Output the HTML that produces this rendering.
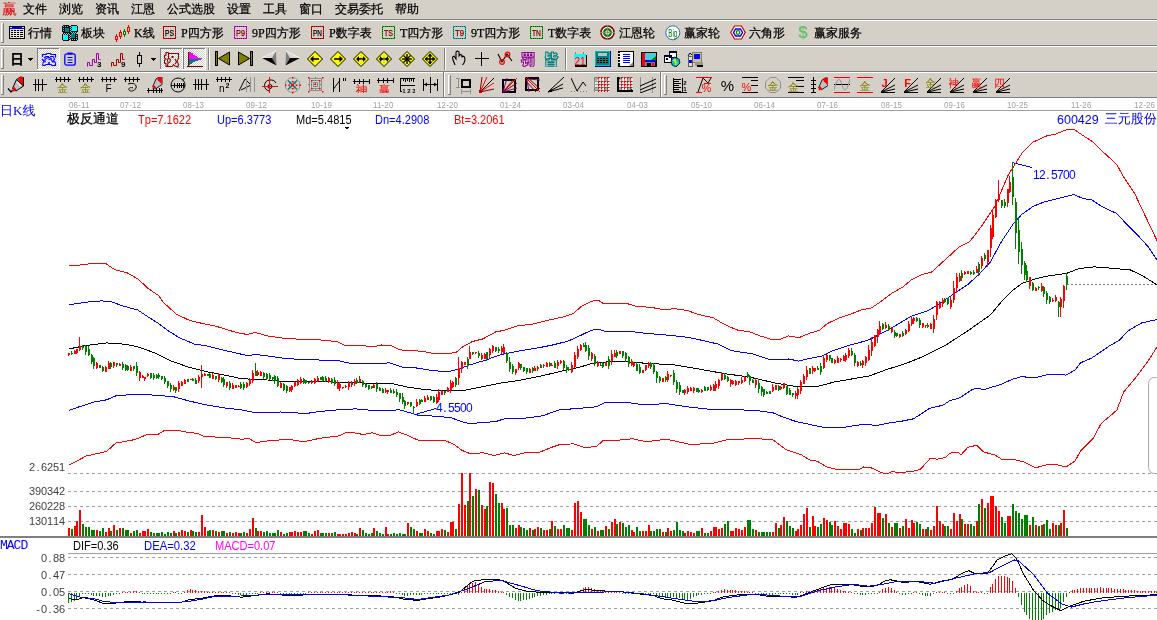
<!DOCTYPE html>
<html><head><meta charset="utf-8"><style>
html,body{margin:0;padding:0}
body{width:1157px;height:620px;overflow:hidden;background:#D4D0C8;position:relative}
.t{position:absolute;white-space:nowrap;line-height:1;}
.k{-webkit-text-stroke:0.25px currentColor;}
.ic{position:absolute;}
</style></head><body>
<div class="t k" style="left:23px;top:3px;color:#000;font-size:12px;font-family:'Liberation Sans','WenQuanYi Zen Hei','Noto Sans CJK SC',sans-serif;">文件</div>
<div class="t k" style="left:59px;top:3px;color:#000;font-size:12px;font-family:'Liberation Sans','WenQuanYi Zen Hei','Noto Sans CJK SC',sans-serif;">浏览</div>
<div class="t k" style="left:95px;top:3px;color:#000;font-size:12px;font-family:'Liberation Sans','WenQuanYi Zen Hei','Noto Sans CJK SC',sans-serif;">资讯</div>
<div class="t k" style="left:131px;top:3px;color:#000;font-size:12px;font-family:'Liberation Sans','WenQuanYi Zen Hei','Noto Sans CJK SC',sans-serif;">江恩</div>
<div class="t k" style="left:167px;top:3px;color:#000;font-size:12px;font-family:'Liberation Sans','WenQuanYi Zen Hei','Noto Sans CJK SC',sans-serif;">公式选股</div>
<div class="t k" style="left:227px;top:3px;color:#000;font-size:12px;font-family:'Liberation Sans','WenQuanYi Zen Hei','Noto Sans CJK SC',sans-serif;">设置</div>
<div class="t k" style="left:263px;top:3px;color:#000;font-size:12px;font-family:'Liberation Sans','WenQuanYi Zen Hei','Noto Sans CJK SC',sans-serif;">工具</div>
<div class="t k" style="left:299px;top:3px;color:#000;font-size:12px;font-family:'Liberation Sans','WenQuanYi Zen Hei','Noto Sans CJK SC',sans-serif;">窗口</div>
<div class="t k" style="left:335px;top:3px;color:#000;font-size:12px;font-family:'Liberation Sans','WenQuanYi Zen Hei','Noto Sans CJK SC',sans-serif;">交易委托</div>
<div class="t k" style="left:395px;top:3px;color:#000;font-size:12px;font-family:'Liberation Sans','WenQuanYi Zen Hei','Noto Sans CJK SC',sans-serif;">帮助</div>
<div class="t" style="left:2px;top:1px;color:#E00000;font-size:15px;font-family:'Liberation Sans','WenQuanYi Zen Hei','Noto Sans CJK SC',sans-serif">赢</div>
<div style="position:absolute;left:0;top:19px;width:1157px;height:1px;background:#808080"></div>
<div style="position:absolute;left:0;top:20px;width:1157px;height:1px;background:#FFFFFF"></div>
<div style="position:absolute;left:0;top:45px;width:1157px;height:1px;background:#808080"></div>
<div style="position:absolute;left:0;top:46px;width:1157px;height:1px;background:#FFFFFF"></div>
<div style="position:absolute;left:0;top:71px;width:1157px;height:1px;background:#808080"></div>
<div style="position:absolute;left:0;top:72px;width:1157px;height:1px;background:#FFFFFF"></div>
<div style="position:absolute;left:0;top:97px;width:1157px;height:1px;background:#808080"></div>
<div style="position:absolute;left:1px;top:23px;width:1px;height:20px;background:#fff"></div><div style="position:absolute;left:3px;top:23px;width:1px;height:20px;background:#808080"></div><div style="position:absolute;left:1px;top:23px;width:2px;height:1px;background:#fff"></div><div style="position:absolute;left:1px;top:42px;width:3px;height:1px;background:#808080"></div>
<div style="position:absolute;left:1px;top:49px;width:1px;height:20px;background:#fff"></div><div style="position:absolute;left:3px;top:49px;width:1px;height:20px;background:#808080"></div><div style="position:absolute;left:1px;top:49px;width:2px;height:1px;background:#fff"></div><div style="position:absolute;left:1px;top:68px;width:3px;height:1px;background:#808080"></div>
<div style="position:absolute;left:1px;top:75px;width:1px;height:20px;background:#fff"></div><div style="position:absolute;left:3px;top:75px;width:1px;height:20px;background:#808080"></div><div style="position:absolute;left:1px;top:75px;width:2px;height:1px;background:#fff"></div><div style="position:absolute;left:1px;top:94px;width:3px;height:1px;background:#808080"></div>
<div style="position:absolute;left:448px;top:75px;width:1px;height:20px;background:#fff"></div><div style="position:absolute;left:450px;top:75px;width:1px;height:20px;background:#808080"></div><div style="position:absolute;left:448px;top:75px;width:2px;height:1px;background:#fff"></div><div style="position:absolute;left:448px;top:94px;width:3px;height:1px;background:#808080"></div>
<div style="position:absolute;left:664px;top:75px;width:1px;height:20px;background:#fff"></div><div style="position:absolute;left:666px;top:75px;width:1px;height:20px;background:#808080"></div><div style="position:absolute;left:664px;top:75px;width:2px;height:1px;background:#fff"></div><div style="position:absolute;left:664px;top:94px;width:3px;height:1px;background:#808080"></div>
<div style="position:absolute;left:443px;top:72px;width:1px;height:26px;background:#808080"></div>
<div style="position:absolute;left:444px;top:72px;width:1px;height:25px;background:#fff"></div>
<div style="position:absolute;left:660px;top:72px;width:1px;height:26px;background:#808080"></div>
<div style="position:absolute;left:661px;top:72px;width:1px;height:25px;background:#fff"></div>
<div class="t k" style="left:28px;top:27px;color:#000;font-size:12px;font-family:'Liberation Serif','WenQuanYi Zen Hei',serif;">行情</div>
<div class="t k" style="left:81px;top:27px;color:#000;font-size:12px;font-family:'Liberation Serif','WenQuanYi Zen Hei',serif;">板块</div>
<div class="t k" style="left:134px;top:27px;color:#000;font-size:12px;font-family:'Liberation Serif','WenQuanYi Zen Hei',serif;">K线</div>
<div class="t k" style="left:181px;top:27px;color:#000;font-size:12px;font-family:'Liberation Serif','WenQuanYi Zen Hei',serif;">P四方形</div>
<div class="t k" style="left:252px;top:27px;color:#000;font-size:12px;font-family:'Liberation Serif','WenQuanYi Zen Hei',serif;">9P四方形</div>
<div class="t k" style="left:329px;top:27px;color:#000;font-size:12px;font-family:'Liberation Serif','WenQuanYi Zen Hei',serif;">P数字表</div>
<div class="t k" style="left:400px;top:27px;color:#000;font-size:12px;font-family:'Liberation Serif','WenQuanYi Zen Hei',serif;">T四方形</div>
<div class="t k" style="left:471px;top:27px;color:#000;font-size:12px;font-family:'Liberation Serif','WenQuanYi Zen Hei',serif;">9T四方形</div>
<div class="t k" style="left:548px;top:27px;color:#000;font-size:12px;font-family:'Liberation Serif','WenQuanYi Zen Hei',serif;">T数字表</div>
<div class="t k" style="left:619px;top:27px;color:#000;font-size:12px;font-family:'Liberation Serif','WenQuanYi Zen Hei',serif;">江恩轮</div>
<div class="t k" style="left:684px;top:27px;color:#000;font-size:12px;font-family:'Liberation Serif','WenQuanYi Zen Hei',serif;">赢家轮</div>
<div class="t k" style="left:749px;top:27px;color:#000;font-size:12px;font-family:'Liberation Serif','WenQuanYi Zen Hei',serif;">六角形</div>
<div class="t k" style="left:814px;top:27px;color:#000;font-size:12px;font-family:'Liberation Serif','WenQuanYi Zen Hei',serif;">赢家服务</div>
<svg class="ic" style="left:9px;top:26px" width="16" height="13" viewBox="0 0 16 13" shape-rendering="crispEdges"><rect x="0" y="0" width="16" height="13" fill="#000"/><rect x="1" y="1" width="14" height="2" fill="#0000FF"/><rect x="1" y="3" width="14" height="9" fill="#E8E4DC"/><rect x="1" y="1" width="2" height="1" fill="#E8E4DC"/><rect x="13" y="1" width="2" height="1" fill="#E8E4DC"/><rect x="2" y="4" width="2" height="1" fill="#000"/><rect x="5" y="4" width="2" height="1" fill="#000"/><rect x="8" y="4" width="2" height="1" fill="#000"/><rect x="11" y="4" width="3" height="1" fill="#000"/><rect x="2" y="6" width="2" height="1" fill="#000"/><rect x="5" y="6" width="2" height="1" fill="#000"/><rect x="8" y="6" width="2" height="1" fill="#000"/><rect x="11" y="6" width="3" height="1" fill="#000"/><rect x="2" y="8" width="2" height="1" fill="#000"/><rect x="5" y="8" width="2" height="1" fill="#000"/><rect x="8" y="8" width="2" height="1" fill="#000"/><rect x="11" y="8" width="3" height="1" fill="#000"/><rect x="2" y="10" width="2" height="1" fill="#000"/><rect x="5" y="10" width="2" height="1" fill="#000"/><rect x="8" y="10" width="2" height="1" fill="#000"/><rect x="11" y="10" width="3" height="1" fill="#000"/></svg>
<svg class="ic" style="left:62px;top:25px" width="16" height="16" viewBox="0 0 16 16" shape-rendering="crispEdges"><rect x="0" y="0" width="16" height="16" fill="#000"/><rect x="7" y="0" width="1" height="1" fill="#D4D0C8"/><rect x="8" y="0" width="1" height="1" fill="#D4D0C8"/><rect x="7" y="15" width="1" height="1" fill="#D4D0C8"/><rect x="8" y="15" width="1" height="1" fill="#D4D0C8"/><rect x="0" y="7" width="1" height="1" fill="#D4D0C8"/><rect x="0" y="8" width="1" height="1" fill="#D4D0C8"/><rect x="15" y="7" width="1" height="1" fill="#D4D0C8"/><rect x="15" y="8" width="1" height="1" fill="#D4D0C8"/><rect x="0" y="0" width="1" height="1" fill="#D4D0C8"/><rect x="15" y="0" width="1" height="1" fill="#D4D0C8"/><rect x="0" y="15" width="1" height="1" fill="#D4D0C8"/><rect x="15" y="15" width="1" height="1" fill="#D4D0C8"/><rect x="1" y="1" width="1" height="1" fill="#00FFFF"/><rect x="1" y="1" width="1" height="1" fill="#00FFFF"/><rect x="3" y="1" width="1" height="1" fill="#00FFFF"/><rect x="1" y="3" width="1" height="1" fill="#00FFFF"/><rect x="5" y="1" width="1" height="1" fill="#00FFFF"/><rect x="1" y="5" width="1" height="1" fill="#00FFFF"/><rect x="9" y="1" width="1" height="1" fill="#00FFFF"/><rect x="8" y="2" width="1" height="1" fill="#00FFFF"/><rect x="9" y="3" width="1" height="1" fill="#00FFFF"/><rect x="8" y="4" width="1" height="1" fill="#00FFFF"/><rect x="9" y="5" width="1" height="1" fill="#00FFFF"/><rect x="8" y="6" width="1" height="1" fill="#00FFFF"/><rect x="9" y="7" width="1" height="1" fill="#00FFFF"/><rect x="9" y="7" width="1" height="1" fill="#00FFFF"/><rect x="10" y="8" width="1" height="1" fill="#00FFFF"/><rect x="11" y="7" width="1" height="1" fill="#00FFFF"/><rect x="12" y="8" width="1" height="1" fill="#00FFFF"/><rect x="13" y="7" width="1" height="1" fill="#00FFFF"/><rect x="14" y="8" width="1" height="1" fill="#00FFFF"/><rect x="1" y="9" width="1" height="1" fill="#00FFFF"/><rect x="2" y="8" width="1" height="1" fill="#00FFFF"/><rect x="3" y="9" width="1" height="1" fill="#00FFFF"/><rect x="4" y="8" width="1" height="1" fill="#00FFFF"/><rect x="5" y="9" width="1" height="1" fill="#00FFFF"/><rect x="6" y="8" width="1" height="1" fill="#00FFFF"/><rect x="7" y="9" width="1" height="1" fill="#00FFFF"/><rect x="8" y="10" width="1" height="1" fill="#00FFFF"/><rect x="7" y="11" width="1" height="1" fill="#00FFFF"/><rect x="8" y="12" width="1" height="1" fill="#00FFFF"/><rect x="7" y="13" width="1" height="1" fill="#00FFFF"/><rect x="8" y="14" width="1" height="1" fill="#00FFFF"/><rect x="14" y="10" width="1" height="1" fill="#00FFFF"/><rect x="10" y="14" width="1" height="1" fill="#00FFFF"/><rect x="14" y="12" width="1" height="1" fill="#00FFFF"/><rect x="12" y="14" width="1" height="1" fill="#00FFFF"/><rect x="14" y="14" width="1" height="1" fill="#00FFFF"/><rect x="14" y="14" width="1" height="1" fill="#00FFFF"/><rect x="3" y="3" width="4" height="4" fill="#008080"/><rect x="10" y="1" width="5" height="5" fill="#00FFFF"/><rect x="1" y="10" width="5" height="5" fill="#00FFFF"/><rect x="9" y="9" width="4" height="4" fill="#008080"/></svg>
<svg class="ic" style="left:114px;top:25px" width="17" height="17" viewBox="0 0 17 17" shape-rendering="crispEdges"><rect x="2" y="9" width="1" height="2" fill="#FF0000"/><rect x="1" y="11" width="3" height="4" fill="#FF0000"/><rect x="2" y="12" width="1" height="2" fill="#D4D0C8"/><rect x="2" y="15" width="1" height="2" fill="#FF0000"/><rect x="6" y="5" width="1" height="2" fill="#FF0000"/><rect x="5" y="7" width="3" height="5" fill="#FF0000"/><rect x="6" y="8" width="1" height="3" fill="#D4D0C8"/><rect x="6" y="12" width="1" height="2" fill="#FF0000"/><rect x="10" y="4" width="1" height="2" fill="#008000"/><rect x="9" y="6" width="3" height="4" fill="#008000"/><rect x="10" y="7" width="1" height="2" fill="#D4D0C8"/><rect x="10" y="10" width="1" height="2" fill="#008000"/><rect x="14" y="0" width="1" height="2" fill="#FF0000"/><rect x="13" y="2" width="3" height="5" fill="#FF0000"/><rect x="14" y="3" width="1" height="3" fill="#D4D0C8"/><rect x="14" y="7" width="1" height="2" fill="#FF0000"/></svg>
<svg class="ic" style="left:163px;top:26px" width="13" height="13" viewBox="0 0 13 13"><rect x="0" y="0" width="13" height="13" fill="#FF0000"/><rect x="1" y="0" width="1" height="1" fill="#800000"/><rect x="1" y="12" width="1" height="1" fill="#800000"/><rect x="0" y="1" width="1" height="1" fill="#800000"/><rect x="12" y="1" width="1" height="1" fill="#800000"/><rect x="3" y="0" width="1" height="1" fill="#800000"/><rect x="3" y="12" width="1" height="1" fill="#800000"/><rect x="0" y="3" width="1" height="1" fill="#800000"/><rect x="12" y="3" width="1" height="1" fill="#800000"/><rect x="5" y="0" width="1" height="1" fill="#800000"/><rect x="5" y="12" width="1" height="1" fill="#800000"/><rect x="0" y="5" width="1" height="1" fill="#800000"/><rect x="12" y="5" width="1" height="1" fill="#800000"/><rect x="7" y="0" width="1" height="1" fill="#800000"/><rect x="7" y="12" width="1" height="1" fill="#800000"/><rect x="0" y="7" width="1" height="1" fill="#800000"/><rect x="12" y="7" width="1" height="1" fill="#800000"/><rect x="9" y="0" width="1" height="1" fill="#800000"/><rect x="9" y="12" width="1" height="1" fill="#800000"/><rect x="0" y="9" width="1" height="1" fill="#800000"/><rect x="12" y="9" width="1" height="1" fill="#800000"/><rect x="11" y="0" width="1" height="1" fill="#800000"/><rect x="11" y="12" width="1" height="1" fill="#800000"/><rect x="0" y="11" width="1" height="1" fill="#800000"/><rect x="12" y="11" width="1" height="1" fill="#800000"/><rect x="1" y="1" width="11" height="11" fill="#D4D0C8"/><text textLength="9" lengthAdjust="spacingAndGlyphs" stroke="#000" stroke-width="0.25" x="6.5" y="10" fill="#000" font-size="9" font-family="'Liberation Sans',sans-serif" font-weight="normal" text-anchor="middle">PS</text></svg>
<svg class="ic" style="left:234px;top:26px" width="13" height="13" viewBox="0 0 13 13"><rect x="0" y="0" width="13" height="13" fill="#FF00FF"/><rect x="1" y="0" width="1" height="1" fill="#800080"/><rect x="1" y="12" width="1" height="1" fill="#800080"/><rect x="0" y="1" width="1" height="1" fill="#800080"/><rect x="12" y="1" width="1" height="1" fill="#800080"/><rect x="3" y="0" width="1" height="1" fill="#800080"/><rect x="3" y="12" width="1" height="1" fill="#800080"/><rect x="0" y="3" width="1" height="1" fill="#800080"/><rect x="12" y="3" width="1" height="1" fill="#800080"/><rect x="5" y="0" width="1" height="1" fill="#800080"/><rect x="5" y="12" width="1" height="1" fill="#800080"/><rect x="0" y="5" width="1" height="1" fill="#800080"/><rect x="12" y="5" width="1" height="1" fill="#800080"/><rect x="7" y="0" width="1" height="1" fill="#800080"/><rect x="7" y="12" width="1" height="1" fill="#800080"/><rect x="0" y="7" width="1" height="1" fill="#800080"/><rect x="12" y="7" width="1" height="1" fill="#800080"/><rect x="9" y="0" width="1" height="1" fill="#800080"/><rect x="9" y="12" width="1" height="1" fill="#800080"/><rect x="0" y="9" width="1" height="1" fill="#800080"/><rect x="12" y="9" width="1" height="1" fill="#800080"/><rect x="11" y="0" width="1" height="1" fill="#800080"/><rect x="11" y="12" width="1" height="1" fill="#800080"/><rect x="0" y="11" width="1" height="1" fill="#800080"/><rect x="12" y="11" width="1" height="1" fill="#800080"/><rect x="1" y="1" width="11" height="11" fill="#D4D0C8"/><text textLength="9" lengthAdjust="spacingAndGlyphs" stroke="#800000" stroke-width="0.25" x="6.5" y="10" fill="#800000" font-size="9" font-family="'Liberation Sans',sans-serif" font-weight="normal" text-anchor="middle">P9</text></svg>
<svg class="ic" style="left:311px;top:26px" width="13" height="13" viewBox="0 0 13 13"><rect x="0" y="0" width="13" height="13" fill="#FF0000"/><rect x="1" y="0" width="1" height="1" fill="#800000"/><rect x="1" y="12" width="1" height="1" fill="#800000"/><rect x="0" y="1" width="1" height="1" fill="#800000"/><rect x="12" y="1" width="1" height="1" fill="#800000"/><rect x="3" y="0" width="1" height="1" fill="#800000"/><rect x="3" y="12" width="1" height="1" fill="#800000"/><rect x="0" y="3" width="1" height="1" fill="#800000"/><rect x="12" y="3" width="1" height="1" fill="#800000"/><rect x="5" y="0" width="1" height="1" fill="#800000"/><rect x="5" y="12" width="1" height="1" fill="#800000"/><rect x="0" y="5" width="1" height="1" fill="#800000"/><rect x="12" y="5" width="1" height="1" fill="#800000"/><rect x="7" y="0" width="1" height="1" fill="#800000"/><rect x="7" y="12" width="1" height="1" fill="#800000"/><rect x="0" y="7" width="1" height="1" fill="#800000"/><rect x="12" y="7" width="1" height="1" fill="#800000"/><rect x="9" y="0" width="1" height="1" fill="#800000"/><rect x="9" y="12" width="1" height="1" fill="#800000"/><rect x="0" y="9" width="1" height="1" fill="#800000"/><rect x="12" y="9" width="1" height="1" fill="#800000"/><rect x="11" y="0" width="1" height="1" fill="#800000"/><rect x="11" y="12" width="1" height="1" fill="#800000"/><rect x="0" y="11" width="1" height="1" fill="#800000"/><rect x="12" y="11" width="1" height="1" fill="#800000"/><rect x="1" y="1" width="11" height="11" fill="#D4D0C8"/><text textLength="9" lengthAdjust="spacingAndGlyphs" stroke="#000" stroke-width="0.25" x="6.5" y="10" fill="#000" font-size="9" font-family="'Liberation Sans',sans-serif" font-weight="normal" text-anchor="middle">PN</text></svg>
<svg class="ic" style="left:382px;top:26px" width="13" height="13" viewBox="0 0 13 13"><rect x="0" y="0" width="13" height="13" fill="#00C000"/><rect x="1" y="0" width="1" height="1" fill="#006000"/><rect x="1" y="12" width="1" height="1" fill="#006000"/><rect x="0" y="1" width="1" height="1" fill="#006000"/><rect x="12" y="1" width="1" height="1" fill="#006000"/><rect x="3" y="0" width="1" height="1" fill="#006000"/><rect x="3" y="12" width="1" height="1" fill="#006000"/><rect x="0" y="3" width="1" height="1" fill="#006000"/><rect x="12" y="3" width="1" height="1" fill="#006000"/><rect x="5" y="0" width="1" height="1" fill="#006000"/><rect x="5" y="12" width="1" height="1" fill="#006000"/><rect x="0" y="5" width="1" height="1" fill="#006000"/><rect x="12" y="5" width="1" height="1" fill="#006000"/><rect x="7" y="0" width="1" height="1" fill="#006000"/><rect x="7" y="12" width="1" height="1" fill="#006000"/><rect x="0" y="7" width="1" height="1" fill="#006000"/><rect x="12" y="7" width="1" height="1" fill="#006000"/><rect x="9" y="0" width="1" height="1" fill="#006000"/><rect x="9" y="12" width="1" height="1" fill="#006000"/><rect x="0" y="9" width="1" height="1" fill="#006000"/><rect x="12" y="9" width="1" height="1" fill="#006000"/><rect x="11" y="0" width="1" height="1" fill="#006000"/><rect x="11" y="12" width="1" height="1" fill="#006000"/><rect x="0" y="11" width="1" height="1" fill="#006000"/><rect x="12" y="11" width="1" height="1" fill="#006000"/><rect x="1" y="1" width="11" height="11" fill="#D4D0C8"/><text textLength="9" lengthAdjust="spacingAndGlyphs" stroke="#800000" stroke-width="0.25" x="6.5" y="10" fill="#800000" font-size="9" font-family="'Liberation Sans',sans-serif" font-weight="normal" text-anchor="middle">TS</text></svg>
<svg class="ic" style="left:453px;top:26px" width="13" height="13" viewBox="0 0 13 13"><rect x="0" y="0" width="13" height="13" fill="#00C0C0"/><rect x="1" y="0" width="1" height="1" fill="#006060"/><rect x="1" y="12" width="1" height="1" fill="#006060"/><rect x="0" y="1" width="1" height="1" fill="#006060"/><rect x="12" y="1" width="1" height="1" fill="#006060"/><rect x="3" y="0" width="1" height="1" fill="#006060"/><rect x="3" y="12" width="1" height="1" fill="#006060"/><rect x="0" y="3" width="1" height="1" fill="#006060"/><rect x="12" y="3" width="1" height="1" fill="#006060"/><rect x="5" y="0" width="1" height="1" fill="#006060"/><rect x="5" y="12" width="1" height="1" fill="#006060"/><rect x="0" y="5" width="1" height="1" fill="#006060"/><rect x="12" y="5" width="1" height="1" fill="#006060"/><rect x="7" y="0" width="1" height="1" fill="#006060"/><rect x="7" y="12" width="1" height="1" fill="#006060"/><rect x="0" y="7" width="1" height="1" fill="#006060"/><rect x="12" y="7" width="1" height="1" fill="#006060"/><rect x="9" y="0" width="1" height="1" fill="#006060"/><rect x="9" y="12" width="1" height="1" fill="#006060"/><rect x="0" y="9" width="1" height="1" fill="#006060"/><rect x="12" y="9" width="1" height="1" fill="#006060"/><rect x="11" y="0" width="1" height="1" fill="#006060"/><rect x="11" y="12" width="1" height="1" fill="#006060"/><rect x="0" y="11" width="1" height="1" fill="#006060"/><rect x="12" y="11" width="1" height="1" fill="#006060"/><rect x="1" y="1" width="11" height="11" fill="#D4D0C8"/><text textLength="9" lengthAdjust="spacingAndGlyphs" stroke="#800000" stroke-width="0.25" x="6.5" y="10" fill="#800000" font-size="9" font-family="'Liberation Sans',sans-serif" font-weight="normal" text-anchor="middle">T9</text></svg>
<svg class="ic" style="left:530px;top:26px" width="13" height="13" viewBox="0 0 13 13"><rect x="0" y="0" width="13" height="13" fill="#00C000"/><rect x="1" y="0" width="1" height="1" fill="#006000"/><rect x="1" y="12" width="1" height="1" fill="#006000"/><rect x="0" y="1" width="1" height="1" fill="#006000"/><rect x="12" y="1" width="1" height="1" fill="#006000"/><rect x="3" y="0" width="1" height="1" fill="#006000"/><rect x="3" y="12" width="1" height="1" fill="#006000"/><rect x="0" y="3" width="1" height="1" fill="#006000"/><rect x="12" y="3" width="1" height="1" fill="#006000"/><rect x="5" y="0" width="1" height="1" fill="#006000"/><rect x="5" y="12" width="1" height="1" fill="#006000"/><rect x="0" y="5" width="1" height="1" fill="#006000"/><rect x="12" y="5" width="1" height="1" fill="#006000"/><rect x="7" y="0" width="1" height="1" fill="#006000"/><rect x="7" y="12" width="1" height="1" fill="#006000"/><rect x="0" y="7" width="1" height="1" fill="#006000"/><rect x="12" y="7" width="1" height="1" fill="#006000"/><rect x="9" y="0" width="1" height="1" fill="#006000"/><rect x="9" y="12" width="1" height="1" fill="#006000"/><rect x="0" y="9" width="1" height="1" fill="#006000"/><rect x="12" y="9" width="1" height="1" fill="#006000"/><rect x="11" y="0" width="1" height="1" fill="#006000"/><rect x="11" y="12" width="1" height="1" fill="#006000"/><rect x="0" y="11" width="1" height="1" fill="#006000"/><rect x="12" y="11" width="1" height="1" fill="#006000"/><rect x="1" y="1" width="11" height="11" fill="#D4D0C8"/><text textLength="9" lengthAdjust="spacingAndGlyphs" stroke="#800000" stroke-width="0.25" x="6.5" y="10" fill="#800000" font-size="9" font-family="'Liberation Sans',sans-serif" font-weight="normal" text-anchor="middle">TN</text></svg>
<svg class="ic" style="left:600px;top:25px" width="15" height="15" viewBox="0 0 15 15"><circle cx="7.5" cy="7.5" r="6.5" fill="#fff" stroke="#800000" stroke-width="1.6"/><circle cx="7.5" cy="7.5" r="3.4" fill="none" stroke="#008000" stroke-width="2.2"/><circle cx="7.5" cy="7.5" r="1.4" fill="#FF7050"/><polyline points="0,7.5 15,7.5" fill="none" stroke="#909090" stroke-width="0.8" /><polyline points="7.5,0 7.5,15" fill="none" stroke="#909090" stroke-width="0.8" /></svg>
<svg class="ic" style="left:665px;top:25px" width="16" height="16" viewBox="0 0 16 16"><circle cx="7.8" cy="7.8" r="7" fill="#fff" stroke="#2070A8" stroke-width="1"/><text textLength="9" lengthAdjust="spacingAndGlyphs" x="7.8" y="11.5" fill="#008000" font-size="10" font-family="'Liberation Sans Narrow','Liberation Sans',sans-serif" font-weight="normal" text-anchor="middle">Big</text></svg>
<svg class="ic" style="left:730px;top:25px" width="16" height="15" viewBox="0 0 16 15"><polygon points="0.8,7.5 4.5,1 11.5,1 15.2,7.5 11.5,14 4.5,14" fill="#fff" stroke="#C00000" stroke-width="1.2"/><polygon points="3.5,7.5 5.5,4 10.5,4 12.5,7.5 10.5,11 5.5,11" fill="#fff" stroke="#0000E0" stroke-width="1.4"/><circle cx="8" cy="7.5" r="1.8" fill="#fff" stroke="#008000" stroke-width="1.2"/></svg>
<svg class="ic" style="left:797px;top:24px" width="12" height="17" viewBox="0 0 12 17"><text x="6" y="14" fill="#70C070" font-size="17" font-family="'Liberation Sans',sans-serif" font-weight="bold" text-anchor="middle">$</text></svg>
<div class="t" style="left:10px;top:48px;font:bold 14px 'Liberation Sans','Noto Sans CJK SC',sans-serif;color:#000">日</div>
<svg class="ic" style="left:28px;top:58px" width="5" height="3" viewBox="0 0 5 3" shape-rendering="crispEdges"><rect x="0" y="0" width="5" height="1" fill="#000"/><rect x="1" y="1" width="3" height="1" fill="#000"/><rect x="2" y="2" width="1" height="1" fill="#000"/></svg>
<svg class="ic" style="left:151px;top:58px" width="5" height="3" viewBox="0 0 5 3" shape-rendering="crispEdges"><rect x="0" y="0" width="5" height="1" fill="#000"/><rect x="1" y="1" width="3" height="1" fill="#000"/><rect x="2" y="2" width="1" height="1" fill="#000"/></svg>
<svg class="ic" style="left:37px;top:48px" width="23" height="22" viewBox="0 0 23 22" shape-rendering="crispEdges"><defs><pattern id="dp37" width="2" height="2" patternUnits="userSpaceOnUse"><rect width="2" height="2" fill="#D4D0C8"/><rect width="1" height="1" fill="#fff"/><rect x="1" y="1" width="1" height="1" fill="#fff"/></pattern></defs><rect x="0" y="0" width="23" height="22" fill="url(#dp37)"/><rect x="0" y="0" width="23" height="1" fill="#808080"/><rect x="0" y="0" width="1" height="22" fill="#808080"/><rect x="0" y="21" width="23" height="1" fill="#fff"/><rect x="22" y="0" width="1" height="22" fill="#fff"/></svg>
<svg class="ic" style="left:160px;top:48px" width="23" height="22" viewBox="0 0 23 22" shape-rendering="crispEdges"><defs><pattern id="dp160" width="2" height="2" patternUnits="userSpaceOnUse"><rect width="2" height="2" fill="#D4D0C8"/><rect width="1" height="1" fill="#fff"/><rect x="1" y="1" width="1" height="1" fill="#fff"/></pattern></defs><rect x="0" y="0" width="23" height="22" fill="url(#dp160)"/><rect x="0" y="0" width="23" height="1" fill="#808080"/><rect x="0" y="0" width="1" height="22" fill="#808080"/><rect x="0" y="21" width="23" height="1" fill="#fff"/><rect x="22" y="0" width="1" height="22" fill="#fff"/></svg>
<svg class="ic" style="left:183px;top:48px" width="23" height="22" viewBox="0 0 23 22" shape-rendering="crispEdges"><defs><pattern id="dp183" width="2" height="2" patternUnits="userSpaceOnUse"><rect width="2" height="2" fill="#D4D0C8"/><rect width="1" height="1" fill="#fff"/><rect x="1" y="1" width="1" height="1" fill="#fff"/></pattern></defs><rect x="0" y="0" width="23" height="22" fill="url(#dp183)"/><rect x="0" y="0" width="23" height="1" fill="#808080"/><rect x="0" y="0" width="1" height="22" fill="#808080"/><rect x="0" y="21" width="23" height="1" fill="#fff"/><rect x="22" y="0" width="1" height="22" fill="#fff"/></svg>
<svg class="ic" style="left:41px;top:52px" width="16" height="15" viewBox="0 0 16 15"><polyline points="1.5,5 1.5,2.5 5,2.5 6,1.5 9,1.5 10,2.5 14.5,2.5 14.5,5.5" fill="none" stroke="#0000FF" stroke-width="1.2" /><polyline points="14.5,10.5 14.5,13.5 11,13.5 10,12.5 5,12.5 4,13.5 2,13.5 1.5,11.5" fill="none" stroke="#0000FF" stroke-width="1.2" /><polyline points="1,7 3,9 2,11" fill="none" stroke="#0000FF" stroke-width="1.2" /><polyline points="3,6 5,4.5 8,4.5" fill="none" stroke="#0000FF" stroke-width="1.2" /><polyline points="9,4.5 12,4.5 13.5,7 12.5,9 14.5,10.5" fill="none" stroke="#0000FF" stroke-width="1.2" /><polyline points="4,10.5 4,7.5 6,6 8,5.5 10,6.5 11,9 12.5,10.5" fill="none" stroke="#0000FF" stroke-width="1.2" /><polyline points="7.5,7.5 9.5,7.5" fill="none" stroke="#0000FF" stroke-width="1.2" /><polyline points="7,11.5 8,10.5 9,11.5" fill="none" stroke="#0000FF" stroke-width="1.2" /></svg>
<svg class="ic" style="left:64px;top:52px" width="12" height="14" viewBox="0 0 12 14"><rect x="0.8" y="1.8" width="10.4" height="11.4" rx="2" fill="none" stroke="#0000FF" stroke-width="1.3"/><rect x="3.5" y="0.5" width="5" height="2" fill="#0000FF"/><rect x="3.5" y="5" width="5" height="1" fill="#0000FF"/><rect x="3.5" y="7.5" width="5" height="1" fill="#0000FF"/><rect x="3.5" y="10" width="5" height="1" fill="#0000FF"/></svg>
<svg class="ic" style="left:86px;top:52px" width="16" height="16" viewBox="0 0 16 16"><polyline points="1.5,14.5 1.5,10.5 3.5,10.5 3.5,13.5 6.5,13.5 6.5,7.5 8.5,7.5 8.5,10.5 10.5,10.5 10.5,1.5 12.5,1.5 12.5,7.5 14.5,7.5" fill="none" stroke="#A000A0" stroke-width="1" /><text x="11" y="15" fill="#000" font-size="8" font-family="'Liberation Sans',sans-serif" font-weight="bold" text-anchor="start">3</text></svg>
<svg class="ic" style="left:110px;top:52px" width="16" height="16" viewBox="0 0 16 16"><polyline points="1.5,14.5 1.5,10.5 3.5,10.5 3.5,13.5 6.5,13.5 6.5,7.5 8.5,7.5 8.5,10.5 10.5,10.5 10.5,1.5 12.5,1.5 12.5,7.5 14.5,7.5" fill="none" stroke="#A00000" stroke-width="1" /><text x="11" y="15" fill="#000" font-size="8" font-family="'Liberation Sans',sans-serif" font-weight="bold" text-anchor="start">9</text></svg>
<svg class="ic" style="left:137px;top:52px" width="5" height="15" viewBox="0 0 5 15" shape-rendering="crispEdges"><rect x="2" y="0" width="1" height="3" fill="#000"/><rect x="0" y="3" width="5" height="9" fill="#000"/><rect x="1" y="4" width="3" height="7" fill="#D4D0C8"/><rect x="2" y="12" width="1" height="3" fill="#000"/></svg>
<svg class="ic" style="left:163px;top:51px" width="17" height="17" viewBox="0 0 17 17"><polyline points="5.5,1.5 3,1.5 3,4 1.5,4.5 1.5,7 3,8 1.5,9 1.5,12 3,12.5 3,15.5 9,15.5 10.5,13.5 12,15 15,16 15.5,13 14,10.5 15.5,7 15.5,2.5 5.5,2.5 5.5,1.5" fill="none" stroke="#900000" stroke-width="1.1" /><polyline points="5.5,2.5 5.5,7 4.5,9 5,12 4.5,15" fill="none" stroke="#900000" stroke-width="1.1" /><polyline points="6,7.5 7.5,8.5 7,11 5.5,12" fill="none" stroke="#900000" stroke-width="1.1" /><rect x="8.5" y="5" width="2" height="2" fill="#900000"/><polyline points="12,8 13.5,11 12,13" fill="none" stroke="#900000" stroke-width="1.1" /></svg>
<svg class="ic" style="left:183px;top:48px" width="22" height="21" viewBox="0 0 22 21"><rect x="5" y="4" width="1" height="15" fill="#800000"/><rect x="4" y="18" width="16" height="1" fill="#800000"/><polygon points="6,4 8,4 8,5 10,5 10,7 12,7 12,8 14,8 14,9 15,9 15,10 19,10 19,11 6,11" fill="#FF00FF"/><polygon points="6,11 18,11 18,12 15,12 15,13 12,13 12,14 10,14 10,15 9,15 9,16 7,16 7,17 6,17" fill="#008080"/></svg>
<svg class="ic" style="left:208px;top:48px" width="2" height="22" viewBox="0 0 2 22" shape-rendering="crispEdges"><rect x="0" y="0" width="1" height="22" fill="#808080"/><rect x="1" y="0" width="1" height="22" fill="#fff"/></svg>
<svg class="ic" style="left:444px;top:48px" width="2" height="22" viewBox="0 0 2 22" shape-rendering="crispEdges"><rect x="0" y="0" width="1" height="22" fill="#808080"/><rect x="1" y="0" width="1" height="22" fill="#fff"/></svg>
<svg class="ic" style="left:565px;top:48px" width="2" height="22" viewBox="0 0 2 22" shape-rendering="crispEdges"><rect x="0" y="0" width="1" height="22" fill="#808080"/><rect x="1" y="0" width="1" height="22" fill="#fff"/></svg>
<svg class="ic" style="left:215px;top:51px" width="16" height="16" viewBox="0 0 16 16"><rect x="0" y="0" width="3" height="15" fill="#000"/><rect x="1" y="1" width="1" height="13" fill="#808000"/><polygon points="3.5,7.5 14.5,1 14.5,14" fill="#808000" stroke="#000" stroke-width="1"/></svg>
<svg class="ic" style="left:238px;top:51px" width="16" height="16" viewBox="0 0 16 16"><polygon points="0.5,1 11.5,7.5 0.5,14" fill="#808000" stroke="#000" stroke-width="1"/><rect x="12" y="0" width="3" height="15" fill="#000"/><rect x="13" y="1" width="1" height="13" fill="#808000"/></svg>
<svg class="ic" style="left:262px;top:51px" width="15" height="15" viewBox="0 0 15 15"><polygon points="0,7 14,0 10,7" fill="#DCD8D0"/><polygon points="14,0 14.5,14.5 10,7" fill="#808080"/><polygon points="0,7 10,7 14.5,14.5" fill="#000"/><polyline points="0,7 14,0" stroke="#F4F4F4" fill="none"/></svg>
<svg class="ic" style="left:285px;top:51px" width="15" height="15" viewBox="0 0 15 15"><polygon points="15,7 1,0 5,7" fill="#DCD8D0"/><polygon points="1,0 0.5,14.5 5,7" fill="#808080"/><polygon points="15,7 5,7 0.5,14.5" fill="#000"/><polyline points="15,7 1,0" stroke="#F4F4F4" fill="none"/></svg>
<svg class="ic" style="left:306.5px;top:50.5px" width="16" height="16" viewBox="0 0 16 16"><polygon points="8,0.5 15.5,8 8,15.5 0.5,8" fill="#FFFF00" stroke="#000" stroke-width="1"/><polyline points="4,8 12,8" fill="none" stroke="#000" stroke-width="1.6" /><polygon points="3,8 6.5,4.8 6.5,11.2" fill="#000"/></svg>
<svg class="ic" style="left:329.5px;top:50.5px" width="16" height="16" viewBox="0 0 16 16"><polygon points="8,0.5 15.5,8 8,15.5 0.5,8" fill="#FFFF00" stroke="#000" stroke-width="1"/><polyline points="4,8 12,8" fill="none" stroke="#000" stroke-width="1.6" /><polygon points="13,8 9.5,4.8 9.5,11.2" fill="#000"/></svg>
<svg class="ic" style="left:352.5px;top:50.5px" width="16" height="16" viewBox="0 0 16 16"><polygon points="8,0.5 15.5,8 8,15.5 0.5,8" fill="#FFFF00" stroke="#000" stroke-width="1"/><polyline points="4,8 12,8" fill="none" stroke="#000" stroke-width="1.6" /><polygon points="3,8 6,5 6,11" fill="#000"/><polygon points="13,8 10,5 10,11" fill="#000"/><polyline points="8,2 8,14" fill="none" stroke="#A0A0A0" stroke-width="0.8" stroke-dasharray="1,1"/></svg>
<svg class="ic" style="left:375.5px;top:50.5px" width="16" height="16" viewBox="0 0 16 16"><polygon points="8,0.5 15.5,8 8,15.5 0.5,8" fill="#FFFF00" stroke="#000" stroke-width="1"/><polyline points="3,8 13,8" fill="none" stroke="#000" stroke-width="1.4" /><polygon points="7,8 4,5 4,11" fill="#000"/><polygon points="9,8 12,5 12,11" fill="#000"/><polyline points="8,4 8,12" fill="none" stroke="#A0A0A0" stroke-width="0.8" /></svg>
<svg class="ic" style="left:398.5px;top:50.5px" width="16" height="16" viewBox="0 0 16 16"><polygon points="8,0.5 15.5,8 8,15.5 0.5,8" fill="#FFFF00" stroke="#000" stroke-width="1"/><polyline points="3,8 13,8" fill="none" stroke="#000" stroke-width="1.4" /><polyline points="8,3 8,13" fill="none" stroke="#000" stroke-width="1.4" /><polyline points="4.5,4.5 11.5,11.5" fill="none" stroke="#000" stroke-width="1.2" /><polyline points="11.5,4.5 4.5,11.5" fill="none" stroke="#000" stroke-width="1.2" /></svg>
<svg class="ic" style="left:421.5px;top:50.5px" width="16" height="16" viewBox="0 0 16 16"><polygon points="8,0.5 15.5,8 8,15.5 0.5,8" fill="#FFFF00" stroke="#000" stroke-width="1"/><polyline points="3,8 13,8" fill="none" stroke="#000" stroke-width="1.4" /><polyline points="8,3 8,13" fill="none" stroke="#000" stroke-width="1.4" /><polygon points="8,2.5 5.5,5.5 10.5,5.5" fill="#000"/><polygon points="8,13.5 5.5,10.5 10.5,10.5" fill="#000"/><polygon points="2.5,8 5.5,5.5 5.5,10.5" fill="#000"/><polygon points="13.5,8 10.5,5.5 10.5,10.5" fill="#000"/></svg>
<svg class="ic" style="left:452px;top:50px" width="14" height="16" viewBox="0 0 14 16"><path d="M3,15 L1,10 L0.5,7 L2,6 L4,9 L4,2 L5.5,1 L7,2 L7,6 L8,4.5 L9.5,5 L10,7 L11,6 L12.5,7 L13,10 L12,13 L10.5,15" fill="none" stroke="#000" stroke-width="1.1"/></svg>
<svg class="ic" style="left:475px;top:52px" width="14" height="14" viewBox="0 0 14 14" shape-rendering="crispEdges"><rect x="0" y="6" width="14" height="1" fill="#000"/><rect x="6" y="0" width="1" height="14" fill="#000"/></svg>
<svg class="ic" style="left:497px;top:51px" width="16" height="15" viewBox="0 0 16 15"><polyline points="1,3 5,11 10,3 15,10" fill="none" stroke="#000" stroke-width="1.1" /><circle cx="5" cy="11" r="2.3" fill="none" stroke="#FF0000" stroke-width="1.3"/><circle cx="10.5" cy="3.5" r="2.3" fill="none" stroke="#FF0000" stroke-width="1.3"/></svg>
<svg class="ic" style="left:520px;top:51px" width="16" height="16" viewBox="0 0 16 16"><text x="8" y="13.5" fill="none" stroke="#900090" stroke-width="1" font-size="15" font-family="'Liberation Sans','Noto Sans CJK SC',sans-serif" font-weight="900" text-anchor="middle">罚</text></svg>
<svg class="ic" style="left:543px;top:51px" width="16" height="16" viewBox="0 0 16 16"><text x="8" y="13.5" fill="none" stroke="#008080" stroke-width="1" font-size="15" font-family="'Liberation Sans','Noto Sans CJK SC',sans-serif" font-weight="900" text-anchor="middle">皆</text></svg>
<svg class="ic" style="left:573px;top:51px" width="15" height="16" viewBox="0 0 15 16"><rect x="1" y="3" width="12" height="12" fill="#C0C0C0"/><rect x="2" y="14" width="12" height="2" fill="#000"/><rect x="13" y="4" width="1" height="12" fill="#000"/><rect x="1" y="3" width="12" height="3" fill="#00FFFF"/><rect x="2" y="1" width="1" height="2" fill="#808080"/><rect x="10" y="1" width="1" height="2" fill="#808080"/><text x="7" y="14" fill="#FF0000" font-size="10" font-family="'Liberation Sans',sans-serif" font-weight="normal" text-anchor="middle">21</text></svg>
<svg class="ic" style="left:595px;top:51px" width="16" height="16" viewBox="0 0 16 16" shape-rendering="crispEdges"><rect x="0" y="0" width="16" height="16" fill="#000080"/><rect x="0" y="0" width="15" height="15" fill="#00C0C0"/><rect x="1" y="1" width="13" height="13" fill="#008080"/><rect x="3" y="2" width="9" height="3" fill="#C0C0C0"/><rect x="2" y="7" width="2" height="1" fill="#000"/><rect x="5" y="7" width="2" height="1" fill="#000"/><rect x="8" y="7" width="2" height="1" fill="#000"/><rect x="11" y="7" width="2" height="1" fill="#000"/><rect x="2" y="9" width="2" height="1" fill="#000"/><rect x="5" y="9" width="2" height="1" fill="#000"/><rect x="8" y="9" width="2" height="1" fill="#000"/><rect x="11" y="9" width="2" height="1" fill="#000"/><rect x="2" y="11" width="2" height="1" fill="#000"/><rect x="5" y="11" width="2" height="1" fill="#000"/><rect x="8" y="11" width="2" height="1" fill="#000"/><rect x="11" y="11" width="2" height="1" fill="#000"/></svg>
<svg class="ic" style="left:618px;top:51px" width="16" height="16" viewBox="0 0 16 16"><rect x="0" y="0" width="16" height="16" fill="#000"/><rect x="2" y="1" width="13" height="14" fill="#fff"/><rect x="1" y="1" width="1" height="14" fill="#000"/><rect x="5" y="3" width="7" height="1" fill="#0000FF"/><rect x="5" y="5" width="7" height="1" fill="#0000FF"/><rect x="5" y="7" width="7" height="1" fill="#0000FF"/><rect x="5" y="9" width="7" height="1" fill="#0000FF"/><rect x="5" y="11" width="7" height="1" fill="#0000FF"/><rect x="0" y="2" width="2" height="1" fill="#fff"/><rect x="0" y="5" width="2" height="1" fill="#fff"/><rect x="0" y="8" width="2" height="1" fill="#fff"/><rect x="0" y="11" width="2" height="1" fill="#fff"/><polygon points="11,15 15,11 15,15" fill="#808080"/></svg>
<svg class="ic" style="left:641px;top:52px" width="16" height="15" viewBox="0 0 16 15"><rect x="0" y="0" width="16" height="15" fill="#000"/><rect x="1" y="1" width="3" height="13" fill="#FF0000"/><rect x="4" y="1" width="11" height="9" fill="#40D0E0"/><polygon points="9,9 15,4 15,9" fill="#008000"/><rect x="4" y="8" width="11" height="2" fill="#0000FF"/><rect x="4" y="10" width="10" height="4" fill="#808080"/><rect x="6" y="11" width="4" height="3" fill="#000"/><rect x="11" y="11" width="2" height="3" fill="#FF0000"/></svg>
<svg class="ic" style="left:664px;top:51px" width="17" height="16" viewBox="0 0 17 16"><rect x="5" y="0" width="8" height="7" fill="#fff"/><rect x="5" y="0" width="8" height="2" fill="#000080"/><rect x="5" y="0" width="8" height="7" fill="none"/><rect x="0" y="4" width="8" height="8" fill="#fff"/><rect x="0" y="4" width="8" height="2" fill="#000080"/><rect x="0.5" y="4.5" width="7" height="7" fill="none" stroke="#000"/><rect x="5.5" y="0.5" width="7" height="6" fill="none" stroke="#000"/><rect x="2" y="7" width="2" height="2" fill="#000"/><polygon points="10,6 15,8 16,12 12,16 8,14 7,10" fill="#00C0D0" stroke="#000" stroke-width="0.8"/><path d="M9,9 L13,12 M11,8 L12,14" stroke="#E0E000" stroke-width="1.5"/></svg>
<svg class="ic" style="left:687px;top:51px" width="17" height="16" viewBox="0 0 17 16"><rect x="5" y="1" width="9" height="10" fill="#C8C0A0"/><rect x="5.5" y="1.5" width="9" height="10" fill="none" stroke="#808060"/><rect x="7" y="3" width="6" height="5" fill="#0000FF"/><rect x="8" y="11" width="8" height="4" fill="#A09880"/><rect x="10" y="14" width="6" height="2" fill="#000"/><rect x="1" y="5" width="4" height="11" fill="#E0E0E0"/><rect x="1.5" y="5.5" width="4" height="10" fill="none" stroke="#606060"/><rect x="2" y="9" width="3" height="3" fill="#0000FF"/><path d="M1,5 L3,2 L5,4" stroke="#000" fill="none"/></svg>
<svg class="ic" style="left:7px;top:76px" width="18" height="18" viewBox="0 0 18 18"><polygon points="9.5,3.5 13.5,1 16.5,1.5 16.5,10 9,15 5.5,12.5" fill="#C0C0C0" stroke="#000" stroke-width="1"/><polygon points="10.5,2.5 13,1 16,1 16,9.5 11.5,5" fill="#FF0000"/><polyline points="9.5,3.5 16.5,10" fill="none" stroke="#000" stroke-width="1" /><polygon points="5.5,12.5 7.5,11 9.5,13.5 7,15.5 5.5,15.5" fill="#FF0000"/><polyline points="1,12.5 4,16 5.5,14" fill="none" stroke="#000" stroke-width="1.2" /><rect x="10" y="6" width="2" height="2" fill="#E0E0E0"/><rect x="12" y="8" width="2" height="2" fill="#E8E8E8"/></svg>
<svg class="ic" style="left:33px;top:79px" width="14" height="12" viewBox="0 0 14 12" shape-rendering="crispEdges"><rect x="0" y="5" width="14" height="1" fill="#000"/><rect x="2" y="0" width="1" height="12" fill="#000"/><rect x="5" y="0" width="1" height="12" fill="#000"/><rect x="9" y="0" width="1" height="12" fill="#000"/></svg>
<svg class="ic" style="left:55px;top:77px" width="16" height="16" viewBox="0 0 16 16"><rect x="0" y="2" width="16" height="1" fill="#000"/><rect x="1" y="0" width="1" height="5" fill="#000"/><rect x="5" y="0" width="1" height="5" fill="#000"/><rect x="9" y="0" width="1" height="5" fill="#000"/><rect x="13" y="0" width="1" height="5" fill="#000"/><text x="7.5" y="15" fill="#808000" font-size="11" font-family="'Liberation Sans','WenQuanYi Zen Hei','Noto Sans CJK SC',sans-serif" font-weight="normal" text-anchor="middle">金</text></svg>
<svg class="ic" style="left:78px;top:77px" width="16" height="16" viewBox="0 0 16 16"><rect x="0" y="2" width="16" height="1" fill="#000"/><rect x="1" y="0" width="1" height="5" fill="#000"/><rect x="5" y="0" width="1" height="5" fill="#000"/><rect x="9" y="0" width="1" height="5" fill="#000"/><rect x="13" y="0" width="1" height="5" fill="#000"/><text x="7.5" y="15" fill="#808000" font-size="11" font-family="'Liberation Sans','WenQuanYi Zen Hei','Noto Sans CJK SC',sans-serif" font-weight="normal" text-anchor="middle">金</text></svg>
<svg class="ic" style="left:101px;top:77px" width="16" height="16" viewBox="0 0 16 16"><rect x="0" y="2" width="16" height="1" fill="#000"/><rect x="1" y="0" width="1" height="5" fill="#000"/><rect x="5" y="0" width="1" height="5" fill="#000"/><rect x="9" y="0" width="1" height="5" fill="#000"/><rect x="13" y="0" width="1" height="5" fill="#000"/><text x="7.5" y="15" fill="#000" font-size="10" font-family="'Liberation Sans',sans-serif" font-weight="normal" text-anchor="middle">F</text></svg>
<svg class="ic" style="left:124px;top:77px" width="16" height="16" viewBox="0 0 16 16"><rect x="0" y="2" width="16" height="1" fill="#000"/><rect x="1" y="0" width="1" height="5" fill="#000"/><rect x="5" y="0" width="1" height="5" fill="#000"/><rect x="9" y="0" width="1" height="5" fill="#000"/><rect x="13" y="0" width="1" height="5" fill="#000"/><path d="M4,7 C10,5 13,8 12,11 C11,14 6,15 5,13 C4,11 7,10 9,11" fill="none" stroke="#000" stroke-width="1"/></svg>
<svg class="ic" style="left:147px;top:77px" width="16" height="16" viewBox="0 0 16 16"><g transform="translate(1,-1) scale(0.85)"><polygon points="9.5,3.5 13.5,1 16.5,1.5 16.5,10 9,15 5.5,12.5" fill="#C0C0C0" stroke="#000" stroke-width="1"/><polygon points="10.5,2.5 13,1 16,1 16,9.5 11.5,5" fill="#FF0000"/><polygon points="5.5,12.5 7.5,11 9.5,13.5 7,15.5 5.5,15.5" fill="#FF0000"/></g><rect x="0" y="13" width="16" height="1" fill="#000"/><rect x="1" y="11" width="1" height="5" fill="#000"/><rect x="6" y="11" width="1" height="5" fill="#000"/><rect x="9" y="11" width="1" height="5" fill="#000"/><rect x="12" y="11" width="1" height="5" fill="#000"/><rect x="14" y="11" width="1" height="5" fill="#000"/></svg>
<svg class="ic" style="left:170px;top:77px" width="16" height="16" viewBox="0 0 16 16"><circle cx="8" cy="8" r="7" fill="none" stroke="#000" stroke-width="1"/><rect x="1" y="8" width="14" height="1" fill="#000"/><rect x="4" y="6" width="1" height="5" fill="#000"/><rect x="7" y="6" width="1" height="5" fill="#000"/><rect x="9" y="6" width="1" height="5" fill="#000"/><rect x="11" y="6" width="1" height="5" fill="#000"/><rect x="13" y="6" width="1" height="5" fill="#000"/><polyline points="12,3 15,1" fill="none" stroke="#000" stroke-width="1" /></svg>
<svg class="ic" style="left:193px;top:79px" width="16" height="12" viewBox="0 0 16 12" shape-rendering="crispEdges"><rect x="0" y="5" width="16" height="1" fill="#000"/><rect x="2" y="0" width="1" height="11" fill="#000"/><rect x="5" y="0" width="1" height="11" fill="#000"/><rect x="8" y="0" width="1" height="11" fill="#000"/><rect x="13" y="0" width="1" height="11" fill="#000"/></svg>
<svg class="ic" style="left:216px;top:77px" width="16" height="16" viewBox="0 0 16 16"><rect x="0" y="2" width="16" height="1" fill="#000"/><rect x="1" y="0" width="1" height="5" fill="#000"/><rect x="5" y="0" width="1" height="5" fill="#000"/><rect x="9" y="0" width="1" height="5" fill="#000"/><rect x="13" y="0" width="1" height="5" fill="#000"/><text x="3" y="15" fill="#000" font-size="10" font-family="'Liberation Sans',sans-serif" font-weight="normal" text-anchor="start">n</text><text x="9.5" y="11" fill="#000" font-size="7" font-family="'Liberation Sans',sans-serif" font-weight="bold" text-anchor="start">2</text></svg>
<svg class="ic" style="left:239px;top:77px" width="16" height="15" viewBox="0 0 16 15"><polyline points="0,14 6,2 12,8 2,13" fill="none" stroke="#000" stroke-width="1" /><rect x="7" y="0" width="1" height="15" fill="#909090"/><rect x="11" y="0" width="1" height="15" fill="#909090"/><rect x="15" y="0" width="1" height="15" fill="#909090"/></svg>
<svg class="ic" style="left:262px;top:77px" width="16" height="16" viewBox="0 0 16 16"><path d="M8,3 A5.5,5.5 0 1 0 8,14" fill="none" stroke="#000"/><path d="M8,3 A6,6 0 0 1 14,6" fill="none" stroke="#000"/><circle cx="8" cy="9.5" r="2" fill="none" stroke="#000"/><rect x="0" y="9" width="16" height="1" fill="#FF0000"/><rect x="7" y="0" width="1" height="16" fill="#FF0000"/></svg>
<svg class="ic" style="left:285px;top:77px" width="16" height="17" viewBox="0 0 16 17"><polygon points="4.5,1 10.5,1 14.5,5 14.5,11 10.5,15 4.5,15 0.5,11 0.5,5" fill="none" stroke="#909090"/><circle cx="7.5" cy="8" r="3.5" fill="none" stroke="#909090"/><polyline points="3,3.5 12,12.5" fill="none" stroke="#008080" stroke-width="1.5" /><polyline points="12,3.5 3,12.5" fill="none" stroke="#008080" stroke-width="1.5" /><rect x="7" y="0" width="1.5" height="1.5" fill="#FF0000"/><rect x="7" y="15" width="1.5" height="1.5" fill="#FF0000"/><rect x="0" y="7.5" width="1.5" height="1.5" fill="#FF0000"/><rect x="14.5" y="7.5" width="1.5" height="1.5" fill="#FF0000"/><rect x="7" y="4" width="1.5" height="1.5" fill="#FF0000"/><rect x="7" y="11" width="1.5" height="1.5" fill="#FF0000"/><rect x="3.5" y="7.5" width="1.5" height="1.5" fill="#FF0000"/><rect x="11" y="7.5" width="1.5" height="1.5" fill="#FF0000"/><rect x="6.3" y="6.8" width="2.5" height="2.5" fill="#FF0000"/></svg>
<svg class="ic" style="left:308px;top:77px" width="16" height="16" viewBox="0 0 16 16"><rect x="1.5" y="1.5" width="12" height="12" fill="none" stroke="#909090"/><rect x="3.5" y="3.5" width="8" height="8" fill="none" stroke="#909090"/><rect x="5.5" y="5.5" width="4" height="4" fill="none" stroke="#909090"/><polyline points="0,7.5 15,7.5" fill="none" stroke="#008080" stroke-width="0.8" stroke-dasharray="1,2"/><polyline points="7.5,0 7.5,15" fill="none" stroke="#008080" stroke-width="0.8" stroke-dasharray="1,2"/><rect x="0" y="0" width="1.5" height="1.5" fill="#FF0000"/><rect x="14" y="0" width="1.5" height="1.5" fill="#FF0000"/><rect x="0" y="14" width="1.5" height="1.5" fill="#FF0000"/><rect x="14" y="14" width="1.5" height="1.5" fill="#FF0000"/><rect x="3" y="3" width="1.5" height="1.5" fill="#FF0000"/><rect x="11" y="3" width="1.5" height="1.5" fill="#FF0000"/><rect x="3" y="11" width="1.5" height="1.5" fill="#FF0000"/><rect x="11" y="11" width="1.5" height="1.5" fill="#FF0000"/><rect x="6.5" y="6.5" width="1.5" height="1.5" fill="#FF0000"/></svg>
<svg class="ic" style="left:332px;top:78px" width="15" height="14" viewBox="0 0 15 14"><rect x="1" y="0" width="1" height="14" fill="#000"/><polyline points="1.5,11 7.5,3" fill="none" stroke="#000" stroke-width="1" /><rect x="7" y="0" width="1" height="14" fill="#000"/><rect x="11" y="0" width="1" height="3" fill="#000"/><rect x="13" y="0" width="1" height="3" fill="#000"/></svg>
<svg class="ic" style="left:353px;top:77px" width="17" height="16" viewBox="0 0 17 16"><rect x="0" y="4" width="17" height="1" fill="#000"/><rect x="1" y="2" width="1" height="5" fill="#000"/><rect x="6" y="2" width="1" height="5" fill="#000"/><rect x="10" y="2" width="1" height="5" fill="#000"/><rect x="16" y="2" width="1" height="5" fill="#000"/><text x="8.5" y="16.5" fill="#FF0000" font-size="12" font-family="'Liberation Sans','WenQuanYi Zen Hei','Noto Sans CJK SC',sans-serif" font-weight="normal" text-anchor="middle">神</text></svg>
<svg class="ic" style="left:377px;top:77px" width="17" height="16" viewBox="0 0 17 16"><rect x="0" y="3" width="17" height="1" fill="#000"/><rect x="1" y="1" width="1" height="5" fill="#000"/><rect x="6" y="1" width="1" height="5" fill="#000"/><rect x="10" y="1" width="1" height="5" fill="#000"/><rect x="16" y="1" width="1" height="5" fill="#000"/><text x="7.5" y="16.5" fill="#FF0000" font-size="12" font-family="'Liberation Sans','WenQuanYi Zen Hei','Noto Sans CJK SC',sans-serif" font-weight="normal" text-anchor="middle">赢</text></svg>
<svg class="ic" style="left:400px;top:77px" width="15" height="16" viewBox="0 0 15 16"><rect x="0" y="1" width="15" height="1" fill="#000"/><rect x="0" y="1" width="1" height="14" fill="#000"/><rect x="0" y="8" width="15" height="1" fill="#000"/><rect x="3" y="1" width="1" height="3" fill="#000"/><rect x="5" y="1" width="1" height="4" fill="#000"/><rect x="7" y="1" width="1" height="3" fill="#000"/><rect x="9" y="1" width="1" height="4" fill="#000"/><rect x="11" y="1" width="1" height="3" fill="#000"/><rect x="13" y="1" width="1" height="4" fill="#000"/><rect x="0" y="14" width="2" height="1" fill="#000"/><text x="9" y="15.5" fill="#000" font-size="6" font-family="'Liberation Sans',sans-serif" font-weight="bold" text-anchor="middle">1 2 3</text></svg>
<svg class="ic" style="left:423px;top:77px" width="15" height="16" viewBox="0 0 15 16"><rect x="0" y="2" width="1" height="12" fill="#000"/><rect x="14" y="2" width="1" height="12" fill="#000"/><rect x="7" y="0" width="1" height="16" fill="#000"/><rect x="1" y="7" width="13" height="1" fill="#000"/><polygon points="1,7.5 4,5.5 4,9.5" fill="#000"/><polygon points="14,7.5 11,5.5 11,9.5" fill="#000"/></svg>
<svg class="ic" style="left:456px;top:78px" width="16" height="16" viewBox="0 0 16 16"><rect x="5" y="1" width="10" height="9" fill="#000"/><rect x="7" y="3" width="6" height="5" fill="#D4D0C8"/><rect x="0" y="0" width="4" height="1" fill="#909090"/><rect x="2" y="0" width="1" height="9" fill="#909090"/><rect x="0" y="9" width="4" height="1" fill="#909090"/><rect x="5" y="13" width="10" height="1" fill="#909090"/><rect x="5" y="11" width="1" height="5" fill="#909090"/><rect x="14" y="11" width="1" height="5" fill="#909090"/></svg>
<svg class="ic" style="left:479px;top:77px" width="16" height="16" viewBox="0 0 16 16"><polyline points="1,15 3,0" fill="none" stroke="#800000" stroke-width="1" /><polyline points="1,15 8,0" fill="none" stroke="#FF0000" stroke-width="1" /><polyline points="1,15 15,1" fill="none" stroke="#000" stroke-width="1" /><polyline points="1,15 15,6" fill="none" stroke="#FF0000" stroke-width="1" /><polyline points="1,15 15,12" fill="none" stroke="#800000" stroke-width="1" /><rect x="0" y="13" width="3" height="3" fill="#C00000"/></svg>
<svg class="ic" style="left:502px;top:77px" width="16" height="16" viewBox="0 0 16 16"><rect x="1" y="3" width="12" height="12" fill="none" stroke="#000" stroke-width="2"/><polyline points="1,15 15,1" fill="none" stroke="#FF0000" stroke-width="1" /><polyline points="1,15 12,2" fill="none" stroke="#800000" stroke-width="1" /><polyline points="1,15 15,6" fill="none" stroke="#800000" stroke-width="1" /><polyline points="1,15 5,1" fill="none" stroke="#800080" stroke-width="1" /><polyline points="1,15 15,11" fill="none" stroke="#800080" stroke-width="1" /></svg>
<svg class="ic" style="left:525px;top:77px" width="16" height="16" viewBox="0 0 16 16"><rect x="1" y="1" width="12" height="12" fill="none" stroke="#000" stroke-width="2"/><polyline points="0,0 15,15" fill="none" stroke="#FF0000" stroke-width="1" /><polyline points="2,0 15,12" fill="none" stroke="#800000" stroke-width="1" /><polyline points="0,3 11,15" fill="none" stroke="#800000" stroke-width="1" /><polyline points="3,2 15,3" fill="none" stroke="#800080" stroke-width="1" /><polyline points="2,3 4,15" fill="none" stroke="#800080" stroke-width="1" /></svg>
<svg class="ic" style="left:548px;top:77px" width="16" height="16" viewBox="0 0 16 16"><polyline points="0,15 16,0" fill="none" stroke="#000" stroke-width="1" /><polyline points="0,15 15,7" fill="none" stroke="#000" stroke-width="1" /><polyline points="0,15 15,11" fill="none" stroke="#000" stroke-width="1" /><polygon points="0,15 4,12 4,15" fill="#000"/></svg>
<svg class="ic" style="left:571px;top:78px" width="16" height="15" viewBox="0 0 16 15"><polyline points="0,0 6,13 12,4 15,8" fill="none" stroke="#000" stroke-width="1" /><polyline points="0,13.5 16,13.5" fill="none" stroke="#808080" stroke-width="1" stroke-dasharray="1,2"/></svg>
<svg class="ic" style="left:594px;top:77px" width="16" height="15" viewBox="0 0 16 15"><rect x="0" y="0" width="16" height="15" fill="#EEEBE4"/><rect x="4" y="0" width="1" height="15" fill="#7FA0A0"/><rect x="7" y="0" width="1" height="15" fill="#7FA0A0"/><rect x="10" y="0" width="1" height="15" fill="#7FA0A0"/><rect x="13" y="0" width="1" height="15" fill="#7FA0A0"/><rect x="0" y="0" width="16" height="1" fill="#7FA0A0"/><rect x="0" y="4" width="16" height="1" fill="#7FA0A0"/><rect x="0" y="7" width="16" height="1" fill="#7FA0A0"/><rect x="0" y="10" width="16" height="1" fill="#7FA0A0"/><rect x="0" y="13" width="16" height="1" fill="#7FA0A0"/><rect x="0" y="0" width="1" height="15" fill="#909090"/><rect x="4" y="0" width="2" height="1" fill="#FF0000"/><rect x="4" y="0" width="1" height="2" fill="#FF0000"/><rect x="7" y="0" width="2" height="1" fill="#FF0000"/><rect x="7" y="0" width="1" height="2" fill="#FF0000"/><rect x="10" y="0" width="2" height="1" fill="#FF0000"/><rect x="10" y="0" width="1" height="2" fill="#FF0000"/><rect x="13" y="0" width="2" height="1" fill="#FF0000"/><rect x="13" y="0" width="1" height="2" fill="#FF0000"/><rect x="4" y="4" width="2" height="1" fill="#FF0000"/><rect x="4" y="4" width="1" height="2" fill="#FF0000"/><rect x="7" y="4" width="2" height="1" fill="#FF0000"/><rect x="7" y="4" width="1" height="2" fill="#FF0000"/><rect x="10" y="4" width="2" height="1" fill="#FF0000"/><rect x="10" y="4" width="1" height="2" fill="#FF0000"/><rect x="13" y="4" width="2" height="1" fill="#FF0000"/><rect x="13" y="4" width="1" height="2" fill="#FF0000"/><rect x="4" y="7" width="2" height="1" fill="#FF0000"/><rect x="4" y="7" width="1" height="2" fill="#FF0000"/><rect x="7" y="7" width="2" height="1" fill="#FF0000"/><rect x="7" y="7" width="1" height="2" fill="#FF0000"/><rect x="10" y="7" width="2" height="1" fill="#FF0000"/><rect x="10" y="7" width="1" height="2" fill="#FF0000"/><rect x="13" y="7" width="2" height="1" fill="#FF0000"/><rect x="13" y="7" width="1" height="2" fill="#FF0000"/><rect x="4" y="10" width="2" height="1" fill="#FF0000"/><rect x="4" y="10" width="1" height="2" fill="#FF0000"/><rect x="7" y="10" width="2" height="1" fill="#FF0000"/><rect x="7" y="10" width="1" height="2" fill="#FF0000"/><rect x="10" y="10" width="2" height="1" fill="#FF0000"/><rect x="10" y="10" width="1" height="2" fill="#FF0000"/><rect x="13" y="10" width="2" height="1" fill="#FF0000"/><rect x="13" y="10" width="1" height="2" fill="#FF0000"/><rect x="4" y="13" width="2" height="1" fill="#FF0000"/><rect x="4" y="13" width="1" height="2" fill="#FF0000"/><rect x="7" y="13" width="2" height="1" fill="#FF0000"/><rect x="7" y="13" width="1" height="2" fill="#FF0000"/><rect x="10" y="13" width="2" height="1" fill="#FF0000"/><rect x="10" y="13" width="1" height="2" fill="#FF0000"/><rect x="13" y="13" width="2" height="1" fill="#FF0000"/><rect x="13" y="13" width="1" height="2" fill="#FF0000"/><circle cx="2" cy="2" r="1.3" fill="none" stroke="#606060" stroke-width="0.7"/><circle cx="12" cy="2" r="1.3" fill="none" stroke="#606060" stroke-width="0.7"/><circle cx="2" cy="12" r="1.3" fill="none" stroke="#606060" stroke-width="0.7"/><circle cx="12" cy="12" r="1.3" fill="none" stroke="#606060" stroke-width="0.7"/></svg>
<svg class="ic" style="left:617px;top:77px" width="16" height="15" viewBox="0 0 16 15"><rect x="0" y="0" width="16" height="15" fill="#EEEBE4"/><rect x="4" y="0" width="1" height="15" fill="#7FA0A0"/><rect x="7" y="0" width="1" height="15" fill="#7FA0A0"/><rect x="10" y="0" width="1" height="15" fill="#7FA0A0"/><rect x="13" y="0" width="1" height="15" fill="#7FA0A0"/><rect x="0" y="0" width="16" height="1" fill="#7FA0A0"/><rect x="0" y="4" width="16" height="1" fill="#7FA0A0"/><rect x="0" y="7" width="16" height="1" fill="#7FA0A0"/><rect x="0" y="10" width="16" height="1" fill="#7FA0A0"/><rect x="0" y="13" width="16" height="1" fill="#7FA0A0"/><rect x="0" y="0" width="1" height="15" fill="#909090"/><rect x="4" y="0" width="2" height="1" fill="#FF0000"/><rect x="4" y="0" width="1" height="2" fill="#FF0000"/><rect x="7" y="0" width="2" height="1" fill="#FF0000"/><rect x="7" y="0" width="1" height="2" fill="#FF0000"/><rect x="10" y="0" width="2" height="1" fill="#FF0000"/><rect x="10" y="0" width="1" height="2" fill="#FF0000"/><rect x="13" y="0" width="2" height="1" fill="#FF0000"/><rect x="13" y="0" width="1" height="2" fill="#FF0000"/><rect x="4" y="4" width="2" height="1" fill="#FF0000"/><rect x="4" y="4" width="1" height="2" fill="#FF0000"/><rect x="7" y="4" width="2" height="1" fill="#FF0000"/><rect x="7" y="4" width="1" height="2" fill="#FF0000"/><rect x="10" y="4" width="2" height="1" fill="#FF0000"/><rect x="10" y="4" width="1" height="2" fill="#FF0000"/><rect x="13" y="4" width="2" height="1" fill="#FF0000"/><rect x="13" y="4" width="1" height="2" fill="#FF0000"/><rect x="4" y="7" width="2" height="1" fill="#FF0000"/><rect x="4" y="7" width="1" height="2" fill="#FF0000"/><rect x="7" y="7" width="2" height="1" fill="#FF0000"/><rect x="7" y="7" width="1" height="2" fill="#FF0000"/><rect x="10" y="7" width="2" height="1" fill="#FF0000"/><rect x="10" y="7" width="1" height="2" fill="#FF0000"/><rect x="13" y="7" width="2" height="1" fill="#FF0000"/><rect x="13" y="7" width="1" height="2" fill="#FF0000"/><rect x="4" y="10" width="2" height="1" fill="#FF0000"/><rect x="4" y="10" width="1" height="2" fill="#FF0000"/><rect x="7" y="10" width="2" height="1" fill="#FF0000"/><rect x="7" y="10" width="1" height="2" fill="#FF0000"/><rect x="10" y="10" width="2" height="1" fill="#FF0000"/><rect x="10" y="10" width="1" height="2" fill="#FF0000"/><rect x="13" y="10" width="2" height="1" fill="#FF0000"/><rect x="13" y="10" width="1" height="2" fill="#FF0000"/><rect x="4" y="13" width="2" height="1" fill="#FF0000"/><rect x="4" y="13" width="1" height="2" fill="#FF0000"/><rect x="7" y="13" width="2" height="1" fill="#FF0000"/><rect x="7" y="13" width="1" height="2" fill="#FF0000"/><rect x="10" y="13" width="2" height="1" fill="#FF0000"/><rect x="10" y="13" width="1" height="2" fill="#FF0000"/><rect x="13" y="13" width="2" height="1" fill="#FF0000"/><rect x="13" y="13" width="1" height="2" fill="#FF0000"/><circle cx="2" cy="2" r="1.3" fill="none" stroke="#606060" stroke-width="0.7"/><circle cx="12" cy="2" r="1.3" fill="none" stroke="#606060" stroke-width="0.7"/><circle cx="2" cy="12" r="1.3" fill="none" stroke="#606060" stroke-width="0.7"/><circle cx="12" cy="12" r="1.3" fill="none" stroke="#606060" stroke-width="0.7"/><rect x="0" y="0" width="2" height="15" fill="#000"/><rect x="0" y="13" width="16" height="2" fill="#000"/><polygon points="1,-1 -1.5,2 3.5,2" fill="#000"/><polygon points="17,14 14,11.5 14,16.5" fill="#000"/></svg>
<svg class="ic" style="left:640px;top:77px" width="16" height="16" viewBox="0 0 16 16"><rect x="0" y="0" width="1" height="16" fill="#909090"/><rect x="12" y="0" width="1" height="16" fill="#909090"/><polyline points="0,9 16,2" fill="none" stroke="#000" stroke-width="1" /><polyline points="0,13 16,6" fill="none" stroke="#000" stroke-width="1" /><polyline points="0,16 16,10" fill="none" stroke="#000" stroke-width="1" /></svg>
<svg class="ic" style="left:673px;top:78px" width="15" height="15" viewBox="0 0 15 15"><rect x="0" y="0" width="1" height="15" fill="#000"/><rect x="0" y="14" width="14" height="1" fill="#000"/><rect x="1" y="1" width="7" height="1" fill="#000"/><rect x="1" y="3" width="5" height="1" fill="#000"/><rect x="1" y="5" width="7" height="1" fill="#000"/><rect x="1" y="7" width="5" height="1" fill="#000"/><rect x="1" y="9" width="7" height="1" fill="#000"/><rect x="1" y="11" width="5" height="1" fill="#000"/><rect x="1" y="13" width="7" height="1" fill="#000"/><rect x="9" y="0" width="1" height="15" fill="#000"/><text x="12" y="7" fill="#000" font-size="6" font-family="'Liberation Sans',sans-serif" font-weight="bold" text-anchor="middle">2</text><text x="12" y="13" fill="#000" font-size="6" font-family="'Liberation Sans',sans-serif" font-weight="bold" text-anchor="middle">1</text></svg>
<svg class="ic" style="left:696px;top:77px" width="16" height="16" viewBox="0 0 16 16"><rect x="0" y="0" width="16" height="1" fill="#FF0000"/><rect x="0" y="15" width="6" height="1" fill="#FF0000"/><polyline points="2,15 7,1 12,6 15,1" fill="none" stroke="#000" stroke-width="1" /><rect x="8" y="6" width="7" height="1" fill="#FF0000"/><text x="10.5" y="15" fill="#FF0000" font-size="11" font-family="'Liberation Sans',sans-serif" font-weight="normal" text-anchor="middle">%</text></svg>
<svg class="ic" style="left:721px;top:79px" width="13" height="13" viewBox="0 0 13 13"><text x="6.5" y="12" fill="#000" font-size="15" font-family="'Liberation Sans',sans-serif" font-weight="normal" text-anchor="middle">%</text></svg>
<svg class="ic" style="left:742px;top:77px" width="16" height="16" viewBox="0 0 16 16"><rect x="0" y="0" width="16" height="1" fill="#000"/><rect x="9" y="3" width="7" height="1" fill="#000"/><rect x="9" y="8" width="7" height="1" fill="#000"/><rect x="0" y="15" width="16" height="1" fill="#000"/><text x="4.5" y="14" fill="#FF0000" font-size="11" font-family="'Liberation Sans',sans-serif" font-weight="normal" text-anchor="middle">%</text></svg>
<svg class="ic" style="left:765px;top:77px" width="16" height="16" viewBox="0 0 16 16"><polygon points="5,0.5 11,0.5 15.5,5 15.5,11 11,15.5 5,15.5 0.5,11 0.5,5" fill="none" stroke="#909090"/><text x="8" y="13" fill="#808000" font-size="11" font-family="'Liberation Sans','WenQuanYi Zen Hei','Noto Sans CJK SC',sans-serif" font-weight="normal" text-anchor="middle">金</text></svg>
<svg class="ic" style="left:788px;top:77px" width="16" height="16" viewBox="0 0 16 16"><rect x="0" y="0" width="16" height="1" fill="#000"/><rect x="8" y="3" width="8" height="1" fill="#000"/><rect x="8" y="9" width="8" height="1" fill="#000"/><rect x="0" y="15" width="16" height="1" fill="#000"/><text x="5.5" y="14" fill="#808000" font-size="11" font-family="'Liberation Sans','WenQuanYi Zen Hei','Noto Sans CJK SC',sans-serif" font-weight="normal" text-anchor="middle">金</text></svg>
<svg class="ic" style="left:811px;top:77px" width="17" height="16" viewBox="0 0 17 16"><rect x="2" y="0" width="1" height="16" fill="#000"/><rect x="0" y="3" width="5" height="1" fill="#000"/><rect x="0" y="7" width="5" height="1" fill="#000"/><rect x="0" y="11" width="5" height="1" fill="#000"/><rect x="0" y="15" width="5" height="1" fill="#000"/><g transform="translate(3,0) scale(0.85)"><polygon points="9.5,3.5 13.5,1 16.5,1.5 16.5,10 9,15 5.5,12.5" fill="#C0C0C0" stroke="#000" stroke-width="1"/><polygon points="10.5,2.5 13,1 16,1 16,9.5 11.5,5" fill="#FF0000"/><polygon points="5.5,12.5 7.5,11 9.5,13.5 7,15.5 5.5,15.5" fill="#FF0000"/></g></svg>
<svg class="ic" style="left:834px;top:77px" width="16" height="16" viewBox="0 0 16 16"><rect x="0" y="0" width="16" height="1" fill="#FF0000"/><rect x="0" y="15" width="16" height="1" fill="#FF0000"/><rect x="0" y="7" width="16" height="1" fill="#000"/><path d="M0,13 C3,0 6,0 8,8 C10,15 13,15 16,2" fill="none" stroke="#909090"/></svg>
<svg class="ic" style="left:857px;top:77px" width="16" height="16" viewBox="0 0 16 16"><rect x="0" y="0" width="16" height="1" fill="#FF0000"/><rect x="0" y="15" width="16" height="1" fill="#FF0000"/><text x="8" y="13" fill="#808000" font-size="11" font-family="'Liberation Sans','WenQuanYi Zen Hei','Noto Sans CJK SC',sans-serif" font-weight="normal" text-anchor="middle">金</text></svg>
<svg class="ic" style="left:880px;top:77px" width="16" height="16" viewBox="0 0 16 16"><polyline points="1,15 15,1" fill="none" stroke="#000" stroke-width="1" /><polyline points="1,15 15,8" fill="none" stroke="#000" stroke-width="1" /><polyline points="2,15 15,12" fill="none" stroke="#000" stroke-width="1" /><rect x="1" y="15" width="14" height="1" fill="#000"/><text x="4.5" y="10" fill="#FF0000" font-size="11" font-family="'Liberation Sans',sans-serif" font-weight="bold" text-anchor="middle">J</text></svg>
<svg class="ic" style="left:903px;top:77px" width="16" height="16" viewBox="0 0 16 16"><polyline points="1,15 15,1" fill="none" stroke="#000" stroke-width="1" /><polyline points="1,15 15,8" fill="none" stroke="#000" stroke-width="1" /><polyline points="2,15 15,12" fill="none" stroke="#000" stroke-width="1" /><rect x="1" y="15" width="14" height="1" fill="#000"/><text x="4.5" y="10" fill="#FF0000" font-size="11" font-family="'Liberation Sans',sans-serif" font-weight="bold" text-anchor="middle">F</text></svg>
<svg class="ic" style="left:926px;top:77px" width="16" height="16" viewBox="0 0 16 16"><polyline points="1,15 15,1" fill="none" stroke="#000" stroke-width="1" /><polyline points="1,15 15,8" fill="none" stroke="#000" stroke-width="1" /><polyline points="2,15 15,12" fill="none" stroke="#000" stroke-width="1" /><rect x="1" y="15" width="14" height="1" fill="#000"/><text x="4.5" y="10" fill="#808000" font-size="11" font-family="'Liberation Sans','WenQuanYi Zen Hei','Noto Sans CJK SC',sans-serif" font-weight="normal" text-anchor="middle">金</text></svg>
<svg class="ic" style="left:949px;top:77px" width="16" height="16" viewBox="0 0 16 16"><polyline points="1,15 15,1" fill="none" stroke="#000" stroke-width="1" /><polyline points="1,15 15,8" fill="none" stroke="#000" stroke-width="1" /><polyline points="2,15 15,12" fill="none" stroke="#000" stroke-width="1" /><rect x="1" y="15" width="14" height="1" fill="#000"/><text x="4.5" y="10" fill="#FF0000" font-size="11" font-family="'Liberation Sans','WenQuanYi Zen Hei','Noto Sans CJK SC',sans-serif" font-weight="normal" text-anchor="middle">神</text></svg>
<svg class="ic" style="left:972px;top:77px" width="16" height="16" viewBox="0 0 16 16"><polyline points="1,15 15,1" fill="none" stroke="#000" stroke-width="1" /><polyline points="1,15 15,8" fill="none" stroke="#000" stroke-width="1" /><polyline points="2,15 15,12" fill="none" stroke="#000" stroke-width="1" /><rect x="1" y="15" width="14" height="1" fill="#000"/><text x="4.5" y="10" fill="#FF0000" font-size="11" font-family="'Liberation Sans','WenQuanYi Zen Hei','Noto Sans CJK SC',sans-serif" font-weight="normal" text-anchor="middle">赢</text></svg>
<svg class="ic" style="left:995px;top:77px" width="16" height="16" viewBox="0 0 16 16"><polyline points="1,15 15,1" fill="none" stroke="#000" stroke-width="1" /><polyline points="1,15 15,8" fill="none" stroke="#000" stroke-width="1" /><polyline points="2,15 15,12" fill="none" stroke="#000" stroke-width="1" /><rect x="1" y="15" width="14" height="1" fill="#000"/><text x="4.5" y="10" fill="#FF0000" font-size="11" font-family="'Liberation Sans','WenQuanYi Zen Hei','Noto Sans CJK SC',sans-serif" font-weight="normal" text-anchor="middle">四</text></svg>
<svg style="position:absolute;left:0;top:98px" width="1157" height="522" viewBox="0 98 1157 522">
<rect x="0" y="98" width="1157" height="522" fill="#FFFFFF"/>
<g shape-rendering="crispEdges"><line x1="68" y1="110.5" x2="1157" y2="110.5" stroke="#A0A0A0"/>
<line x1="68" y1="473.5" x2="1157" y2="473.5" stroke="#A0A0A0" stroke-dasharray="3,3"/>
<line x1="68" y1="491.5" x2="1157" y2="491.5" stroke="#A0A0A0" stroke-dasharray="3,3"/>
<line x1="68" y1="506.5" x2="1157" y2="506.5" stroke="#A0A0A0" stroke-dasharray="3,3"/>
<line x1="68" y1="521.5" x2="1157" y2="521.5" stroke="#A0A0A0" stroke-dasharray="3,3"/>
<line x1="68" y1="557.5" x2="1157" y2="557.5" stroke="#A0A0A0" stroke-dasharray="3,3"/>
<line x1="68" y1="574.5" x2="1157" y2="574.5" stroke="#A0A0A0" stroke-dasharray="3,3"/>
<line x1="68" y1="591.5" x2="1157" y2="591.5" stroke="#A0A0A0" stroke-dasharray="3,3"/>
<line x1="68" y1="608.5" x2="1157" y2="608.5" stroke="#A0A0A0" stroke-dasharray="3,3"/>
<line x1="1067" y1="284.5" x2="1157" y2="284.5" stroke="#808080" stroke-dasharray="2,2"/>
<rect x="0" y="536" width="1157" height="2" fill="#808080"/>
<line x1="68" y1="553.5" x2="1157" y2="553.5" stroke="#A0A0A0"/>
<polyline points="1012,162.5 1032,167.5" fill="none" stroke="#0000FF"/>
<polyline points="415,414.5 436,408.5" fill="none" stroke="#0000FF"/>
<rect x="345" y="127" width="4" height="1" fill="#000"/><rect x="346" y="128" width="2" height="1" fill="#000"/></g>
<polyline points="69.1,265.1 75.6,265.6 93.7,263.3 105.4,263.3 114.4,269.5 127.4,272.9 137.8,278.9 148.2,288.5 158.5,295.5 163.7,302.7 176.7,314.4 189.6,320.4 200.0,322.9 215.6,326.1 236.3,332.5 246.7,334.4 255.7,332.5 267.4,335.9 285.6,338.5 306.3,339.5 319.3,339.8 337.4,341.6 345.2,345.5 365.9,346.0 373.7,346.8 381.5,345.0 390.6,345.5 399.6,349.9 415.2,350.7 425.6,352.0 435.9,353.8 448.9,353.8 456.7,352.0 461.9,347.3 472.2,341.6 482.6,339.0 495.6,332.0 505.9,329.9 516.3,326.1 531.9,324.2 547.4,320.4 563.0,317.0 573.3,313.6 581.1,306.6 591.5,301.4 598.0,300.1 603.2,303.5 612.2,304.0 627.8,303.8 635.6,306.1 651.1,307.4 664.1,309.7 674.4,308.7 687.4,310.5 697.8,314.4 713.3,317.8 723.7,324.0 736.7,329.9 749.6,331.8 760.0,335.9 770.4,339.0 780.7,339.0 788.5,335.9 798.9,337.7 809.3,333.3 819.6,330.2 827.4,323.5 840.4,317.5 853.3,313.1 861.1,310.0 871.5,307.9 879.3,302.7 892.2,292.9 902.6,287.2 911.3,280.0 922.6,274.4 931.6,272.1 945.2,259.7 958.7,247.3 970.0,241.3 981.3,226.6 994.8,206.3 1008.4,174.7 1022.0,153.2 1033.2,142.0 1046.8,135.9 1055.8,134.0 1068.2,129.1 1075.0,130.0 1080.7,134.0 1093.1,142.0 1103.3,152.1 1116.8,164.5 1123.6,177.0 1134.9,193.9 1143.9,213.1 1155.2,236.8 1158.0,242.5" fill="none" stroke="#FF0000" stroke-width="1" shape-rendering="crispEdges"/>
<polyline points="69.1,304.8 86.0,302.2 101.5,300.9 111.9,301.9 122.2,305.8 137.8,310.0 148.2,317.0 158.5,323.5 168.9,331.2 179.3,337.7 194.8,344.2 205.2,345.5 225.9,350.7 246.7,355.4 257.0,354.6 267.4,355.9 285.6,358.5 306.3,359.8 337.4,360.3 347.8,362.9 355.6,363.7 373.7,363.7 389.3,362.9 402.2,367.0 417.8,368.1 433.3,370.7 448.9,371.7 459.3,368.8 469.6,364.9 485.2,360.3 500.7,354.6 516.3,351.5 537.0,348.1 552.6,345.0 568.2,341.1 578.5,336.4 591.5,330.2 598.0,329.2 604.5,331.2 627.8,331.2 645.9,333.3 666.7,335.1 687.4,337.2 705.6,341.1 718.5,344.2 731.5,350.7 752.2,353.8 770.4,359.8 788.5,359.0 798.9,361.1 809.3,358.5 822.2,355.9 832.6,350.7 848.2,345.5 858.5,342.9 868.9,339.8 879.3,334.6 894.8,326.1 911.3,316.2 927.1,311.0 936.1,306.0 954.2,293.6 967.8,284.5 979.0,274.4 990.3,262.0 1001.6,241.3 1012.9,224.4 1022.0,214.2 1033.2,206.3 1044.5,201.8 1058.1,198.4 1073.9,194.6 1082.9,198.4 1092.0,200.0 1103.3,207.4 1116.8,213.5 1125.8,223.3 1137.1,234.5 1148.4,247.0 1158.0,261.5" fill="none" stroke="#0000FF" stroke-width="1" shape-rendering="crispEdges"/>
<polyline points="69.1,348.9 86.0,345.5 106.7,342.9 124.8,344.2 137.8,346.8 155.9,353.3 171.5,361.1 189.6,367.5 205.2,371.4 225.9,375.3 241.5,378.7 267.4,380.0 285.6,381.8 319.3,381.8 340.0,382.1 365.9,383.1 391.9,383.6 407.4,387.0 425.6,389.6 443.7,390.9 461.9,390.9 474.8,388.3 500.7,383.1 521.5,380.0 542.2,375.8 563.0,370.7 578.5,367.5 594.1,362.9 612.2,361.6 625.2,361.8 640.7,362.9 674.4,364.9 697.8,368.8 723.7,373.5 749.6,377.1 775.6,383.1 798.9,387.0 817.0,386.5 835.2,381.8 853.3,378.7 868.9,376.1 887.0,369.4 905.2,363.7 922.6,356.8 945.2,345.5 967.8,330.8 990.3,315.0 1001.6,301.5 1012.9,290.2 1022.0,283.4 1035.5,278.9 1046.8,276.2 1067.1,273.2 1078.4,268.7 1094.2,266.9 1110.0,268.1 1130.4,269.9 1143.9,276.6 1158.0,285.5" fill="none" stroke="#000000" stroke-width="1" shape-rendering="crispEdges"/>
<polyline points="69.1,410.2 80.7,406.3 93.7,402.1 106.7,399.8 115.7,395.9 127.4,394.9 143.0,394.1 153.3,395.1 163.7,395.9 174.1,396.9 189.6,401.1 205.2,404.7 225.9,408.1 241.5,409.9 254.5,412.5 280.4,412.0 306.3,413.5 319.3,411.5 342.6,409.4 355.6,408.9 376.3,410.7 399.6,409.9 407.4,412.0 417.8,415.1 438.5,416.4 451.5,417.9 461.9,421.8 469.6,423.6 485.2,422.4 495.6,421.6 504.6,418.7 518.9,419.0 542.2,415.9 560.4,409.4 573.3,408.9 596.7,406.8 604.5,402.9 614.8,402.9 630.4,402.9 643.3,404.7 666.7,403.7 687.4,406.8 710.7,409.4 731.5,409.4 757.4,410.7 773.0,412.8 783.3,417.2 796.3,421.6 811.9,424.9 824.8,427.5 843.0,427.5 863.7,424.2 876.7,425.5 892.2,422.4 900.0,421.5 913.6,418.8 929.4,408.4 942.9,405.2 949.7,400.7 959.8,397.8 972.3,389.4 977.9,388.1 983.6,389.9 990.3,387.6 1001.6,384.2 1012.9,379.0 1023.1,376.3 1028.7,377.9 1037.8,377.0 1049.1,374.1 1062.6,374.1 1066.0,375.2 1075.0,370.0 1080.7,362.8 1092.0,357.9 1110.0,345.5 1119.1,340.5 1128.1,330.8 1141.6,322.9 1158.0,319.3" fill="none" stroke="#0000FF" stroke-width="1" shape-rendering="crispEdges"/>
<polyline points="69.1,465.1 86.0,456.1 106.7,451.4 115.7,443.1 132.6,440.0 137.8,438.4 148.2,434.0 158.5,434.0 163.7,430.9 176.7,430.1 189.6,432.7 197.4,433.2 203.9,436.6 225.9,437.4 241.5,439.2 249.3,438.7 255.7,442.6 267.4,441.0 288.2,439.2 303.7,441.8 319.3,438.4 340.0,435.8 345.2,432.7 353.0,432.7 363.3,434.5 372.4,432.7 381.5,435.8 389.3,435.8 398.3,431.9 407.4,435.3 417.8,440.0 430.7,440.0 446.3,441.0 454.1,444.4 461.9,450.4 470.9,454.0 482.6,452.7 494.3,455.5 504.6,452.9 513.7,455.5 524.1,452.9 539.6,452.2 552.6,447.0 560.4,444.4 573.3,443.9 585.0,447.8 596.7,446.2 603.2,440.5 620.0,440.0 633.0,438.7 645.9,441.8 666.7,439.2 690.0,444.4 703.0,443.9 713.3,443.1 726.3,440.0 754.8,438.4 773.0,440.0 785.9,449.6 801.5,454.8 809.3,459.9 817.0,461.2 827.4,467.2 837.8,469.8 858.5,469.8 863.7,466.9 872.8,468.2 881.9,472.9 887.0,473.7 892.2,471.6 900.0,472.7 913.6,471.2 920.3,469.4 930.5,458.1 937.3,459.2 945.2,457.6 949.7,453.1 958.7,452.6 961.0,454.9 967.8,447.4 976.8,445.2 983.6,452.0 994.8,454.9 1001.6,459.2 1012.9,459.2 1024.2,462.1 1035.5,467.8 1046.8,464.8 1055.8,464.4 1066.0,467.1 1075.0,461.0 1080.7,450.8 1093.1,438.4 1101.0,423.7 1116.8,410.2 1123.6,392.1 1134.9,378.6 1148.4,360.5 1158.0,345.5" fill="none" stroke="#FF0000" stroke-width="1" shape-rendering="crispEdges"/>
<g shape-rendering="crispEdges"><rect x="68" y="353" width="2" height="2" fill="#FF0000"/><rect x="68" y="355" width="1" height="1" fill="#FF0000"/><rect x="68" y="528" width="2" height="8" fill="#FF0000"/><rect x="71" y="353" width="2" height="1" fill="#008000"/><rect x="71" y="351" width="1" height="2" fill="#008000"/><rect x="71" y="354" width="1" height="1" fill="#008000"/><rect x="71" y="529" width="2" height="7" fill="#008000"/><rect x="74" y="351" width="2" height="3" fill="#FF0000"/><rect x="74" y="350" width="1" height="1" fill="#FF0000"/><rect x="74" y="526" width="2" height="10" fill="#FF0000"/><rect x="76" y="349" width="2" height="4" fill="#FF0000"/><rect x="76" y="353" width="1" height="1" fill="#FF0000"/><rect x="76" y="521" width="2" height="15" fill="#FF0000"/><rect x="79" y="346" width="2" height="4" fill="#FF0000"/><rect x="79" y="337" width="1" height="9" fill="#FF0000"/><rect x="79" y="350" width="1" height="1" fill="#FF0000"/><rect x="79" y="510" width="2" height="26" fill="#FF0000"/><rect x="82" y="346" width="2" height="2" fill="#008000"/><rect x="82" y="345" width="1" height="1" fill="#008000"/><rect x="82" y="348" width="1" height="2" fill="#008000"/><rect x="82" y="524" width="2" height="12" fill="#008000"/><rect x="85" y="346" width="2" height="6" fill="#008000"/><rect x="85" y="345" width="1" height="1" fill="#008000"/><rect x="85" y="352" width="1" height="3" fill="#008000"/><rect x="85" y="527" width="2" height="9" fill="#008000"/><rect x="88" y="349" width="2" height="6" fill="#008000"/><rect x="88" y="346" width="1" height="3" fill="#008000"/><rect x="88" y="355" width="1" height="1" fill="#008000"/><rect x="88" y="527" width="2" height="9" fill="#008000"/><rect x="91" y="355" width="2" height="7" fill="#008000"/><rect x="91" y="354" width="1" height="1" fill="#008000"/><rect x="91" y="362" width="1" height="2" fill="#008000"/><rect x="91" y="530" width="2" height="6" fill="#008000"/><rect x="93" y="358" width="2" height="8" fill="#008000"/><rect x="93" y="357" width="1" height="1" fill="#008000"/><rect x="93" y="366" width="1" height="3" fill="#008000"/><rect x="93" y="530" width="2" height="6" fill="#008000"/><rect x="96" y="363" width="2" height="5" fill="#FF0000"/><rect x="96" y="362" width="1" height="1" fill="#FF0000"/><rect x="96" y="368" width="1" height="1" fill="#FF0000"/><rect x="96" y="530" width="2" height="6" fill="#FF0000"/><rect x="99" y="365" width="2" height="3" fill="#008000"/><rect x="99" y="531" width="2" height="5" fill="#008000"/><rect x="102" y="367" width="2" height="4" fill="#008000"/><rect x="102" y="366" width="1" height="1" fill="#008000"/><rect x="102" y="371" width="1" height="1" fill="#008000"/><rect x="102" y="528" width="2" height="8" fill="#008000"/><rect x="105" y="367" width="2" height="5" fill="#FF0000"/><rect x="105" y="366" width="1" height="1" fill="#FF0000"/><rect x="105" y="532" width="2" height="4" fill="#FF0000"/><rect x="108" y="363" width="2" height="6" fill="#FF0000"/><rect x="108" y="361" width="1" height="2" fill="#FF0000"/><rect x="108" y="528" width="2" height="8" fill="#FF0000"/><rect x="110" y="363" width="2" height="4" fill="#008000"/><rect x="110" y="362" width="1" height="1" fill="#008000"/><rect x="110" y="367" width="1" height="2" fill="#008000"/><rect x="110" y="531" width="2" height="5" fill="#008000"/><rect x="113" y="362" width="2" height="4" fill="#FF0000"/><rect x="113" y="366" width="1" height="2" fill="#FF0000"/><rect x="113" y="525" width="2" height="11" fill="#FF0000"/><rect x="116" y="363" width="2" height="2" fill="#008000"/><rect x="116" y="365" width="1" height="2" fill="#008000"/><rect x="116" y="530" width="2" height="6" fill="#008000"/><rect x="119" y="364" width="2" height="2" fill="#FF0000"/><rect x="119" y="363" width="1" height="1" fill="#FF0000"/><rect x="119" y="528" width="2" height="8" fill="#FF0000"/><rect x="122" y="364" width="2" height="4" fill="#008000"/><rect x="122" y="362" width="1" height="2" fill="#008000"/><rect x="122" y="368" width="1" height="2" fill="#008000"/><rect x="122" y="528" width="2" height="8" fill="#008000"/><rect x="125" y="365" width="2" height="5" fill="#008000"/><rect x="125" y="364" width="1" height="1" fill="#008000"/><rect x="125" y="370" width="1" height="1" fill="#008000"/><rect x="125" y="530" width="2" height="6" fill="#008000"/><rect x="127" y="366" width="2" height="4" fill="#008000"/><rect x="127" y="365" width="1" height="1" fill="#008000"/><rect x="127" y="370" width="1" height="1" fill="#008000"/><rect x="127" y="530" width="2" height="6" fill="#008000"/><rect x="130" y="367" width="2" height="4" fill="#FF0000"/><rect x="130" y="365" width="1" height="2" fill="#FF0000"/><rect x="130" y="533" width="2" height="3" fill="#FF0000"/><rect x="133" y="366" width="2" height="3" fill="#008000"/><rect x="133" y="369" width="1" height="2" fill="#008000"/><rect x="133" y="531" width="2" height="5" fill="#008000"/><rect x="136" y="366" width="2" height="7" fill="#008000"/><rect x="136" y="362" width="1" height="4" fill="#008000"/><rect x="136" y="373" width="1" height="3" fill="#008000"/><rect x="136" y="530" width="2" height="6" fill="#008000"/><rect x="139" y="372" width="2" height="6" fill="#FF0000"/><rect x="139" y="371" width="1" height="1" fill="#FF0000"/><rect x="139" y="378" width="1" height="3" fill="#FF0000"/><rect x="139" y="533" width="2" height="3" fill="#FF0000"/><rect x="142" y="376" width="2" height="2" fill="#FF0000"/><rect x="142" y="375" width="1" height="1" fill="#FF0000"/><rect x="142" y="531" width="2" height="5" fill="#FF0000"/><rect x="144" y="377" width="2" height="2" fill="#FF0000"/><rect x="144" y="379" width="1" height="2" fill="#FF0000"/><rect x="144" y="531" width="2" height="5" fill="#FF0000"/><rect x="147" y="374" width="2" height="2" fill="#FF0000"/><rect x="147" y="373" width="1" height="1" fill="#FF0000"/><rect x="147" y="376" width="1" height="1" fill="#FF0000"/><rect x="147" y="529" width="2" height="7" fill="#FF0000"/><rect x="150" y="373" width="2" height="5" fill="#008000"/><rect x="150" y="378" width="1" height="1" fill="#008000"/><rect x="150" y="532" width="2" height="4" fill="#008000"/><rect x="153" y="375" width="2" height="3" fill="#008000"/><rect x="153" y="373" width="1" height="2" fill="#008000"/><rect x="153" y="378" width="1" height="2" fill="#008000"/><rect x="153" y="533" width="2" height="3" fill="#008000"/><rect x="156" y="375" width="2" height="3" fill="#008000"/><rect x="156" y="374" width="1" height="1" fill="#008000"/><rect x="156" y="378" width="1" height="1" fill="#008000"/><rect x="156" y="533" width="2" height="3" fill="#008000"/><rect x="158" y="375" width="2" height="2" fill="#008000"/><rect x="158" y="373" width="1" height="2" fill="#008000"/><rect x="158" y="377" width="1" height="2" fill="#008000"/><rect x="158" y="533" width="2" height="3" fill="#008000"/><rect x="161" y="376" width="2" height="3" fill="#008000"/><rect x="161" y="379" width="1" height="1" fill="#008000"/><rect x="161" y="532" width="2" height="4" fill="#008000"/><rect x="164" y="378" width="2" height="4" fill="#008000"/><rect x="164" y="376" width="1" height="2" fill="#008000"/><rect x="164" y="382" width="1" height="2" fill="#008000"/><rect x="164" y="534" width="2" height="2" fill="#008000"/><rect x="167" y="381" width="2" height="5" fill="#008000"/><rect x="167" y="386" width="1" height="2" fill="#008000"/><rect x="167" y="532" width="2" height="4" fill="#008000"/><rect x="170" y="385" width="2" height="4" fill="#008000"/><rect x="170" y="383" width="1" height="2" fill="#008000"/><rect x="170" y="389" width="1" height="3" fill="#008000"/><rect x="170" y="533" width="2" height="3" fill="#008000"/><rect x="173" y="387" width="2" height="3" fill="#FF0000"/><rect x="173" y="385" width="1" height="2" fill="#FF0000"/><rect x="173" y="390" width="1" height="1" fill="#FF0000"/><rect x="173" y="531" width="2" height="5" fill="#FF0000"/><rect x="175" y="387" width="2" height="4" fill="#008000"/><rect x="175" y="391" width="1" height="2" fill="#008000"/><rect x="175" y="533" width="2" height="3" fill="#008000"/><rect x="178" y="383" width="2" height="6" fill="#FF0000"/><rect x="178" y="381" width="1" height="2" fill="#FF0000"/><rect x="178" y="389" width="1" height="3" fill="#FF0000"/><rect x="178" y="532" width="2" height="4" fill="#FF0000"/><rect x="181" y="382" width="2" height="4" fill="#FF0000"/><rect x="181" y="381" width="1" height="1" fill="#FF0000"/><rect x="181" y="530" width="2" height="6" fill="#FF0000"/><rect x="184" y="380" width="2" height="4" fill="#FF0000"/><rect x="184" y="379" width="1" height="1" fill="#FF0000"/><rect x="184" y="531" width="2" height="5" fill="#FF0000"/><rect x="187" y="379" width="2" height="3" fill="#008000"/><rect x="187" y="532" width="2" height="4" fill="#008000"/><rect x="190" y="379" width="2" height="1" fill="#FF0000"/><rect x="190" y="530" width="2" height="6" fill="#FF0000"/><rect x="192" y="379" width="2" height="2" fill="#008000"/><rect x="192" y="378" width="1" height="1" fill="#008000"/><rect x="192" y="531" width="2" height="5" fill="#008000"/><rect x="195" y="380" width="2" height="4" fill="#008000"/><rect x="195" y="378" width="1" height="2" fill="#008000"/><rect x="195" y="532" width="2" height="4" fill="#008000"/><rect x="198" y="377" width="2" height="4" fill="#FF0000"/><rect x="198" y="375" width="1" height="2" fill="#FF0000"/><rect x="198" y="381" width="1" height="2" fill="#FF0000"/><rect x="198" y="532" width="2" height="4" fill="#FF0000"/><rect x="201" y="374" width="2" height="3" fill="#FF0000"/><rect x="201" y="365" width="1" height="9" fill="#FF0000"/><rect x="201" y="377" width="1" height="11" fill="#FF0000"/><rect x="201" y="515" width="2" height="21" fill="#FF0000"/><rect x="204" y="374" width="2" height="2" fill="#FF0000"/><rect x="204" y="373" width="1" height="1" fill="#FF0000"/><rect x="204" y="527" width="2" height="9" fill="#FF0000"/><rect x="207" y="374" width="2" height="2" fill="#008000"/><rect x="207" y="531" width="2" height="5" fill="#008000"/><rect x="209" y="374" width="2" height="4" fill="#008000"/><rect x="209" y="373" width="1" height="1" fill="#008000"/><rect x="209" y="530" width="2" height="6" fill="#008000"/><rect x="212" y="375" width="2" height="4" fill="#FF0000"/><rect x="212" y="373" width="1" height="2" fill="#FF0000"/><rect x="212" y="530" width="2" height="6" fill="#FF0000"/><rect x="215" y="376" width="2" height="3" fill="#008000"/><rect x="215" y="379" width="1" height="1" fill="#008000"/><rect x="215" y="531" width="2" height="5" fill="#008000"/><rect x="218" y="375" width="2" height="5" fill="#FF0000"/><rect x="218" y="373" width="1" height="2" fill="#FF0000"/><rect x="218" y="380" width="1" height="2" fill="#FF0000"/><rect x="218" y="532" width="2" height="4" fill="#FF0000"/><rect x="221" y="378" width="2" height="4" fill="#008000"/><rect x="221" y="377" width="1" height="1" fill="#008000"/><rect x="221" y="382" width="1" height="1" fill="#008000"/><rect x="221" y="531" width="2" height="5" fill="#008000"/><rect x="223" y="379" width="2" height="6" fill="#008000"/><rect x="223" y="377" width="1" height="2" fill="#008000"/><rect x="223" y="385" width="1" height="2" fill="#008000"/><rect x="223" y="531" width="2" height="5" fill="#008000"/><rect x="226" y="382" width="2" height="4" fill="#FF0000"/><rect x="226" y="386" width="1" height="2" fill="#FF0000"/><rect x="226" y="533" width="2" height="3" fill="#FF0000"/><rect x="229" y="383" width="2" height="5" fill="#008000"/><rect x="229" y="381" width="1" height="2" fill="#008000"/><rect x="229" y="388" width="1" height="2" fill="#008000"/><rect x="229" y="532" width="2" height="4" fill="#008000"/><rect x="232" y="385" width="2" height="4" fill="#FF0000"/><rect x="232" y="383" width="1" height="2" fill="#FF0000"/><rect x="232" y="533" width="2" height="3" fill="#FF0000"/><rect x="235" y="385" width="2" height="3" fill="#FF0000"/><rect x="235" y="532" width="2" height="4" fill="#FF0000"/><rect x="238" y="386" width="2" height="1" fill="#FF0000"/><rect x="238" y="385" width="1" height="1" fill="#FF0000"/><rect x="238" y="533" width="2" height="3" fill="#FF0000"/><rect x="240" y="384" width="2" height="4" fill="#008000"/><rect x="240" y="382" width="1" height="2" fill="#008000"/><rect x="240" y="388" width="1" height="1" fill="#008000"/><rect x="240" y="533" width="2" height="3" fill="#008000"/><rect x="243" y="384" width="2" height="4" fill="#008000"/><rect x="243" y="382" width="1" height="2" fill="#008000"/><rect x="243" y="388" width="1" height="2" fill="#008000"/><rect x="243" y="532" width="2" height="4" fill="#008000"/><rect x="246" y="383" width="2" height="4" fill="#FF0000"/><rect x="246" y="382" width="1" height="1" fill="#FF0000"/><rect x="246" y="387" width="1" height="1" fill="#FF0000"/><rect x="246" y="533" width="2" height="3" fill="#FF0000"/><rect x="249" y="379" width="2" height="5" fill="#FF0000"/><rect x="249" y="378" width="1" height="1" fill="#FF0000"/><rect x="249" y="384" width="1" height="2" fill="#FF0000"/><rect x="249" y="529" width="2" height="7" fill="#FF0000"/><rect x="252" y="373" width="2" height="8" fill="#FF0000"/><rect x="252" y="370" width="1" height="3" fill="#FF0000"/><rect x="252" y="381" width="1" height="2" fill="#FF0000"/><rect x="252" y="518" width="2" height="18" fill="#FF0000"/><rect x="255" y="371" width="2" height="5" fill="#008000"/><rect x="255" y="363" width="1" height="8" fill="#008000"/><rect x="255" y="528" width="2" height="8" fill="#008000"/><rect x="257" y="372" width="2" height="3" fill="#FF0000"/><rect x="257" y="370" width="1" height="2" fill="#FF0000"/><rect x="257" y="375" width="1" height="1" fill="#FF0000"/><rect x="257" y="531" width="2" height="5" fill="#FF0000"/><rect x="260" y="372" width="2" height="4" fill="#FF0000"/><rect x="260" y="371" width="1" height="1" fill="#FF0000"/><rect x="260" y="531" width="2" height="5" fill="#FF0000"/><rect x="263" y="373" width="2" height="4" fill="#008000"/><rect x="263" y="372" width="1" height="1" fill="#008000"/><rect x="263" y="377" width="1" height="2" fill="#008000"/><rect x="263" y="532" width="2" height="4" fill="#008000"/><rect x="266" y="374" width="2" height="5" fill="#008000"/><rect x="266" y="373" width="1" height="1" fill="#008000"/><rect x="266" y="379" width="1" height="1" fill="#008000"/><rect x="266" y="531" width="2" height="5" fill="#008000"/><rect x="269" y="375" width="2" height="4" fill="#008000"/><rect x="269" y="373" width="1" height="2" fill="#008000"/><rect x="269" y="379" width="1" height="1" fill="#008000"/><rect x="269" y="533" width="2" height="3" fill="#008000"/><rect x="272" y="377" width="2" height="2" fill="#008000"/><rect x="272" y="379" width="1" height="2" fill="#008000"/><rect x="272" y="533" width="2" height="3" fill="#008000"/><rect x="274" y="376" width="2" height="5" fill="#008000"/><rect x="274" y="375" width="1" height="1" fill="#008000"/><rect x="274" y="381" width="1" height="3" fill="#008000"/><rect x="274" y="533" width="2" height="3" fill="#008000"/><rect x="277" y="378" width="2" height="8" fill="#008000"/><rect x="277" y="376" width="1" height="2" fill="#008000"/><rect x="277" y="386" width="1" height="1" fill="#008000"/><rect x="277" y="530" width="2" height="6" fill="#008000"/><rect x="280" y="383" width="2" height="5" fill="#FF0000"/><rect x="280" y="382" width="1" height="1" fill="#FF0000"/><rect x="280" y="532" width="2" height="4" fill="#FF0000"/><rect x="283" y="384" width="2" height="6" fill="#008000"/><rect x="283" y="383" width="1" height="1" fill="#008000"/><rect x="283" y="390" width="1" height="1" fill="#008000"/><rect x="283" y="534" width="2" height="2" fill="#008000"/><rect x="286" y="386" width="2" height="5" fill="#008000"/><rect x="286" y="385" width="1" height="1" fill="#008000"/><rect x="286" y="391" width="1" height="2" fill="#008000"/><rect x="286" y="533" width="2" height="3" fill="#008000"/><rect x="289" y="387" width="2" height="4" fill="#FF0000"/><rect x="289" y="391" width="1" height="1" fill="#FF0000"/><rect x="289" y="532" width="2" height="4" fill="#FF0000"/><rect x="291" y="386" width="2" height="4" fill="#FF0000"/><rect x="291" y="385" width="1" height="1" fill="#FF0000"/><rect x="291" y="390" width="1" height="2" fill="#FF0000"/><rect x="291" y="532" width="2" height="4" fill="#FF0000"/><rect x="294" y="382" width="2" height="4" fill="#FF0000"/><rect x="294" y="381" width="1" height="1" fill="#FF0000"/><rect x="294" y="386" width="1" height="1" fill="#FF0000"/><rect x="294" y="531" width="2" height="5" fill="#FF0000"/><rect x="297" y="380" width="2" height="5" fill="#FF0000"/><rect x="297" y="379" width="1" height="1" fill="#FF0000"/><rect x="297" y="385" width="1" height="1" fill="#FF0000"/><rect x="297" y="532" width="2" height="4" fill="#FF0000"/><rect x="300" y="379" width="2" height="4" fill="#FF0000"/><rect x="300" y="377" width="1" height="2" fill="#FF0000"/><rect x="300" y="383" width="1" height="1" fill="#FF0000"/><rect x="300" y="532" width="2" height="4" fill="#FF0000"/><rect x="303" y="379" width="2" height="4" fill="#008000"/><rect x="303" y="378" width="1" height="1" fill="#008000"/><rect x="303" y="383" width="1" height="1" fill="#008000"/><rect x="303" y="531" width="2" height="5" fill="#008000"/><rect x="305" y="380" width="2" height="3" fill="#008000"/><rect x="305" y="383" width="1" height="1" fill="#008000"/><rect x="305" y="531" width="2" height="5" fill="#008000"/><rect x="308" y="382" width="2" height="1" fill="#008000"/><rect x="308" y="383" width="1" height="1" fill="#008000"/><rect x="308" y="533" width="2" height="3" fill="#008000"/><rect x="311" y="381" width="2" height="2" fill="#FF0000"/><rect x="311" y="380" width="1" height="1" fill="#FF0000"/><rect x="311" y="383" width="1" height="1" fill="#FF0000"/><rect x="311" y="534" width="2" height="2" fill="#FF0000"/><rect x="314" y="379" width="2" height="4" fill="#FF0000"/><rect x="314" y="378" width="1" height="1" fill="#FF0000"/><rect x="314" y="383" width="1" height="1" fill="#FF0000"/><rect x="314" y="531" width="2" height="5" fill="#FF0000"/><rect x="317" y="378" width="2" height="3" fill="#FF0000"/><rect x="317" y="376" width="1" height="2" fill="#FF0000"/><rect x="317" y="381" width="1" height="1" fill="#FF0000"/><rect x="317" y="530" width="2" height="6" fill="#FF0000"/><rect x="320" y="377" width="2" height="3" fill="#008000"/><rect x="320" y="533" width="2" height="3" fill="#008000"/><rect x="322" y="377" width="2" height="4" fill="#008000"/><rect x="322" y="376" width="1" height="1" fill="#008000"/><rect x="322" y="381" width="1" height="1" fill="#008000"/><rect x="322" y="533" width="2" height="3" fill="#008000"/><rect x="325" y="378" width="2" height="3" fill="#008000"/><rect x="325" y="376" width="1" height="2" fill="#008000"/><rect x="325" y="381" width="1" height="1" fill="#008000"/><rect x="325" y="533" width="2" height="3" fill="#008000"/><rect x="328" y="378" width="2" height="4" fill="#FF0000"/><rect x="328" y="377" width="1" height="1" fill="#FF0000"/><rect x="328" y="382" width="1" height="1" fill="#FF0000"/><rect x="328" y="533" width="2" height="3" fill="#FF0000"/><rect x="331" y="379" width="2" height="4" fill="#008000"/><rect x="331" y="378" width="1" height="1" fill="#008000"/><rect x="331" y="383" width="1" height="1" fill="#008000"/><rect x="331" y="533" width="2" height="3" fill="#008000"/><rect x="334" y="380" width="2" height="4" fill="#008000"/><rect x="334" y="377" width="1" height="3" fill="#008000"/><rect x="334" y="384" width="1" height="2" fill="#008000"/><rect x="334" y="532" width="2" height="4" fill="#008000"/><rect x="337" y="383" width="2" height="6" fill="#FF0000"/><rect x="337" y="380" width="1" height="3" fill="#FF0000"/><rect x="337" y="534" width="2" height="2" fill="#FF0000"/><rect x="339" y="384" width="2" height="4" fill="#FF0000"/><rect x="339" y="382" width="1" height="2" fill="#FF0000"/><rect x="339" y="388" width="1" height="3" fill="#FF0000"/><rect x="339" y="534" width="2" height="2" fill="#FF0000"/><rect x="342" y="387" width="2" height="1" fill="#FF0000"/><rect x="342" y="388" width="1" height="1" fill="#FF0000"/><rect x="342" y="534" width="2" height="2" fill="#FF0000"/><rect x="345" y="386" width="2" height="1" fill="#FF0000"/><rect x="345" y="385" width="1" height="1" fill="#FF0000"/><rect x="345" y="387" width="1" height="1" fill="#FF0000"/><rect x="345" y="534" width="2" height="2" fill="#FF0000"/><rect x="348" y="383" width="2" height="4" fill="#FF0000"/><rect x="348" y="381" width="1" height="2" fill="#FF0000"/><rect x="348" y="387" width="1" height="3" fill="#FF0000"/><rect x="348" y="533" width="2" height="3" fill="#FF0000"/><rect x="351" y="383" width="2" height="2" fill="#FF0000"/><rect x="351" y="381" width="1" height="2" fill="#FF0000"/><rect x="351" y="385" width="1" height="2" fill="#FF0000"/><rect x="351" y="532" width="2" height="4" fill="#FF0000"/><rect x="354" y="381" width="2" height="3" fill="#FF0000"/><rect x="354" y="379" width="1" height="2" fill="#FF0000"/><rect x="354" y="384" width="1" height="2" fill="#FF0000"/><rect x="354" y="533" width="2" height="3" fill="#FF0000"/><rect x="356" y="380" width="2" height="3" fill="#008000"/><rect x="356" y="378" width="1" height="2" fill="#008000"/><rect x="356" y="383" width="1" height="1" fill="#008000"/><rect x="356" y="534" width="2" height="2" fill="#008000"/><rect x="359" y="379" width="2" height="3" fill="#FF0000"/><rect x="359" y="376" width="1" height="3" fill="#FF0000"/><rect x="359" y="382" width="1" height="1" fill="#FF0000"/><rect x="359" y="528" width="2" height="8" fill="#FF0000"/><rect x="362" y="381" width="2" height="4" fill="#008000"/><rect x="362" y="380" width="1" height="1" fill="#008000"/><rect x="362" y="385" width="1" height="2" fill="#008000"/><rect x="362" y="530" width="2" height="6" fill="#008000"/><rect x="365" y="384" width="2" height="3" fill="#008000"/><rect x="365" y="383" width="1" height="1" fill="#008000"/><rect x="365" y="387" width="1" height="1" fill="#008000"/><rect x="365" y="533" width="2" height="3" fill="#008000"/><rect x="368" y="385" width="2" height="4" fill="#008000"/><rect x="368" y="389" width="1" height="1" fill="#008000"/><rect x="368" y="534" width="2" height="2" fill="#008000"/><rect x="371" y="386" width="2" height="2" fill="#008000"/><rect x="371" y="388" width="1" height="1" fill="#008000"/><rect x="371" y="533" width="2" height="3" fill="#008000"/><rect x="373" y="385" width="2" height="3" fill="#FF0000"/><rect x="373" y="384" width="1" height="1" fill="#FF0000"/><rect x="373" y="528" width="2" height="8" fill="#FF0000"/><rect x="376" y="384" width="2" height="5" fill="#008000"/><rect x="376" y="382" width="1" height="2" fill="#008000"/><rect x="376" y="389" width="1" height="3" fill="#008000"/><rect x="376" y="531" width="2" height="5" fill="#008000"/><rect x="379" y="388" width="2" height="3" fill="#008000"/><rect x="379" y="387" width="1" height="1" fill="#008000"/><rect x="379" y="533" width="2" height="3" fill="#008000"/><rect x="382" y="389" width="2" height="4" fill="#008000"/><rect x="382" y="388" width="1" height="1" fill="#008000"/><rect x="382" y="534" width="2" height="2" fill="#008000"/><rect x="385" y="390" width="2" height="2" fill="#FF0000"/><rect x="385" y="388" width="1" height="2" fill="#FF0000"/><rect x="385" y="392" width="1" height="1" fill="#FF0000"/><rect x="385" y="527" width="2" height="9" fill="#FF0000"/><rect x="387" y="390" width="2" height="2" fill="#FF0000"/><rect x="387" y="392" width="1" height="2" fill="#FF0000"/><rect x="387" y="534" width="2" height="2" fill="#FF0000"/><rect x="390" y="390" width="2" height="3" fill="#008000"/><rect x="390" y="388" width="1" height="2" fill="#008000"/><rect x="390" y="534" width="2" height="2" fill="#008000"/><rect x="393" y="391" width="2" height="2" fill="#008000"/><rect x="393" y="389" width="1" height="2" fill="#008000"/><rect x="393" y="393" width="1" height="1" fill="#008000"/><rect x="393" y="533" width="2" height="3" fill="#008000"/><rect x="396" y="392" width="2" height="3" fill="#008000"/><rect x="396" y="389" width="1" height="3" fill="#008000"/><rect x="396" y="395" width="1" height="2" fill="#008000"/><rect x="396" y="534" width="2" height="2" fill="#008000"/><rect x="399" y="393" width="2" height="6" fill="#008000"/><rect x="399" y="399" width="1" height="3" fill="#008000"/><rect x="399" y="533" width="2" height="3" fill="#008000"/><rect x="402" y="397" width="2" height="5" fill="#008000"/><rect x="402" y="393" width="1" height="4" fill="#008000"/><rect x="402" y="402" width="1" height="2" fill="#008000"/><rect x="402" y="534" width="2" height="2" fill="#008000"/><rect x="404" y="401" width="2" height="5" fill="#008000"/><rect x="404" y="400" width="1" height="1" fill="#008000"/><rect x="404" y="406" width="1" height="3" fill="#008000"/><rect x="404" y="534" width="2" height="2" fill="#008000"/><rect x="407" y="402" width="2" height="2" fill="#FF0000"/><rect x="407" y="404" width="1" height="1" fill="#FF0000"/><rect x="407" y="523" width="2" height="13" fill="#FF0000"/><rect x="410" y="402" width="2" height="4" fill="#008000"/><rect x="410" y="406" width="1" height="1" fill="#008000"/><rect x="410" y="527" width="2" height="9" fill="#008000"/><rect x="413" y="407" width="2" height="1" fill="#008000"/><rect x="413" y="406" width="1" height="1" fill="#008000"/><rect x="413" y="408" width="1" height="6" fill="#008000"/><rect x="413" y="529" width="2" height="7" fill="#008000"/><rect x="416" y="402" width="2" height="4" fill="#FF0000"/><rect x="416" y="399" width="1" height="3" fill="#FF0000"/><rect x="416" y="406" width="1" height="1" fill="#FF0000"/><rect x="416" y="531" width="2" height="5" fill="#FF0000"/><rect x="419" y="400" width="2" height="4" fill="#008000"/><rect x="419" y="399" width="1" height="1" fill="#008000"/><rect x="419" y="404" width="1" height="1" fill="#008000"/><rect x="419" y="533" width="2" height="3" fill="#008000"/><rect x="421" y="400" width="2" height="2" fill="#008000"/><rect x="421" y="399" width="1" height="1" fill="#008000"/><rect x="421" y="533" width="2" height="3" fill="#008000"/><rect x="424" y="398" width="2" height="4" fill="#FF0000"/><rect x="424" y="396" width="1" height="2" fill="#FF0000"/><rect x="424" y="529" width="2" height="7" fill="#FF0000"/><rect x="427" y="397" width="2" height="3" fill="#FF0000"/><rect x="427" y="395" width="1" height="2" fill="#FF0000"/><rect x="427" y="531" width="2" height="5" fill="#FF0000"/><rect x="430" y="396" width="2" height="4" fill="#008000"/><rect x="430" y="400" width="1" height="1" fill="#008000"/><rect x="430" y="533" width="2" height="3" fill="#008000"/><rect x="433" y="397" width="2" height="5" fill="#008000"/><rect x="433" y="396" width="1" height="1" fill="#008000"/><rect x="433" y="402" width="1" height="1" fill="#008000"/><rect x="433" y="534" width="2" height="2" fill="#008000"/><rect x="436" y="397" width="2" height="6" fill="#FF0000"/><rect x="436" y="394" width="1" height="3" fill="#FF0000"/><rect x="436" y="403" width="1" height="1" fill="#FF0000"/><rect x="436" y="531" width="2" height="5" fill="#FF0000"/><rect x="438" y="392" width="2" height="8" fill="#FF0000"/><rect x="438" y="389" width="1" height="3" fill="#FF0000"/><rect x="438" y="400" width="1" height="2" fill="#FF0000"/><rect x="438" y="531" width="2" height="5" fill="#FF0000"/><rect x="441" y="391" width="2" height="4" fill="#FF0000"/><rect x="441" y="390" width="1" height="1" fill="#FF0000"/><rect x="441" y="529" width="2" height="7" fill="#FF0000"/><rect x="444" y="391" width="2" height="2" fill="#008000"/><rect x="444" y="393" width="1" height="2" fill="#008000"/><rect x="444" y="530" width="2" height="6" fill="#008000"/><rect x="447" y="388" width="2" height="4" fill="#FF0000"/><rect x="447" y="387" width="1" height="1" fill="#FF0000"/><rect x="447" y="532" width="2" height="4" fill="#FF0000"/><rect x="450" y="383" width="2" height="7" fill="#FF0000"/><rect x="450" y="380" width="1" height="3" fill="#FF0000"/><rect x="450" y="390" width="1" height="3" fill="#FF0000"/><rect x="450" y="522" width="2" height="14" fill="#FF0000"/><rect x="452" y="382" width="2" height="5" fill="#FF0000"/><rect x="452" y="381" width="1" height="1" fill="#FF0000"/><rect x="452" y="387" width="1" height="1" fill="#FF0000"/><rect x="452" y="522" width="2" height="14" fill="#FF0000"/><rect x="455" y="378" width="2" height="7" fill="#008000"/><rect x="455" y="377" width="1" height="1" fill="#008000"/><rect x="455" y="385" width="1" height="2" fill="#008000"/><rect x="455" y="529" width="2" height="7" fill="#008000"/><rect x="458" y="368" width="2" height="10" fill="#FF0000"/><rect x="458" y="357" width="1" height="11" fill="#FF0000"/><rect x="458" y="378" width="1" height="7" fill="#FF0000"/><rect x="458" y="504" width="2" height="32" fill="#FF0000"/><rect x="461" y="362" width="2" height="7" fill="#FF0000"/><rect x="461" y="361" width="1" height="1" fill="#FF0000"/><rect x="461" y="369" width="1" height="4" fill="#FF0000"/><rect x="461" y="473" width="2" height="63" fill="#FF0000"/><rect x="464" y="362" width="2" height="3" fill="#FF0000"/><rect x="464" y="505" width="2" height="31" fill="#FF0000"/><rect x="467" y="359" width="2" height="7" fill="#008000"/><rect x="467" y="357" width="1" height="2" fill="#008000"/><rect x="467" y="366" width="1" height="3" fill="#008000"/><rect x="467" y="501" width="2" height="35" fill="#008000"/><rect x="469" y="352" width="2" height="7" fill="#FF0000"/><rect x="469" y="346" width="1" height="6" fill="#FF0000"/><rect x="469" y="473" width="2" height="63" fill="#FF0000"/><rect x="472" y="352" width="2" height="2" fill="#008000"/><rect x="472" y="354" width="1" height="1" fill="#008000"/><rect x="472" y="496" width="2" height="40" fill="#008000"/><rect x="475" y="352" width="2" height="1" fill="#FF0000"/><rect x="475" y="353" width="1" height="1" fill="#FF0000"/><rect x="475" y="489" width="2" height="47" fill="#FF0000"/><rect x="478" y="353" width="2" height="3" fill="#008000"/><rect x="478" y="351" width="1" height="2" fill="#008000"/><rect x="478" y="356" width="1" height="2" fill="#008000"/><rect x="478" y="490" width="2" height="46" fill="#008000"/><rect x="481" y="355" width="2" height="4" fill="#FF0000"/><rect x="481" y="353" width="1" height="2" fill="#FF0000"/><rect x="481" y="359" width="1" height="1" fill="#FF0000"/><rect x="481" y="505" width="2" height="31" fill="#FF0000"/><rect x="484" y="354" width="2" height="5" fill="#FF0000"/><rect x="484" y="353" width="1" height="1" fill="#FF0000"/><rect x="484" y="509" width="2" height="27" fill="#FF0000"/><rect x="486" y="352" width="2" height="7" fill="#008000"/><rect x="486" y="359" width="1" height="2" fill="#008000"/><rect x="486" y="506" width="2" height="30" fill="#008000"/><rect x="489" y="349" width="2" height="6" fill="#FF0000"/><rect x="489" y="348" width="1" height="1" fill="#FF0000"/><rect x="489" y="355" width="1" height="3" fill="#FF0000"/><rect x="489" y="482" width="2" height="54" fill="#FF0000"/><rect x="492" y="346" width="2" height="5" fill="#FF0000"/><rect x="492" y="345" width="1" height="1" fill="#FF0000"/><rect x="492" y="351" width="1" height="2" fill="#FF0000"/><rect x="492" y="483" width="2" height="53" fill="#FF0000"/><rect x="495" y="347" width="2" height="4" fill="#008000"/><rect x="495" y="351" width="1" height="1" fill="#008000"/><rect x="495" y="494" width="2" height="42" fill="#008000"/><rect x="498" y="349" width="2" height="2" fill="#008000"/><rect x="498" y="347" width="1" height="2" fill="#008000"/><rect x="498" y="351" width="1" height="2" fill="#008000"/><rect x="498" y="503" width="2" height="33" fill="#008000"/><rect x="501" y="348" width="2" height="4" fill="#FF0000"/><rect x="501" y="346" width="1" height="2" fill="#FF0000"/><rect x="501" y="352" width="1" height="2" fill="#FF0000"/><rect x="501" y="503" width="2" height="33" fill="#FF0000"/><rect x="503" y="347" width="2" height="6" fill="#FF0000"/><rect x="503" y="344" width="1" height="3" fill="#FF0000"/><rect x="503" y="353" width="1" height="1" fill="#FF0000"/><rect x="503" y="509" width="2" height="27" fill="#FF0000"/><rect x="506" y="353" width="2" height="8" fill="#008000"/><rect x="506" y="352" width="1" height="1" fill="#008000"/><rect x="506" y="361" width="1" height="2" fill="#008000"/><rect x="506" y="508" width="2" height="28" fill="#008000"/><rect x="509" y="362" width="2" height="7" fill="#008000"/><rect x="509" y="357" width="1" height="5" fill="#008000"/><rect x="509" y="369" width="1" height="3" fill="#008000"/><rect x="509" y="525" width="2" height="11" fill="#008000"/><rect x="512" y="366" width="2" height="6" fill="#008000"/><rect x="512" y="364" width="1" height="2" fill="#008000"/><rect x="512" y="372" width="1" height="2" fill="#008000"/><rect x="512" y="525" width="2" height="11" fill="#008000"/><rect x="515" y="369" width="2" height="4" fill="#FF0000"/><rect x="515" y="373" width="1" height="2" fill="#FF0000"/><rect x="515" y="528" width="2" height="8" fill="#FF0000"/><rect x="518" y="363" width="2" height="5" fill="#FF0000"/><rect x="518" y="362" width="1" height="1" fill="#FF0000"/><rect x="518" y="368" width="1" height="2" fill="#FF0000"/><rect x="518" y="525" width="2" height="11" fill="#FF0000"/><rect x="520" y="364" width="2" height="4" fill="#008000"/><rect x="520" y="368" width="1" height="2" fill="#008000"/><rect x="520" y="527" width="2" height="9" fill="#008000"/><rect x="523" y="367" width="2" height="4" fill="#008000"/><rect x="523" y="371" width="1" height="1" fill="#008000"/><rect x="523" y="528" width="2" height="8" fill="#008000"/><rect x="526" y="368" width="2" height="4" fill="#008000"/><rect x="526" y="372" width="1" height="2" fill="#008000"/><rect x="526" y="530" width="2" height="6" fill="#008000"/><rect x="529" y="369" width="2" height="4" fill="#FF0000"/><rect x="529" y="368" width="1" height="1" fill="#FF0000"/><rect x="529" y="528" width="2" height="8" fill="#FF0000"/><rect x="532" y="368" width="2" height="3" fill="#008000"/><rect x="532" y="367" width="1" height="1" fill="#008000"/><rect x="532" y="371" width="1" height="2" fill="#008000"/><rect x="532" y="530" width="2" height="6" fill="#008000"/><rect x="534" y="368" width="2" height="3" fill="#FF0000"/><rect x="534" y="366" width="1" height="2" fill="#FF0000"/><rect x="534" y="529" width="2" height="7" fill="#FF0000"/><rect x="537" y="367" width="2" height="2" fill="#FF0000"/><rect x="537" y="366" width="1" height="1" fill="#FF0000"/><rect x="537" y="369" width="1" height="2" fill="#FF0000"/><rect x="537" y="527" width="2" height="9" fill="#FF0000"/><rect x="540" y="365" width="2" height="3" fill="#008000"/><rect x="540" y="364" width="1" height="1" fill="#008000"/><rect x="540" y="528" width="2" height="8" fill="#008000"/><rect x="543" y="365" width="2" height="1" fill="#FF0000"/><rect x="543" y="364" width="1" height="1" fill="#FF0000"/><rect x="543" y="366" width="1" height="2" fill="#FF0000"/><rect x="543" y="530" width="2" height="6" fill="#FF0000"/><rect x="546" y="363" width="2" height="4" fill="#FF0000"/><rect x="546" y="362" width="1" height="1" fill="#FF0000"/><rect x="546" y="530" width="2" height="6" fill="#FF0000"/><rect x="549" y="363" width="2" height="3" fill="#008000"/><rect x="549" y="362" width="1" height="1" fill="#008000"/><rect x="549" y="366" width="1" height="1" fill="#008000"/><rect x="549" y="529" width="2" height="7" fill="#008000"/><rect x="551" y="365" width="2" height="1" fill="#FF0000"/><rect x="551" y="363" width="1" height="2" fill="#FF0000"/><rect x="551" y="521" width="2" height="15" fill="#FF0000"/><rect x="554" y="363" width="2" height="5" fill="#008000"/><rect x="554" y="361" width="1" height="2" fill="#008000"/><rect x="554" y="526" width="2" height="10" fill="#008000"/><rect x="557" y="362" width="2" height="4" fill="#FF0000"/><rect x="557" y="360" width="1" height="2" fill="#FF0000"/><rect x="557" y="366" width="1" height="3" fill="#FF0000"/><rect x="557" y="529" width="2" height="7" fill="#FF0000"/><rect x="560" y="361" width="2" height="2" fill="#FF0000"/><rect x="560" y="360" width="1" height="1" fill="#FF0000"/><rect x="560" y="363" width="1" height="1" fill="#FF0000"/><rect x="560" y="529" width="2" height="7" fill="#FF0000"/><rect x="563" y="361" width="2" height="7" fill="#008000"/><rect x="563" y="360" width="1" height="1" fill="#008000"/><rect x="563" y="368" width="1" height="2" fill="#008000"/><rect x="563" y="525" width="2" height="11" fill="#008000"/><rect x="566" y="367" width="2" height="3" fill="#008000"/><rect x="566" y="365" width="1" height="2" fill="#008000"/><rect x="566" y="370" width="1" height="3" fill="#008000"/><rect x="566" y="528" width="2" height="8" fill="#008000"/><rect x="568" y="369" width="2" height="1" fill="#008000"/><rect x="568" y="367" width="1" height="2" fill="#008000"/><rect x="568" y="370" width="1" height="1" fill="#008000"/><rect x="568" y="528" width="2" height="8" fill="#008000"/><rect x="571" y="365" width="2" height="7" fill="#FF0000"/><rect x="571" y="362" width="1" height="3" fill="#FF0000"/><rect x="571" y="372" width="1" height="1" fill="#FF0000"/><rect x="571" y="530" width="2" height="6" fill="#FF0000"/><rect x="574" y="355" width="2" height="12" fill="#FF0000"/><rect x="574" y="352" width="1" height="3" fill="#FF0000"/><rect x="574" y="367" width="1" height="1" fill="#FF0000"/><rect x="574" y="503" width="2" height="33" fill="#FF0000"/><rect x="577" y="349" width="2" height="8" fill="#FF0000"/><rect x="577" y="346" width="1" height="3" fill="#FF0000"/><rect x="577" y="357" width="1" height="2" fill="#FF0000"/><rect x="577" y="501" width="2" height="35" fill="#FF0000"/><rect x="580" y="345" width="2" height="5" fill="#FF0000"/><rect x="580" y="344" width="1" height="1" fill="#FF0000"/><rect x="580" y="350" width="1" height="1" fill="#FF0000"/><rect x="580" y="512" width="2" height="24" fill="#FF0000"/><rect x="583" y="345" width="2" height="2" fill="#008000"/><rect x="583" y="343" width="1" height="2" fill="#008000"/><rect x="583" y="519" width="2" height="17" fill="#008000"/><rect x="585" y="345" width="2" height="6" fill="#008000"/><rect x="585" y="342" width="1" height="3" fill="#008000"/><rect x="585" y="351" width="1" height="1" fill="#008000"/><rect x="585" y="519" width="2" height="17" fill="#008000"/><rect x="588" y="348" width="2" height="8" fill="#008000"/><rect x="588" y="345" width="1" height="3" fill="#008000"/><rect x="588" y="356" width="1" height="4" fill="#008000"/><rect x="588" y="525" width="2" height="11" fill="#008000"/><rect x="591" y="353" width="2" height="6" fill="#FF0000"/><rect x="591" y="352" width="1" height="1" fill="#FF0000"/><rect x="591" y="359" width="1" height="2" fill="#FF0000"/><rect x="591" y="529" width="2" height="7" fill="#FF0000"/><rect x="594" y="356" width="2" height="8" fill="#008000"/><rect x="594" y="354" width="1" height="2" fill="#008000"/><rect x="594" y="364" width="1" height="2" fill="#008000"/><rect x="594" y="527" width="2" height="9" fill="#008000"/><rect x="597" y="362" width="2" height="4" fill="#FF0000"/><rect x="597" y="361" width="1" height="1" fill="#FF0000"/><rect x="597" y="366" width="1" height="1" fill="#FF0000"/><rect x="597" y="531" width="2" height="5" fill="#FF0000"/><rect x="600" y="365" width="2" height="1" fill="#008000"/><rect x="600" y="363" width="1" height="2" fill="#008000"/><rect x="600" y="530" width="2" height="6" fill="#008000"/><rect x="602" y="363" width="2" height="4" fill="#008000"/><rect x="602" y="362" width="1" height="1" fill="#008000"/><rect x="602" y="367" width="1" height="1" fill="#008000"/><rect x="602" y="530" width="2" height="6" fill="#008000"/><rect x="605" y="362" width="2" height="4" fill="#FF0000"/><rect x="605" y="526" width="2" height="10" fill="#FF0000"/><rect x="608" y="359" width="2" height="7" fill="#008000"/><rect x="608" y="356" width="1" height="3" fill="#008000"/><rect x="608" y="366" width="1" height="3" fill="#008000"/><rect x="608" y="529" width="2" height="7" fill="#008000"/><rect x="611" y="354" width="2" height="7" fill="#FF0000"/><rect x="611" y="350" width="1" height="4" fill="#FF0000"/><rect x="611" y="361" width="1" height="4" fill="#FF0000"/><rect x="611" y="522" width="2" height="14" fill="#FF0000"/><rect x="614" y="353" width="2" height="4" fill="#FF0000"/><rect x="614" y="350" width="1" height="3" fill="#FF0000"/><rect x="614" y="519" width="2" height="17" fill="#FF0000"/><rect x="616" y="352" width="2" height="4" fill="#008000"/><rect x="616" y="350" width="1" height="2" fill="#008000"/><rect x="616" y="356" width="1" height="2" fill="#008000"/><rect x="616" y="524" width="2" height="12" fill="#008000"/><rect x="619" y="351" width="2" height="3" fill="#FF0000"/><rect x="619" y="522" width="2" height="14" fill="#FF0000"/><rect x="622" y="351" width="2" height="5" fill="#008000"/><rect x="622" y="356" width="1" height="2" fill="#008000"/><rect x="622" y="523" width="2" height="13" fill="#008000"/><rect x="625" y="353" width="2" height="6" fill="#008000"/><rect x="625" y="352" width="1" height="1" fill="#008000"/><rect x="625" y="359" width="1" height="3" fill="#008000"/><rect x="625" y="527" width="2" height="9" fill="#008000"/><rect x="628" y="357" width="2" height="7" fill="#008000"/><rect x="628" y="356" width="1" height="1" fill="#008000"/><rect x="628" y="364" width="1" height="3" fill="#008000"/><rect x="628" y="525" width="2" height="11" fill="#008000"/><rect x="631" y="361" width="2" height="4" fill="#FF0000"/><rect x="631" y="359" width="1" height="2" fill="#FF0000"/><rect x="631" y="365" width="1" height="1" fill="#FF0000"/><rect x="631" y="530" width="2" height="6" fill="#FF0000"/><rect x="633" y="363" width="2" height="3" fill="#FF0000"/><rect x="633" y="362" width="1" height="1" fill="#FF0000"/><rect x="633" y="366" width="1" height="1" fill="#FF0000"/><rect x="633" y="532" width="2" height="4" fill="#FF0000"/><rect x="636" y="364" width="2" height="7" fill="#008000"/><rect x="636" y="362" width="1" height="2" fill="#008000"/><rect x="636" y="527" width="2" height="9" fill="#008000"/><rect x="639" y="367" width="2" height="6" fill="#008000"/><rect x="639" y="364" width="1" height="3" fill="#008000"/><rect x="639" y="373" width="1" height="1" fill="#008000"/><rect x="639" y="531" width="2" height="5" fill="#008000"/><rect x="642" y="370" width="2" height="3" fill="#FF0000"/><rect x="642" y="531" width="2" height="5" fill="#FF0000"/><rect x="645" y="365" width="2" height="5" fill="#FF0000"/><rect x="645" y="370" width="1" height="1" fill="#FF0000"/><rect x="645" y="531" width="2" height="5" fill="#FF0000"/><rect x="648" y="363" width="2" height="3" fill="#FF0000"/><rect x="648" y="362" width="1" height="1" fill="#FF0000"/><rect x="648" y="366" width="1" height="2" fill="#FF0000"/><rect x="648" y="525" width="2" height="11" fill="#FF0000"/><rect x="650" y="363" width="2" height="4" fill="#008000"/><rect x="650" y="362" width="1" height="1" fill="#008000"/><rect x="650" y="367" width="1" height="2" fill="#008000"/><rect x="650" y="531" width="2" height="5" fill="#008000"/><rect x="653" y="365" width="2" height="7" fill="#008000"/><rect x="653" y="363" width="1" height="2" fill="#008000"/><rect x="653" y="372" width="1" height="2" fill="#008000"/><rect x="653" y="531" width="2" height="5" fill="#008000"/><rect x="656" y="372" width="2" height="6" fill="#008000"/><rect x="656" y="371" width="1" height="1" fill="#008000"/><rect x="656" y="378" width="1" height="5" fill="#008000"/><rect x="656" y="529" width="2" height="7" fill="#008000"/><rect x="659" y="377" width="2" height="4" fill="#008000"/><rect x="659" y="376" width="1" height="1" fill="#008000"/><rect x="659" y="381" width="1" height="2" fill="#008000"/><rect x="659" y="529" width="2" height="7" fill="#008000"/><rect x="662" y="378" width="2" height="4" fill="#FF0000"/><rect x="662" y="532" width="2" height="4" fill="#FF0000"/><rect x="665" y="377" width="2" height="3" fill="#008000"/><rect x="665" y="376" width="1" height="1" fill="#008000"/><rect x="665" y="380" width="1" height="2" fill="#008000"/><rect x="665" y="532" width="2" height="4" fill="#008000"/><rect x="667" y="374" width="2" height="6" fill="#FF0000"/><rect x="667" y="371" width="1" height="3" fill="#FF0000"/><rect x="667" y="380" width="1" height="2" fill="#FF0000"/><rect x="667" y="528" width="2" height="8" fill="#FF0000"/><rect x="670" y="375" width="2" height="1" fill="#FF0000"/><rect x="670" y="376" width="1" height="1" fill="#FF0000"/><rect x="670" y="531" width="2" height="5" fill="#FF0000"/><rect x="673" y="373" width="2" height="9" fill="#008000"/><rect x="673" y="370" width="1" height="3" fill="#008000"/><rect x="673" y="382" width="1" height="3" fill="#008000"/><rect x="673" y="530" width="2" height="6" fill="#008000"/><rect x="676" y="382" width="2" height="7" fill="#008000"/><rect x="676" y="380" width="1" height="2" fill="#008000"/><rect x="676" y="389" width="1" height="4" fill="#008000"/><rect x="676" y="522" width="2" height="14" fill="#008000"/><rect x="679" y="385" width="2" height="7" fill="#008000"/><rect x="679" y="382" width="1" height="3" fill="#008000"/><rect x="679" y="392" width="1" height="3" fill="#008000"/><rect x="679" y="530" width="2" height="6" fill="#008000"/><rect x="682" y="390" width="2" height="3" fill="#008000"/><rect x="682" y="531" width="2" height="5" fill="#008000"/><rect x="684" y="390" width="2" height="3" fill="#FF0000"/><rect x="684" y="389" width="1" height="1" fill="#FF0000"/><rect x="684" y="393" width="1" height="2" fill="#FF0000"/><rect x="684" y="533" width="2" height="3" fill="#FF0000"/><rect x="687" y="388" width="2" height="4" fill="#FF0000"/><rect x="687" y="386" width="1" height="2" fill="#FF0000"/><rect x="687" y="392" width="1" height="2" fill="#FF0000"/><rect x="687" y="531" width="2" height="5" fill="#FF0000"/><rect x="690" y="388" width="2" height="3" fill="#FF0000"/><rect x="690" y="387" width="1" height="1" fill="#FF0000"/><rect x="690" y="532" width="2" height="4" fill="#FF0000"/><rect x="693" y="388" width="2" height="3" fill="#FF0000"/><rect x="693" y="387" width="1" height="1" fill="#FF0000"/><rect x="693" y="391" width="1" height="2" fill="#FF0000"/><rect x="693" y="533" width="2" height="3" fill="#FF0000"/><rect x="696" y="388" width="2" height="4" fill="#008000"/><rect x="696" y="531" width="2" height="5" fill="#008000"/><rect x="698" y="390" width="2" height="2" fill="#008000"/><rect x="698" y="388" width="1" height="2" fill="#008000"/><rect x="698" y="392" width="1" height="1" fill="#008000"/><rect x="698" y="531" width="2" height="5" fill="#008000"/><rect x="701" y="390" width="2" height="2" fill="#FF0000"/><rect x="701" y="389" width="1" height="1" fill="#FF0000"/><rect x="701" y="392" width="1" height="1" fill="#FF0000"/><rect x="701" y="528" width="2" height="8" fill="#FF0000"/><rect x="704" y="387" width="2" height="4" fill="#008000"/><rect x="704" y="386" width="1" height="1" fill="#008000"/><rect x="704" y="533" width="2" height="3" fill="#008000"/><rect x="707" y="387" width="2" height="3" fill="#008000"/><rect x="707" y="390" width="1" height="1" fill="#008000"/><rect x="707" y="533" width="2" height="3" fill="#008000"/><rect x="710" y="387" width="2" height="3" fill="#FF0000"/><rect x="710" y="385" width="1" height="2" fill="#FF0000"/><rect x="710" y="390" width="1" height="1" fill="#FF0000"/><rect x="710" y="531" width="2" height="5" fill="#FF0000"/><rect x="713" y="385" width="2" height="6" fill="#FF0000"/><rect x="713" y="384" width="1" height="1" fill="#FF0000"/><rect x="713" y="527" width="2" height="9" fill="#FF0000"/><rect x="715" y="384" width="2" height="4" fill="#FF0000"/><rect x="715" y="381" width="1" height="3" fill="#FF0000"/><rect x="715" y="388" width="1" height="3" fill="#FF0000"/><rect x="715" y="527" width="2" height="9" fill="#FF0000"/><rect x="718" y="380" width="2" height="6" fill="#FF0000"/><rect x="718" y="379" width="1" height="1" fill="#FF0000"/><rect x="718" y="386" width="1" height="3" fill="#FF0000"/><rect x="718" y="529" width="2" height="7" fill="#FF0000"/><rect x="721" y="374" width="2" height="6" fill="#FF0000"/><rect x="721" y="372" width="1" height="2" fill="#FF0000"/><rect x="721" y="380" width="1" height="1" fill="#FF0000"/><rect x="721" y="528" width="2" height="8" fill="#FF0000"/><rect x="724" y="375" width="2" height="4" fill="#008000"/><rect x="724" y="373" width="1" height="2" fill="#008000"/><rect x="724" y="379" width="1" height="1" fill="#008000"/><rect x="724" y="524" width="2" height="12" fill="#008000"/><rect x="727" y="377" width="2" height="4" fill="#008000"/><rect x="727" y="376" width="1" height="1" fill="#008000"/><rect x="727" y="381" width="1" height="1" fill="#008000"/><rect x="727" y="521" width="2" height="15" fill="#008000"/><rect x="730" y="380" width="2" height="4" fill="#FF0000"/><rect x="730" y="379" width="1" height="1" fill="#FF0000"/><rect x="730" y="384" width="1" height="3" fill="#FF0000"/><rect x="730" y="531" width="2" height="5" fill="#FF0000"/><rect x="732" y="381" width="2" height="3" fill="#FF0000"/><rect x="732" y="380" width="1" height="1" fill="#FF0000"/><rect x="732" y="384" width="1" height="1" fill="#FF0000"/><rect x="732" y="531" width="2" height="5" fill="#FF0000"/><rect x="735" y="381" width="2" height="4" fill="#FF0000"/><rect x="735" y="380" width="1" height="1" fill="#FF0000"/><rect x="735" y="385" width="1" height="1" fill="#FF0000"/><rect x="735" y="528" width="2" height="8" fill="#FF0000"/><rect x="738" y="381" width="2" height="2" fill="#FF0000"/><rect x="738" y="383" width="1" height="2" fill="#FF0000"/><rect x="738" y="529" width="2" height="7" fill="#FF0000"/><rect x="741" y="380" width="2" height="3" fill="#FF0000"/><rect x="741" y="377" width="1" height="3" fill="#FF0000"/><rect x="741" y="383" width="1" height="1" fill="#FF0000"/><rect x="741" y="530" width="2" height="6" fill="#FF0000"/><rect x="744" y="377" width="2" height="4" fill="#FF0000"/><rect x="744" y="376" width="1" height="1" fill="#FF0000"/><rect x="744" y="381" width="1" height="1" fill="#FF0000"/><rect x="744" y="527" width="2" height="9" fill="#FF0000"/><rect x="747" y="374" width="2" height="3" fill="#008000"/><rect x="747" y="372" width="1" height="2" fill="#008000"/><rect x="747" y="377" width="1" height="1" fill="#008000"/><rect x="747" y="520" width="2" height="16" fill="#008000"/><rect x="749" y="376" width="2" height="5" fill="#008000"/><rect x="749" y="375" width="1" height="1" fill="#008000"/><rect x="749" y="381" width="1" height="4" fill="#008000"/><rect x="749" y="520" width="2" height="16" fill="#008000"/><rect x="752" y="380" width="2" height="3" fill="#008000"/><rect x="752" y="379" width="1" height="1" fill="#008000"/><rect x="752" y="529" width="2" height="7" fill="#008000"/><rect x="755" y="380" width="2" height="5" fill="#FF0000"/><rect x="755" y="378" width="1" height="2" fill="#FF0000"/><rect x="755" y="385" width="1" height="3" fill="#FF0000"/><rect x="755" y="530" width="2" height="6" fill="#FF0000"/><rect x="758" y="383" width="2" height="6" fill="#008000"/><rect x="758" y="379" width="1" height="4" fill="#008000"/><rect x="758" y="389" width="1" height="4" fill="#008000"/><rect x="758" y="532" width="2" height="4" fill="#008000"/><rect x="761" y="387" width="2" height="5" fill="#008000"/><rect x="761" y="386" width="1" height="1" fill="#008000"/><rect x="761" y="392" width="1" height="4" fill="#008000"/><rect x="761" y="532" width="2" height="4" fill="#008000"/><rect x="763" y="389" width="2" height="6" fill="#008000"/><rect x="763" y="395" width="1" height="2" fill="#008000"/><rect x="763" y="532" width="2" height="4" fill="#008000"/><rect x="766" y="392" width="2" height="2" fill="#008000"/><rect x="766" y="391" width="1" height="1" fill="#008000"/><rect x="766" y="532" width="2" height="4" fill="#008000"/><rect x="769" y="391" width="2" height="3" fill="#008000"/><rect x="769" y="532" width="2" height="4" fill="#008000"/><rect x="772" y="387" width="2" height="4" fill="#FF0000"/><rect x="772" y="384" width="1" height="3" fill="#FF0000"/><rect x="772" y="391" width="1" height="1" fill="#FF0000"/><rect x="772" y="532" width="2" height="4" fill="#FF0000"/><rect x="775" y="385" width="2" height="5" fill="#FF0000"/><rect x="775" y="523" width="2" height="13" fill="#FF0000"/><rect x="778" y="386" width="2" height="4" fill="#008000"/><rect x="778" y="385" width="1" height="1" fill="#008000"/><rect x="778" y="390" width="1" height="1" fill="#008000"/><rect x="778" y="528" width="2" height="8" fill="#008000"/><rect x="780" y="387" width="2" height="2" fill="#FF0000"/><rect x="780" y="386" width="1" height="1" fill="#FF0000"/><rect x="780" y="389" width="1" height="1" fill="#FF0000"/><rect x="780" y="525" width="2" height="11" fill="#FF0000"/><rect x="783" y="383" width="2" height="5" fill="#FF0000"/><rect x="783" y="388" width="1" height="1" fill="#FF0000"/><rect x="783" y="517" width="2" height="19" fill="#FF0000"/><rect x="786" y="386" width="2" height="8" fill="#008000"/><rect x="786" y="394" width="1" height="1" fill="#008000"/><rect x="786" y="521" width="2" height="15" fill="#008000"/><rect x="789" y="390" width="2" height="5" fill="#008000"/><rect x="789" y="388" width="1" height="2" fill="#008000"/><rect x="789" y="526" width="2" height="10" fill="#008000"/><rect x="792" y="393" width="2" height="2" fill="#008000"/><rect x="792" y="395" width="1" height="2" fill="#008000"/><rect x="792" y="528" width="2" height="8" fill="#008000"/><rect x="795" y="393" width="2" height="3" fill="#FF0000"/><rect x="795" y="391" width="1" height="2" fill="#FF0000"/><rect x="795" y="396" width="1" height="3" fill="#FF0000"/><rect x="795" y="531" width="2" height="5" fill="#FF0000"/><rect x="797" y="389" width="2" height="6" fill="#FF0000"/><rect x="797" y="387" width="1" height="2" fill="#FF0000"/><rect x="797" y="395" width="1" height="4" fill="#FF0000"/><rect x="797" y="529" width="2" height="7" fill="#FF0000"/><rect x="800" y="382" width="2" height="9" fill="#FF0000"/><rect x="800" y="380" width="1" height="2" fill="#FF0000"/><rect x="800" y="391" width="1" height="3" fill="#FF0000"/><rect x="800" y="525" width="2" height="11" fill="#FF0000"/><rect x="803" y="376" width="2" height="8" fill="#FF0000"/><rect x="803" y="374" width="1" height="2" fill="#FF0000"/><rect x="803" y="514" width="2" height="22" fill="#FF0000"/><rect x="806" y="370" width="2" height="7" fill="#FF0000"/><rect x="806" y="366" width="1" height="4" fill="#FF0000"/><rect x="806" y="377" width="1" height="3" fill="#FF0000"/><rect x="806" y="508" width="2" height="28" fill="#FF0000"/><rect x="809" y="368" width="2" height="6" fill="#008000"/><rect x="809" y="527" width="2" height="9" fill="#008000"/><rect x="812" y="368" width="2" height="3" fill="#FF0000"/><rect x="812" y="366" width="1" height="2" fill="#FF0000"/><rect x="812" y="371" width="1" height="3" fill="#FF0000"/><rect x="812" y="516" width="2" height="20" fill="#FF0000"/><rect x="814" y="368" width="2" height="3" fill="#FF0000"/><rect x="814" y="371" width="1" height="1" fill="#FF0000"/><rect x="814" y="526" width="2" height="10" fill="#FF0000"/><rect x="817" y="368" width="2" height="2" fill="#008000"/><rect x="817" y="366" width="1" height="2" fill="#008000"/><rect x="817" y="527" width="2" height="9" fill="#008000"/><rect x="820" y="366" width="2" height="6" fill="#008000"/><rect x="820" y="363" width="1" height="3" fill="#008000"/><rect x="820" y="372" width="1" height="3" fill="#008000"/><rect x="820" y="524" width="2" height="12" fill="#008000"/><rect x="823" y="358" width="2" height="10" fill="#FF0000"/><rect x="823" y="355" width="1" height="3" fill="#FF0000"/><rect x="823" y="368" width="1" height="1" fill="#FF0000"/><rect x="823" y="518" width="2" height="18" fill="#FF0000"/><rect x="826" y="355" width="2" height="5" fill="#FF0000"/><rect x="826" y="354" width="1" height="1" fill="#FF0000"/><rect x="826" y="360" width="1" height="2" fill="#FF0000"/><rect x="826" y="520" width="2" height="16" fill="#FF0000"/><rect x="829" y="355" width="2" height="4" fill="#008000"/><rect x="829" y="359" width="1" height="2" fill="#008000"/><rect x="829" y="522" width="2" height="14" fill="#008000"/><rect x="831" y="358" width="2" height="5" fill="#008000"/><rect x="831" y="525" width="2" height="11" fill="#008000"/><rect x="834" y="360" width="2" height="3" fill="#FF0000"/><rect x="834" y="359" width="1" height="1" fill="#FF0000"/><rect x="834" y="363" width="1" height="1" fill="#FF0000"/><rect x="834" y="521" width="2" height="15" fill="#FF0000"/><rect x="837" y="358" width="2" height="5" fill="#FF0000"/><rect x="837" y="356" width="1" height="2" fill="#FF0000"/><rect x="837" y="526" width="2" height="10" fill="#FF0000"/><rect x="840" y="359" width="2" height="1" fill="#FF0000"/><rect x="840" y="358" width="1" height="1" fill="#FF0000"/><rect x="840" y="360" width="1" height="2" fill="#FF0000"/><rect x="840" y="529" width="2" height="7" fill="#FF0000"/><rect x="843" y="356" width="2" height="5" fill="#FF0000"/><rect x="843" y="355" width="1" height="1" fill="#FF0000"/><rect x="843" y="523" width="2" height="13" fill="#FF0000"/><rect x="845" y="355" width="2" height="5" fill="#FF0000"/><rect x="845" y="353" width="1" height="2" fill="#FF0000"/><rect x="845" y="360" width="1" height="2" fill="#FF0000"/><rect x="845" y="523" width="2" height="13" fill="#FF0000"/><rect x="848" y="350" width="2" height="6" fill="#FF0000"/><rect x="848" y="348" width="1" height="2" fill="#FF0000"/><rect x="848" y="356" width="1" height="2" fill="#FF0000"/><rect x="848" y="524" width="2" height="12" fill="#FF0000"/><rect x="851" y="351" width="2" height="4" fill="#008000"/><rect x="851" y="348" width="1" height="3" fill="#008000"/><rect x="851" y="355" width="1" height="1" fill="#008000"/><rect x="851" y="529" width="2" height="7" fill="#008000"/><rect x="854" y="355" width="2" height="8" fill="#008000"/><rect x="854" y="353" width="1" height="2" fill="#008000"/><rect x="854" y="363" width="1" height="3" fill="#008000"/><rect x="854" y="533" width="2" height="3" fill="#008000"/><rect x="857" y="362" width="2" height="4" fill="#FF0000"/><rect x="857" y="361" width="1" height="1" fill="#FF0000"/><rect x="857" y="366" width="1" height="1" fill="#FF0000"/><rect x="857" y="529" width="2" height="7" fill="#FF0000"/><rect x="860" y="363" width="2" height="2" fill="#008000"/><rect x="860" y="361" width="1" height="2" fill="#008000"/><rect x="860" y="365" width="1" height="1" fill="#008000"/><rect x="860" y="530" width="2" height="6" fill="#008000"/><rect x="862" y="361" width="2" height="4" fill="#FF0000"/><rect x="862" y="360" width="1" height="1" fill="#FF0000"/><rect x="862" y="365" width="1" height="3" fill="#FF0000"/><rect x="862" y="528" width="2" height="8" fill="#FF0000"/><rect x="865" y="357" width="2" height="6" fill="#FF0000"/><rect x="865" y="356" width="1" height="1" fill="#FF0000"/><rect x="865" y="363" width="1" height="3" fill="#FF0000"/><rect x="865" y="528" width="2" height="8" fill="#FF0000"/><rect x="868" y="350" width="2" height="10" fill="#FF0000"/><rect x="868" y="345" width="1" height="5" fill="#FF0000"/><rect x="868" y="360" width="1" height="1" fill="#FF0000"/><rect x="868" y="528" width="2" height="8" fill="#FF0000"/><rect x="871" y="342" width="2" height="9" fill="#FF0000"/><rect x="871" y="337" width="1" height="5" fill="#FF0000"/><rect x="871" y="351" width="1" height="5" fill="#FF0000"/><rect x="871" y="523" width="2" height="13" fill="#FF0000"/><rect x="874" y="335" width="2" height="11" fill="#FF0000"/><rect x="874" y="346" width="1" height="1" fill="#FF0000"/><rect x="874" y="507" width="2" height="29" fill="#FF0000"/><rect x="877" y="330" width="2" height="7" fill="#FF0000"/><rect x="877" y="329" width="1" height="1" fill="#FF0000"/><rect x="877" y="337" width="1" height="6" fill="#FF0000"/><rect x="877" y="513" width="2" height="23" fill="#FF0000"/><rect x="879" y="326" width="2" height="7" fill="#FF0000"/><rect x="879" y="321" width="1" height="5" fill="#FF0000"/><rect x="879" y="333" width="1" height="2" fill="#FF0000"/><rect x="879" y="513" width="2" height="23" fill="#FF0000"/><rect x="882" y="324" width="2" height="5" fill="#008000"/><rect x="882" y="323" width="1" height="1" fill="#008000"/><rect x="882" y="329" width="1" height="1" fill="#008000"/><rect x="882" y="518" width="2" height="18" fill="#008000"/><rect x="885" y="325" width="2" height="3" fill="#FF0000"/><rect x="885" y="322" width="1" height="3" fill="#FF0000"/><rect x="885" y="328" width="1" height="1" fill="#FF0000"/><rect x="885" y="514" width="2" height="22" fill="#FF0000"/><rect x="888" y="326" width="2" height="4" fill="#008000"/><rect x="888" y="324" width="1" height="2" fill="#008000"/><rect x="888" y="330" width="1" height="1" fill="#008000"/><rect x="888" y="523" width="2" height="13" fill="#008000"/><rect x="891" y="328" width="2" height="4" fill="#FF0000"/><rect x="891" y="327" width="1" height="1" fill="#FF0000"/><rect x="891" y="332" width="1" height="1" fill="#FF0000"/><rect x="891" y="527" width="2" height="9" fill="#FF0000"/><rect x="894" y="332" width="2" height="4" fill="#008000"/><rect x="894" y="330" width="1" height="2" fill="#008000"/><rect x="894" y="336" width="1" height="2" fill="#008000"/><rect x="894" y="523" width="2" height="13" fill="#008000"/><rect x="896" y="333" width="2" height="3" fill="#008000"/><rect x="896" y="336" width="1" height="1" fill="#008000"/><rect x="896" y="523" width="2" height="13" fill="#008000"/><rect x="899" y="334" width="2" height="3" fill="#FF0000"/><rect x="899" y="337" width="1" height="1" fill="#FF0000"/><rect x="899" y="528" width="2" height="8" fill="#FF0000"/><rect x="902" y="333" width="2" height="3" fill="#008000"/><rect x="902" y="331" width="1" height="2" fill="#008000"/><rect x="902" y="336" width="1" height="1" fill="#008000"/><rect x="902" y="526" width="2" height="10" fill="#008000"/><rect x="905" y="330" width="2" height="4" fill="#FF0000"/><rect x="905" y="329" width="1" height="1" fill="#FF0000"/><rect x="905" y="334" width="1" height="1" fill="#FF0000"/><rect x="905" y="519" width="2" height="17" fill="#FF0000"/><rect x="908" y="324" width="2" height="7" fill="#FF0000"/><rect x="908" y="321" width="1" height="3" fill="#FF0000"/><rect x="908" y="331" width="1" height="1" fill="#FF0000"/><rect x="908" y="528" width="2" height="8" fill="#FF0000"/><rect x="911" y="319" width="2" height="5" fill="#FF0000"/><rect x="911" y="316" width="1" height="3" fill="#FF0000"/><rect x="911" y="324" width="1" height="2" fill="#FF0000"/><rect x="911" y="520" width="2" height="16" fill="#FF0000"/><rect x="913" y="318" width="2" height="3" fill="#FF0000"/><rect x="913" y="317" width="1" height="1" fill="#FF0000"/><rect x="913" y="321" width="1" height="3" fill="#FF0000"/><rect x="913" y="523" width="2" height="13" fill="#FF0000"/><rect x="916" y="318" width="2" height="3" fill="#008000"/><rect x="916" y="317" width="1" height="1" fill="#008000"/><rect x="916" y="321" width="1" height="1" fill="#008000"/><rect x="916" y="522" width="2" height="14" fill="#008000"/><rect x="919" y="320" width="2" height="5" fill="#008000"/><rect x="919" y="318" width="1" height="2" fill="#008000"/><rect x="919" y="325" width="1" height="3" fill="#008000"/><rect x="919" y="524" width="2" height="12" fill="#008000"/><rect x="922" y="323" width="2" height="4" fill="#FF0000"/><rect x="922" y="327" width="1" height="1" fill="#FF0000"/><rect x="922" y="529" width="2" height="7" fill="#FF0000"/><rect x="925" y="325" width="2" height="1" fill="#FF0000"/><rect x="925" y="326" width="1" height="2" fill="#FF0000"/><rect x="925" y="529" width="2" height="7" fill="#FF0000"/><rect x="927" y="325" width="2" height="2" fill="#008000"/><rect x="927" y="323" width="1" height="2" fill="#008000"/><rect x="927" y="327" width="1" height="1" fill="#008000"/><rect x="927" y="527" width="2" height="9" fill="#008000"/><rect x="930" y="324" width="2" height="5" fill="#FF0000"/><rect x="930" y="323" width="1" height="1" fill="#FF0000"/><rect x="930" y="530" width="2" height="6" fill="#FF0000"/><rect x="933" y="319" width="2" height="10" fill="#FF0000"/><rect x="933" y="315" width="1" height="4" fill="#FF0000"/><rect x="933" y="329" width="1" height="4" fill="#FF0000"/><rect x="933" y="526" width="2" height="10" fill="#FF0000"/><rect x="936" y="302" width="2" height="13" fill="#FF0000"/><rect x="936" y="301" width="1" height="1" fill="#FF0000"/><rect x="936" y="315" width="1" height="5" fill="#FF0000"/><rect x="936" y="506" width="2" height="30" fill="#FF0000"/><rect x="939" y="303" width="2" height="5" fill="#FF0000"/><rect x="939" y="301" width="1" height="2" fill="#FF0000"/><rect x="939" y="308" width="1" height="1" fill="#FF0000"/><rect x="939" y="521" width="2" height="15" fill="#FF0000"/><rect x="942" y="300" width="2" height="4" fill="#FF0000"/><rect x="942" y="298" width="1" height="2" fill="#FF0000"/><rect x="942" y="304" width="1" height="3" fill="#FF0000"/><rect x="942" y="524" width="2" height="12" fill="#FF0000"/><rect x="944" y="300" width="2" height="2" fill="#008000"/><rect x="944" y="298" width="1" height="2" fill="#008000"/><rect x="944" y="302" width="1" height="1" fill="#008000"/><rect x="944" y="526" width="2" height="10" fill="#008000"/><rect x="947" y="298" width="2" height="6" fill="#008000"/><rect x="947" y="304" width="1" height="1" fill="#008000"/><rect x="947" y="526" width="2" height="10" fill="#008000"/><rect x="950" y="300" width="2" height="7" fill="#FF0000"/><rect x="950" y="296" width="1" height="4" fill="#FF0000"/><rect x="950" y="307" width="1" height="2" fill="#FF0000"/><rect x="950" y="529" width="2" height="7" fill="#FF0000"/><rect x="953" y="288" width="2" height="12" fill="#FF0000"/><rect x="953" y="281" width="1" height="7" fill="#FF0000"/><rect x="953" y="300" width="1" height="3" fill="#FF0000"/><rect x="953" y="513" width="2" height="23" fill="#FF0000"/><rect x="956" y="277" width="2" height="11" fill="#FF0000"/><rect x="956" y="273" width="1" height="4" fill="#FF0000"/><rect x="956" y="288" width="1" height="5" fill="#FF0000"/><rect x="956" y="521" width="2" height="15" fill="#FF0000"/><rect x="959" y="276" width="2" height="5" fill="#FF0000"/><rect x="959" y="273" width="1" height="3" fill="#FF0000"/><rect x="959" y="281" width="1" height="1" fill="#FF0000"/><rect x="959" y="514" width="2" height="22" fill="#FF0000"/><rect x="961" y="273" width="2" height="5" fill="#008000"/><rect x="961" y="270" width="1" height="3" fill="#008000"/><rect x="961" y="278" width="1" height="3" fill="#008000"/><rect x="961" y="519" width="2" height="17" fill="#008000"/><rect x="964" y="272" width="2" height="2" fill="#FF0000"/><rect x="964" y="271" width="1" height="1" fill="#FF0000"/><rect x="964" y="274" width="1" height="1" fill="#FF0000"/><rect x="964" y="524" width="2" height="12" fill="#FF0000"/><rect x="967" y="271" width="2" height="3" fill="#FF0000"/><rect x="967" y="524" width="2" height="12" fill="#FF0000"/><rect x="970" y="272" width="2" height="2" fill="#008000"/><rect x="970" y="271" width="1" height="1" fill="#008000"/><rect x="970" y="274" width="1" height="1" fill="#008000"/><rect x="970" y="524" width="2" height="12" fill="#008000"/><rect x="973" y="272" width="2" height="2" fill="#008000"/><rect x="973" y="270" width="1" height="2" fill="#008000"/><rect x="973" y="274" width="1" height="1" fill="#008000"/><rect x="973" y="526" width="2" height="10" fill="#008000"/><rect x="976" y="269" width="2" height="4" fill="#FF0000"/><rect x="976" y="266" width="1" height="3" fill="#FF0000"/><rect x="976" y="521" width="2" height="15" fill="#FF0000"/><rect x="978" y="264" width="2" height="8" fill="#008000"/><rect x="978" y="262" width="1" height="2" fill="#008000"/><rect x="978" y="272" width="1" height="3" fill="#008000"/><rect x="978" y="504" width="2" height="32" fill="#008000"/><rect x="981" y="258" width="2" height="8" fill="#FF0000"/><rect x="981" y="256" width="1" height="2" fill="#FF0000"/><rect x="981" y="266" width="1" height="3" fill="#FF0000"/><rect x="981" y="499" width="2" height="37" fill="#FF0000"/><rect x="984" y="255" width="2" height="4" fill="#008000"/><rect x="984" y="253" width="1" height="2" fill="#008000"/><rect x="984" y="259" width="1" height="2" fill="#008000"/><rect x="984" y="508" width="2" height="28" fill="#008000"/><rect x="987" y="250" width="2" height="12" fill="#FF0000"/><rect x="987" y="262" width="1" height="5" fill="#FF0000"/><rect x="987" y="503" width="2" height="33" fill="#FF0000"/><rect x="990" y="228" width="2" height="20" fill="#FF0000"/><rect x="990" y="225" width="1" height="3" fill="#FF0000"/><rect x="990" y="248" width="1" height="9" fill="#FF0000"/><rect x="990" y="496" width="2" height="40" fill="#FF0000"/><rect x="992" y="215" width="2" height="22" fill="#FF0000"/><rect x="992" y="210" width="1" height="5" fill="#FF0000"/><rect x="992" y="237" width="1" height="2" fill="#FF0000"/><rect x="992" y="496" width="2" height="40" fill="#FF0000"/><rect x="995" y="200" width="2" height="17" fill="#FF0000"/><rect x="995" y="199" width="1" height="1" fill="#FF0000"/><rect x="995" y="217" width="1" height="1" fill="#FF0000"/><rect x="995" y="506" width="2" height="30" fill="#FF0000"/><rect x="998" y="196" width="2" height="4" fill="#FF0000"/><rect x="998" y="180" width="1" height="16" fill="#FF0000"/><rect x="998" y="200" width="1" height="2" fill="#FF0000"/><rect x="998" y="511" width="2" height="25" fill="#FF0000"/><rect x="1001" y="200" width="2" height="6" fill="#008000"/><rect x="1001" y="206" width="1" height="2" fill="#008000"/><rect x="1001" y="517" width="2" height="19" fill="#008000"/><rect x="1004" y="202" width="2" height="4" fill="#008000"/><rect x="1004" y="199" width="1" height="3" fill="#008000"/><rect x="1004" y="206" width="1" height="2" fill="#008000"/><rect x="1004" y="523" width="2" height="13" fill="#008000"/><rect x="1007" y="189" width="2" height="14" fill="#FF0000"/><rect x="1007" y="203" width="1" height="4" fill="#FF0000"/><rect x="1007" y="516" width="2" height="20" fill="#FF0000"/><rect x="1009" y="182" width="2" height="10" fill="#FF0000"/><rect x="1009" y="176" width="1" height="6" fill="#FF0000"/><rect x="1009" y="192" width="1" height="1" fill="#FF0000"/><rect x="1009" y="516" width="2" height="20" fill="#FF0000"/><rect x="1012" y="177" width="2" height="20" fill="#008000"/><rect x="1012" y="162" width="1" height="15" fill="#008000"/><rect x="1012" y="197" width="1" height="8" fill="#008000"/><rect x="1012" y="504" width="2" height="32" fill="#008000"/><rect x="1015" y="202" width="2" height="31" fill="#008000"/><rect x="1015" y="198" width="1" height="4" fill="#008000"/><rect x="1015" y="233" width="1" height="16" fill="#008000"/><rect x="1015" y="511" width="2" height="25" fill="#008000"/><rect x="1018" y="230" width="2" height="22" fill="#008000"/><rect x="1018" y="217" width="1" height="13" fill="#008000"/><rect x="1018" y="252" width="1" height="12" fill="#008000"/><rect x="1018" y="513" width="2" height="23" fill="#008000"/><rect x="1021" y="249" width="2" height="16" fill="#008000"/><rect x="1021" y="242" width="1" height="7" fill="#008000"/><rect x="1021" y="265" width="1" height="9" fill="#008000"/><rect x="1021" y="519" width="2" height="17" fill="#008000"/><rect x="1024" y="263" width="2" height="12" fill="#008000"/><rect x="1024" y="261" width="1" height="2" fill="#008000"/><rect x="1024" y="275" width="1" height="5" fill="#008000"/><rect x="1024" y="515" width="2" height="21" fill="#008000"/><rect x="1026" y="271" width="2" height="9" fill="#008000"/><rect x="1026" y="265" width="1" height="6" fill="#008000"/><rect x="1026" y="280" width="1" height="2" fill="#008000"/><rect x="1026" y="515" width="2" height="21" fill="#008000"/><rect x="1029" y="277" width="2" height="9" fill="#FF0000"/><rect x="1029" y="286" width="1" height="3" fill="#FF0000"/><rect x="1029" y="525" width="2" height="11" fill="#FF0000"/><rect x="1032" y="283" width="2" height="7" fill="#008000"/><rect x="1032" y="282" width="1" height="1" fill="#008000"/><rect x="1032" y="290" width="1" height="1" fill="#008000"/><rect x="1032" y="517" width="2" height="19" fill="#008000"/><rect x="1035" y="288" width="2" height="3" fill="#FF0000"/><rect x="1035" y="287" width="1" height="1" fill="#FF0000"/><rect x="1035" y="525" width="2" height="11" fill="#FF0000"/><rect x="1038" y="287" width="2" height="1" fill="#008000"/><rect x="1038" y="286" width="1" height="1" fill="#008000"/><rect x="1038" y="288" width="1" height="2" fill="#008000"/><rect x="1038" y="526" width="2" height="10" fill="#008000"/><rect x="1041" y="286" width="2" height="5" fill="#FF0000"/><rect x="1041" y="283" width="1" height="3" fill="#FF0000"/><rect x="1041" y="291" width="1" height="1" fill="#FF0000"/><rect x="1041" y="525" width="2" height="11" fill="#FF0000"/><rect x="1043" y="287" width="2" height="7" fill="#008000"/><rect x="1043" y="286" width="1" height="1" fill="#008000"/><rect x="1043" y="294" width="1" height="3" fill="#008000"/><rect x="1043" y="524" width="2" height="12" fill="#008000"/><rect x="1046" y="293" width="2" height="7" fill="#008000"/><rect x="1046" y="291" width="1" height="2" fill="#008000"/><rect x="1046" y="300" width="1" height="4" fill="#008000"/><rect x="1046" y="520" width="2" height="16" fill="#008000"/><rect x="1049" y="297" width="2" height="5" fill="#008000"/><rect x="1049" y="296" width="1" height="1" fill="#008000"/><rect x="1049" y="302" width="1" height="2" fill="#008000"/><rect x="1049" y="529" width="2" height="7" fill="#008000"/><rect x="1052" y="300" width="2" height="1" fill="#FF0000"/><rect x="1052" y="298" width="1" height="2" fill="#FF0000"/><rect x="1052" y="301" width="1" height="1" fill="#FF0000"/><rect x="1052" y="523" width="2" height="13" fill="#FF0000"/><rect x="1055" y="297" width="2" height="4" fill="#FF0000"/><rect x="1055" y="295" width="1" height="2" fill="#FF0000"/><rect x="1055" y="301" width="1" height="1" fill="#FF0000"/><rect x="1055" y="525" width="2" height="11" fill="#FF0000"/><rect x="1058" y="302" width="2" height="5" fill="#008000"/><rect x="1058" y="301" width="1" height="1" fill="#008000"/><rect x="1058" y="307" width="1" height="10" fill="#008000"/><rect x="1058" y="525" width="2" height="11" fill="#008000"/><rect x="1060" y="299" width="2" height="8" fill="#FF0000"/><rect x="1060" y="297" width="1" height="2" fill="#FF0000"/><rect x="1060" y="307" width="1" height="10" fill="#FF0000"/><rect x="1060" y="523" width="2" height="13" fill="#FF0000"/><rect x="1063" y="286" width="2" height="15" fill="#FF0000"/><rect x="1063" y="285" width="1" height="1" fill="#FF0000"/><rect x="1063" y="301" width="1" height="7" fill="#FF0000"/><rect x="1063" y="510" width="2" height="26" fill="#FF0000"/><rect x="1066" y="276" width="2" height="8" fill="#008000"/><rect x="1066" y="273" width="1" height="3" fill="#008000"/><rect x="1066" y="284" width="1" height="6" fill="#008000"/><rect x="1066" y="528" width="2" height="8" fill="#008000"/></g>
<g shape-rendering="crispEdges"><rect x="68" y="593" width="1" height="10" fill="#008000"/><rect x="71" y="593" width="1" height="9" fill="#008000"/><rect x="74" y="593" width="1" height="8" fill="#008000"/><rect x="76" y="593" width="1" height="7" fill="#008000"/><rect x="79" y="593" width="1" height="4" fill="#008000"/><rect x="82" y="593" width="1" height="1" fill="#008000"/><rect x="85" y="593" width="1" height="1" fill="#008000"/><rect x="88" y="593" width="1" height="1" fill="#008000"/><rect x="91" y="593" width="1" height="2" fill="#008000"/><rect x="93" y="593" width="1" height="3" fill="#008000"/><rect x="96" y="593" width="1" height="3" fill="#008000"/><rect x="99" y="593" width="1" height="3" fill="#008000"/><rect x="102" y="593" width="1" height="4" fill="#008000"/><rect x="105" y="593" width="1" height="4" fill="#008000"/><rect x="108" y="593" width="1" height="3" fill="#008000"/><rect x="110" y="593" width="1" height="3" fill="#008000"/><rect x="113" y="593" width="1" height="2" fill="#008000"/><rect x="116" y="593" width="1" height="1" fill="#008000"/><rect x="119" y="593" width="1" height="1" fill="#008000"/><rect x="122" y="592" width="1" height="1" fill="#FF0000"/><rect x="125" y="592" width="1" height="1" fill="#FF0000"/><rect x="127" y="592" width="1" height="1" fill="#FF0000"/><rect x="130" y="592" width="1" height="1" fill="#FF0000"/><rect x="133" y="591" width="1" height="2" fill="#FF0000"/><rect x="136" y="591" width="1" height="2" fill="#FF0000"/><rect x="139" y="592" width="1" height="1" fill="#FF0000"/><rect x="142" y="593" width="1" height="1" fill="#008000"/><rect x="144" y="593" width="1" height="1" fill="#008000"/><rect x="147" y="593" width="1" height="1" fill="#008000"/><rect x="150" y="593" width="1" height="1" fill="#008000"/><rect x="153" y="593" width="1" height="1" fill="#008000"/><rect x="156" y="593" width="1" height="1" fill="#008000"/><rect x="158" y="593" width="1" height="1" fill="#008000"/><rect x="161" y="593" width="1" height="1" fill="#008000"/><rect x="164" y="593" width="1" height="1" fill="#008000"/><rect x="167" y="593" width="1" height="1" fill="#008000"/><rect x="170" y="593" width="1" height="1" fill="#008000"/><rect x="173" y="592" width="1" height="1" fill="#FF0000"/><rect x="175" y="592" width="1" height="1" fill="#FF0000"/><rect x="178" y="593" width="1" height="1" fill="#008000"/><rect x="181" y="593" width="1" height="1" fill="#008000"/><rect x="184" y="592" width="1" height="1" fill="#FF0000"/><rect x="187" y="590" width="1" height="3" fill="#FF0000"/><rect x="190" y="589" width="1" height="4" fill="#FF0000"/><rect x="192" y="590" width="1" height="3" fill="#FF0000"/><rect x="195" y="590" width="1" height="3" fill="#FF0000"/><rect x="198" y="591" width="1" height="2" fill="#FF0000"/><rect x="201" y="591" width="1" height="2" fill="#FF0000"/><rect x="204" y="591" width="1" height="2" fill="#FF0000"/><rect x="207" y="592" width="1" height="1" fill="#FF0000"/><rect x="209" y="592" width="1" height="1" fill="#FF0000"/><rect x="212" y="592" width="1" height="1" fill="#FF0000"/><rect x="215" y="592" width="1" height="1" fill="#FF0000"/><rect x="218" y="592" width="1" height="1" fill="#FF0000"/><rect x="221" y="592" width="1" height="1" fill="#FF0000"/><rect x="223" y="592" width="1" height="1" fill="#FF0000"/><rect x="226" y="592" width="1" height="1" fill="#FF0000"/><rect x="229" y="592" width="1" height="1" fill="#FF0000"/><rect x="232" y="593" width="1" height="1" fill="#008000"/><rect x="235" y="593" width="1" height="1" fill="#008000"/><rect x="238" y="593" width="1" height="2" fill="#008000"/><rect x="240" y="593" width="1" height="2" fill="#008000"/><rect x="243" y="593" width="1" height="2" fill="#008000"/><rect x="246" y="593" width="1" height="2" fill="#008000"/><rect x="249" y="593" width="1" height="1" fill="#008000"/><rect x="252" y="593" width="1" height="1" fill="#008000"/><rect x="255" y="593" width="1" height="1" fill="#008000"/><rect x="257" y="593" width="1" height="1" fill="#008000"/><rect x="260" y="592" width="1" height="1" fill="#FF0000"/><rect x="263" y="592" width="1" height="1" fill="#FF0000"/><rect x="266" y="592" width="1" height="1" fill="#FF0000"/><rect x="269" y="592" width="1" height="1" fill="#FF0000"/><rect x="272" y="592" width="1" height="1" fill="#FF0000"/><rect x="274" y="592" width="1" height="1" fill="#FF0000"/><rect x="277" y="592" width="1" height="1" fill="#FF0000"/><rect x="280" y="593" width="1" height="1" fill="#008000"/><rect x="283" y="593" width="1" height="1" fill="#008000"/><rect x="286" y="593" width="1" height="1" fill="#008000"/><rect x="289" y="593" width="1" height="1" fill="#008000"/><rect x="291" y="593" width="1" height="1" fill="#008000"/><rect x="294" y="593" width="1" height="1" fill="#008000"/><rect x="297" y="593" width="1" height="1" fill="#008000"/><rect x="300" y="593" width="1" height="1" fill="#008000"/><rect x="303" y="593" width="1" height="1" fill="#008000"/><rect x="305" y="593" width="1" height="1" fill="#008000"/><rect x="308" y="592" width="1" height="1" fill="#FF0000"/><rect x="311" y="592" width="1" height="1" fill="#FF0000"/><rect x="314" y="592" width="1" height="1" fill="#FF0000"/><rect x="317" y="592" width="1" height="1" fill="#FF0000"/><rect x="320" y="592" width="1" height="1" fill="#FF0000"/><rect x="322" y="592" width="1" height="1" fill="#FF0000"/><rect x="325" y="592" width="1" height="1" fill="#FF0000"/><rect x="328" y="592" width="1" height="1" fill="#FF0000"/><rect x="331" y="592" width="1" height="1" fill="#FF0000"/><rect x="334" y="592" width="1" height="1" fill="#FF0000"/><rect x="337" y="592" width="1" height="1" fill="#FF0000"/><rect x="339" y="592" width="1" height="1" fill="#FF0000"/><rect x="342" y="592" width="1" height="1" fill="#FF0000"/><rect x="345" y="592" width="1" height="1" fill="#FF0000"/><rect x="348" y="592" width="1" height="1" fill="#FF0000"/><rect x="351" y="592" width="1" height="1" fill="#FF0000"/><rect x="354" y="592" width="1" height="1" fill="#FF0000"/><rect x="356" y="592" width="1" height="1" fill="#FF0000"/><rect x="359" y="592" width="1" height="1" fill="#FF0000"/><rect x="362" y="592" width="1" height="1" fill="#FF0000"/><rect x="365" y="592" width="1" height="1" fill="#FF0000"/><rect x="368" y="592" width="1" height="1" fill="#FF0000"/><rect x="371" y="592" width="1" height="1" fill="#FF0000"/><rect x="373" y="592" width="1" height="1" fill="#FF0000"/><rect x="376" y="592" width="1" height="1" fill="#FF0000"/><rect x="379" y="592" width="1" height="1" fill="#FF0000"/><rect x="382" y="592" width="1" height="1" fill="#FF0000"/><rect x="385" y="592" width="1" height="1" fill="#FF0000"/><rect x="387" y="592" width="1" height="1" fill="#FF0000"/><rect x="390" y="591" width="1" height="2" fill="#FF0000"/><rect x="393" y="592" width="1" height="1" fill="#FF0000"/><rect x="396" y="593" width="1" height="1" fill="#008000"/><rect x="399" y="593" width="1" height="1" fill="#008000"/><rect x="402" y="593" width="1" height="2" fill="#008000"/><rect x="404" y="593" width="1" height="3" fill="#008000"/><rect x="407" y="593" width="1" height="3" fill="#008000"/><rect x="410" y="593" width="1" height="2" fill="#008000"/><rect x="413" y="593" width="1" height="2" fill="#008000"/><rect x="416" y="593" width="1" height="2" fill="#008000"/><rect x="419" y="593" width="1" height="2" fill="#008000"/><rect x="421" y="593" width="1" height="2" fill="#008000"/><rect x="424" y="593" width="1" height="1" fill="#008000"/><rect x="427" y="593" width="1" height="1" fill="#008000"/><rect x="430" y="593" width="1" height="1" fill="#008000"/><rect x="433" y="593" width="1" height="1" fill="#008000"/><rect x="436" y="593" width="1" height="1" fill="#008000"/><rect x="438" y="593" width="1" height="1" fill="#008000"/><rect x="441" y="593" width="1" height="1" fill="#008000"/><rect x="444" y="593" width="1" height="1" fill="#008000"/><rect x="447" y="593" width="1" height="1" fill="#008000"/><rect x="450" y="593" width="1" height="1" fill="#008000"/><rect x="452" y="593" width="1" height="1" fill="#008000"/><rect x="455" y="593" width="1" height="1" fill="#008000"/><rect x="458" y="593" width="1" height="2" fill="#008000"/><rect x="461" y="592" width="1" height="1" fill="#FF0000"/><rect x="464" y="589" width="1" height="4" fill="#FF0000"/><rect x="467" y="586" width="1" height="7" fill="#FF0000"/><rect x="469" y="584" width="1" height="9" fill="#FF0000"/><rect x="472" y="583" width="1" height="10" fill="#FF0000"/><rect x="475" y="582" width="1" height="11" fill="#FF0000"/><rect x="478" y="585" width="1" height="8" fill="#FF0000"/><rect x="481" y="587" width="1" height="6" fill="#FF0000"/><rect x="484" y="589" width="1" height="4" fill="#FF0000"/><rect x="486" y="589" width="1" height="4" fill="#FF0000"/><rect x="489" y="589" width="1" height="4" fill="#FF0000"/><rect x="492" y="590" width="1" height="3" fill="#FF0000"/><rect x="495" y="590" width="1" height="3" fill="#FF0000"/><rect x="498" y="591" width="1" height="2" fill="#FF0000"/><rect x="501" y="592" width="1" height="1" fill="#FF0000"/><rect x="503" y="592" width="1" height="1" fill="#FF0000"/><rect x="506" y="593" width="1" height="2" fill="#008000"/><rect x="509" y="593" width="1" height="4" fill="#008000"/><rect x="512" y="593" width="1" height="5" fill="#008000"/><rect x="515" y="593" width="1" height="7" fill="#008000"/><rect x="518" y="593" width="1" height="8" fill="#008000"/><rect x="520" y="593" width="1" height="8" fill="#008000"/><rect x="523" y="593" width="1" height="7" fill="#008000"/><rect x="526" y="593" width="1" height="7" fill="#008000"/><rect x="529" y="593" width="1" height="6" fill="#008000"/><rect x="532" y="593" width="1" height="5" fill="#008000"/><rect x="534" y="593" width="1" height="4" fill="#008000"/><rect x="537" y="593" width="1" height="3" fill="#008000"/><rect x="540" y="593" width="1" height="3" fill="#008000"/><rect x="543" y="593" width="1" height="2" fill="#008000"/><rect x="546" y="593" width="1" height="2" fill="#008000"/><rect x="549" y="593" width="1" height="1" fill="#008000"/><rect x="551" y="593" width="1" height="1" fill="#008000"/><rect x="554" y="593" width="1" height="1" fill="#008000"/><rect x="557" y="592" width="1" height="1" fill="#FF0000"/><rect x="560" y="592" width="1" height="1" fill="#FF0000"/><rect x="563" y="592" width="1" height="1" fill="#FF0000"/><rect x="566" y="593" width="1" height="1" fill="#008000"/><rect x="568" y="593" width="1" height="1" fill="#008000"/><rect x="571" y="593" width="1" height="1" fill="#008000"/><rect x="574" y="592" width="1" height="1" fill="#FF0000"/><rect x="577" y="591" width="1" height="2" fill="#FF0000"/><rect x="580" y="590" width="1" height="3" fill="#FF0000"/><rect x="583" y="588" width="1" height="5" fill="#FF0000"/><rect x="585" y="587" width="1" height="6" fill="#FF0000"/><rect x="588" y="587" width="1" height="6" fill="#FF0000"/><rect x="591" y="588" width="1" height="5" fill="#FF0000"/><rect x="594" y="589" width="1" height="4" fill="#FF0000"/><rect x="597" y="590" width="1" height="3" fill="#FF0000"/><rect x="600" y="591" width="1" height="2" fill="#FF0000"/><rect x="602" y="591" width="1" height="2" fill="#FF0000"/><rect x="605" y="591" width="1" height="2" fill="#FF0000"/><rect x="608" y="592" width="1" height="1" fill="#FF0000"/><rect x="611" y="592" width="1" height="1" fill="#FF0000"/><rect x="614" y="592" width="1" height="1" fill="#FF0000"/><rect x="616" y="592" width="1" height="1" fill="#FF0000"/><rect x="619" y="592" width="1" height="1" fill="#FF0000"/><rect x="622" y="593" width="1" height="1" fill="#008000"/><rect x="625" y="593" width="1" height="1" fill="#008000"/><rect x="628" y="593" width="1" height="1" fill="#008000"/><rect x="631" y="593" width="1" height="1" fill="#008000"/><rect x="633" y="593" width="1" height="1" fill="#008000"/><rect x="636" y="593" width="1" height="1" fill="#008000"/><rect x="639" y="593" width="1" height="1" fill="#008000"/><rect x="642" y="593" width="1" height="1" fill="#008000"/><rect x="645" y="593" width="1" height="1" fill="#008000"/><rect x="648" y="593" width="1" height="1" fill="#008000"/><rect x="650" y="593" width="1" height="1" fill="#008000"/><rect x="653" y="593" width="1" height="1" fill="#008000"/><rect x="656" y="593" width="1" height="2" fill="#008000"/><rect x="659" y="593" width="1" height="3" fill="#008000"/><rect x="662" y="593" width="1" height="4" fill="#008000"/><rect x="665" y="593" width="1" height="4" fill="#008000"/><rect x="667" y="593" width="1" height="4" fill="#008000"/><rect x="670" y="593" width="1" height="4" fill="#008000"/><rect x="673" y="593" width="1" height="4" fill="#008000"/><rect x="676" y="593" width="1" height="5" fill="#008000"/><rect x="679" y="593" width="1" height="5" fill="#008000"/><rect x="682" y="593" width="1" height="6" fill="#008000"/><rect x="684" y="593" width="1" height="6" fill="#008000"/><rect x="687" y="593" width="1" height="7" fill="#008000"/><rect x="690" y="593" width="1" height="6" fill="#008000"/><rect x="693" y="593" width="1" height="4" fill="#008000"/><rect x="696" y="593" width="1" height="3" fill="#008000"/><rect x="698" y="593" width="1" height="2" fill="#008000"/><rect x="701" y="593" width="1" height="2" fill="#008000"/><rect x="704" y="593" width="1" height="1" fill="#008000"/><rect x="707" y="593" width="1" height="1" fill="#008000"/><rect x="710" y="593" width="1" height="1" fill="#008000"/><rect x="713" y="592" width="1" height="1" fill="#FF0000"/><rect x="715" y="592" width="1" height="1" fill="#FF0000"/><rect x="718" y="591" width="1" height="2" fill="#FF0000"/><rect x="721" y="590" width="1" height="3" fill="#FF0000"/><rect x="724" y="589" width="1" height="4" fill="#FF0000"/><rect x="727" y="590" width="1" height="3" fill="#FF0000"/><rect x="730" y="590" width="1" height="3" fill="#FF0000"/><rect x="732" y="590" width="1" height="3" fill="#FF0000"/><rect x="735" y="590" width="1" height="3" fill="#FF0000"/><rect x="738" y="591" width="1" height="2" fill="#FF0000"/><rect x="741" y="591" width="1" height="2" fill="#FF0000"/><rect x="744" y="591" width="1" height="2" fill="#FF0000"/><rect x="747" y="592" width="1" height="1" fill="#FF0000"/><rect x="749" y="592" width="1" height="1" fill="#FF0000"/><rect x="752" y="592" width="1" height="1" fill="#FF0000"/><rect x="755" y="593" width="1" height="1" fill="#008000"/><rect x="758" y="593" width="1" height="1" fill="#008000"/><rect x="761" y="593" width="1" height="1" fill="#008000"/><rect x="763" y="593" width="1" height="2" fill="#008000"/><rect x="766" y="593" width="1" height="2" fill="#008000"/><rect x="769" y="593" width="1" height="2" fill="#008000"/><rect x="772" y="593" width="1" height="2" fill="#008000"/><rect x="775" y="593" width="1" height="1" fill="#008000"/><rect x="778" y="593" width="1" height="1" fill="#008000"/><rect x="780" y="593" width="1" height="1" fill="#008000"/><rect x="783" y="593" width="1" height="1" fill="#008000"/><rect x="786" y="593" width="1" height="1" fill="#008000"/><rect x="789" y="593" width="1" height="1" fill="#008000"/><rect x="792" y="593" width="1" height="2" fill="#008000"/><rect x="795" y="593" width="1" height="2" fill="#008000"/><rect x="797" y="593" width="1" height="2" fill="#008000"/><rect x="800" y="592" width="1" height="1" fill="#FF0000"/><rect x="803" y="592" width="1" height="1" fill="#FF0000"/><rect x="806" y="591" width="1" height="2" fill="#FF0000"/><rect x="809" y="591" width="1" height="2" fill="#FF0000"/><rect x="812" y="591" width="1" height="2" fill="#FF0000"/><rect x="814" y="591" width="1" height="2" fill="#FF0000"/><rect x="817" y="590" width="1" height="3" fill="#FF0000"/><rect x="820" y="589" width="1" height="4" fill="#FF0000"/><rect x="823" y="588" width="1" height="5" fill="#FF0000"/><rect x="826" y="588" width="1" height="5" fill="#FF0000"/><rect x="829" y="587" width="1" height="6" fill="#FF0000"/><rect x="831" y="587" width="1" height="6" fill="#FF0000"/><rect x="834" y="588" width="1" height="5" fill="#FF0000"/><rect x="837" y="589" width="1" height="4" fill="#FF0000"/><rect x="840" y="590" width="1" height="3" fill="#FF0000"/><rect x="843" y="591" width="1" height="2" fill="#FF0000"/><rect x="845" y="591" width="1" height="2" fill="#FF0000"/><rect x="848" y="592" width="1" height="1" fill="#FF0000"/><rect x="851" y="592" width="1" height="1" fill="#FF0000"/><rect x="854" y="593" width="1" height="1" fill="#008000"/><rect x="857" y="593" width="1" height="1" fill="#008000"/><rect x="860" y="593" width="1" height="2" fill="#008000"/><rect x="862" y="593" width="1" height="2" fill="#008000"/><rect x="865" y="593" width="1" height="2" fill="#008000"/><rect x="868" y="593" width="1" height="1" fill="#008000"/><rect x="871" y="593" width="1" height="1" fill="#008000"/><rect x="874" y="593" width="1" height="1" fill="#008000"/><rect x="877" y="593" width="1" height="1" fill="#008000"/><rect x="879" y="592" width="1" height="1" fill="#FF0000"/><rect x="882" y="589" width="1" height="4" fill="#FF0000"/><rect x="885" y="588" width="1" height="5" fill="#FF0000"/><rect x="888" y="587" width="1" height="6" fill="#FF0000"/><rect x="891" y="588" width="1" height="5" fill="#FF0000"/><rect x="894" y="590" width="1" height="3" fill="#FF0000"/><rect x="896" y="592" width="1" height="1" fill="#FF0000"/><rect x="899" y="593" width="1" height="1" fill="#008000"/><rect x="902" y="593" width="1" height="2" fill="#008000"/><rect x="905" y="593" width="1" height="2" fill="#008000"/><rect x="908" y="593" width="1" height="1" fill="#008000"/><rect x="911" y="593" width="1" height="1" fill="#008000"/><rect x="913" y="592" width="1" height="1" fill="#FF0000"/><rect x="916" y="592" width="1" height="1" fill="#FF0000"/><rect x="919" y="593" width="1" height="1" fill="#008000"/><rect x="922" y="593" width="1" height="2" fill="#008000"/><rect x="925" y="593" width="1" height="3" fill="#008000"/><rect x="927" y="593" width="1" height="3" fill="#008000"/><rect x="930" y="593" width="1" height="3" fill="#008000"/><rect x="933" y="593" width="1" height="1" fill="#008000"/><rect x="936" y="592" width="1" height="1" fill="#FF0000"/><rect x="939" y="592" width="1" height="1" fill="#FF0000"/><rect x="942" y="592" width="1" height="1" fill="#FF0000"/><rect x="944" y="592" width="1" height="1" fill="#FF0000"/><rect x="947" y="593" width="1" height="1" fill="#008000"/><rect x="950" y="593" width="1" height="1" fill="#008000"/><rect x="953" y="593" width="1" height="1" fill="#008000"/><rect x="956" y="591" width="1" height="2" fill="#FF0000"/><rect x="959" y="588" width="1" height="5" fill="#FF0000"/><rect x="961" y="587" width="1" height="6" fill="#FF0000"/><rect x="964" y="585" width="1" height="8" fill="#FF0000"/><rect x="967" y="584" width="1" height="9" fill="#FF0000"/><rect x="970" y="586" width="1" height="7" fill="#FF0000"/><rect x="973" y="591" width="1" height="2" fill="#FF0000"/><rect x="976" y="592" width="1" height="1" fill="#FF0000"/><rect x="978" y="592" width="1" height="1" fill="#FF0000"/><rect x="981" y="592" width="1" height="1" fill="#FF0000"/><rect x="984" y="593" width="1" height="1" fill="#008000"/><rect x="987" y="593" width="1" height="1" fill="#008000"/><rect x="990" y="587" width="1" height="6" fill="#FF0000"/><rect x="992" y="584" width="1" height="9" fill="#FF0000"/><rect x="995" y="579" width="1" height="14" fill="#FF0000"/><rect x="998" y="576" width="1" height="17" fill="#FF0000"/><rect x="1001" y="576" width="1" height="17" fill="#FF0000"/><rect x="1004" y="576" width="1" height="17" fill="#FF0000"/><rect x="1007" y="577" width="1" height="16" fill="#FF0000"/><rect x="1009" y="578" width="1" height="15" fill="#FF0000"/><rect x="1012" y="581" width="1" height="12" fill="#FF0000"/><rect x="1015" y="588" width="1" height="5" fill="#FF0000"/><rect x="1018" y="593" width="1" height="4" fill="#008000"/><rect x="1021" y="593" width="1" height="12" fill="#008000"/><rect x="1024" y="593" width="1" height="19" fill="#008000"/><rect x="1026" y="593" width="1" height="22" fill="#008000"/><rect x="1029" y="593" width="1" height="26" fill="#008000"/><rect x="1032" y="593" width="1" height="30" fill="#008000"/><rect x="1035" y="593" width="1" height="30" fill="#008000"/><rect x="1038" y="593" width="1" height="29" fill="#008000"/><rect x="1041" y="593" width="1" height="28" fill="#008000"/><rect x="1043" y="593" width="1" height="26" fill="#008000"/><rect x="1046" y="593" width="1" height="22" fill="#008000"/><rect x="1049" y="593" width="1" height="20" fill="#008000"/><rect x="1052" y="593" width="1" height="19" fill="#008000"/><rect x="1055" y="593" width="1" height="17" fill="#008000"/><rect x="1058" y="593" width="1" height="16" fill="#008000"/><rect x="1060" y="593" width="1" height="15" fill="#008000"/><rect x="1063" y="593" width="1" height="9" fill="#008000"/><rect x="1066" y="593" width="1" height="4" fill="#008000"/><rect x="1069" y="592" width="1" height="1" fill="#FF0000"/><rect x="1072" y="590" width="1" height="3" fill="#FF0000"/><rect x="1074" y="590" width="1" height="3" fill="#FF0000"/><rect x="1077" y="589" width="1" height="4" fill="#FF0000"/><rect x="1080" y="588" width="1" height="5" fill="#FF0000"/><rect x="1083" y="588" width="1" height="5" fill="#FF0000"/><rect x="1086" y="588" width="1" height="5" fill="#FF0000"/><rect x="1089" y="588" width="1" height="5" fill="#FF0000"/><rect x="1091" y="588" width="1" height="5" fill="#FF0000"/><rect x="1094" y="588" width="1" height="5" fill="#FF0000"/><rect x="1097" y="588" width="1" height="5" fill="#FF0000"/><rect x="1100" y="587" width="1" height="6" fill="#FF0000"/><rect x="1103" y="588" width="1" height="5" fill="#FF0000"/><rect x="1106" y="588" width="1" height="5" fill="#FF0000"/><rect x="1108" y="588" width="1" height="5" fill="#FF0000"/><rect x="1111" y="588" width="1" height="5" fill="#FF0000"/><rect x="1114" y="589" width="1" height="4" fill="#FF0000"/><rect x="1117" y="589" width="1" height="4" fill="#FF0000"/><rect x="1120" y="589" width="1" height="4" fill="#FF0000"/><rect x="1123" y="589" width="1" height="4" fill="#FF0000"/><rect x="1125" y="590" width="1" height="3" fill="#FF0000"/><rect x="1128" y="590" width="1" height="3" fill="#FF0000"/><rect x="1131" y="590" width="1" height="3" fill="#FF0000"/><rect x="1134" y="590" width="1" height="3" fill="#FF0000"/><rect x="1137" y="591" width="1" height="2" fill="#FF0000"/><rect x="1140" y="591" width="1" height="2" fill="#FF0000"/><rect x="1142" y="591" width="1" height="2" fill="#FF0000"/><rect x="1145" y="591" width="1" height="2" fill="#FF0000"/><rect x="1148" y="591" width="1" height="2" fill="#FF0000"/><rect x="1151" y="591" width="1" height="2" fill="#FF0000"/><rect x="1154" y="591" width="1" height="2" fill="#FF0000"/><rect x="1156" y="592" width="1" height="1" fill="#FF0000"/></g>
<polyline points="69.0,598.7 77.0,599.9 83.0,597.5 91.5,599.3 96.3,600.8 103.6,603.5 113.2,603.5 120.5,602.3 135.0,601.1 144.7,602.5 168.9,602.5 181.0,602.3 190.7,599.3 200.0,598.7 215.6,595.6 226.0,595.5 241.5,597.2 267.4,593.8 288.0,595.5 319.0,594.5 340.0,594.6 391.9,596.4 404.8,599.5 417.8,600.3 443.7,596.4 459.3,592.5 469.6,583.5 474.8,580.4 495.6,579.1 503.3,580.9 516.3,588.6 526.7,591.2 542.2,592.5 573.3,593.1 586.3,589.2 596.7,590.7 620.0,591.6 635.6,593.5 653.7,595.5 661.5,598.7 671.9,599.9 687.4,603.8 697.8,603.1 713.3,600.7 723.7,596.6 739.3,594.8 754.8,594.2 767.8,596.3 780.7,596.1 796.3,597.4 806.7,593.5 817.0,589.6 830.0,584.9 850.7,584.4 866.3,587.0 876.7,585.7 884.5,581.3 889.6,579.7 896.8,580.9 902.7,582.6 915.9,581.4 930.3,584.3 942.2,580.9 951.8,579.7 961.4,573.7 968.6,570.6 973.4,573.0 987.7,573.0 997.3,559.9 1004.5,556.3 1011.7,553.9 1016.5,558.7 1023.6,574.2 1033.2,589.8 1042.8,600.6 1052.4,606.5 1060.7,610.6 1069.1,606.5 1083.5,601.3 1100.3,598.2 1119.4,596.5 1158.0,594.6" fill="none" stroke="#000000" stroke-width="1" shape-rendering="crispEdges"/>
<polyline points="69.0,593.6 78.2,596.8 84.2,597.5 93.9,598.7 104.8,601.7 114.5,602.3 144.7,602.0 175.0,602.5 187.0,601.7 200.0,599.6 215.6,596.1 241.5,596.0 267.4,594.5 288.0,595.0 340.0,594.6 402.2,597.7 417.8,599.5 448.9,595.1 469.6,588.1 485.2,581.6 500.7,580.4 521.5,586.1 537.0,590.7 560.4,593.1 620.0,591.6 645.9,594.2 671.9,598.1 697.8,601.8 713.3,600.7 728.9,597.4 754.8,594.0 780.7,596.1 801.5,596.1 817.0,590.9 835.2,587.0 853.3,584.4 868.9,586.2 884.5,583.9 897.4,581.3 927.9,582.1 935.1,583.3 951.8,579.0 975.8,573.7 990.1,572.3 999.7,567.0 1014.1,559.9 1018.9,561.1 1033.2,574.2 1047.6,593.4 1062.0,604.2 1071.5,607.0 1083.5,604.0 1095.5,601.7 1119.4,598.5 1140.0,596.5 1158.0,595.3" fill="none" stroke="#0000FF" stroke-width="1" shape-rendering="crispEdges"/>
<rect x="1148.5" y="377.5" width="14" height="96" rx="6" fill="#fff" stroke="#A8A8A8"/>
</svg>
<div class="t" style="left:69px;top:101px;color:#A0A0A0;font-size:9.2px;font-family:'Liberation Sans',sans-serif;letter-spacing:0.2px;transform:scaleX(0.86);transform-origin:0 0;">06-11</div>
<div class="t" style="left:120px;top:101px;color:#A0A0A0;font-size:9.2px;font-family:'Liberation Sans',sans-serif;letter-spacing:0.2px;transform:scaleX(0.86);transform-origin:0 0;">07-12</div>
<div class="t" style="left:183px;top:101px;color:#A0A0A0;font-size:9.2px;font-family:'Liberation Sans',sans-serif;letter-spacing:0.2px;transform:scaleX(0.86);transform-origin:0 0;">08-13</div>
<div class="t" style="left:246px;top:101px;color:#A0A0A0;font-size:9.2px;font-family:'Liberation Sans',sans-serif;letter-spacing:0.2px;transform:scaleX(0.86);transform-origin:0 0;">09-12</div>
<div class="t" style="left:311px;top:101px;color:#A0A0A0;font-size:9.2px;font-family:'Liberation Sans',sans-serif;letter-spacing:0.2px;transform:scaleX(0.86);transform-origin:0 0;">10-19</div>
<div class="t" style="left:373px;top:101px;color:#A0A0A0;font-size:9.2px;font-family:'Liberation Sans',sans-serif;letter-spacing:0.2px;transform:scaleX(0.86);transform-origin:0 0;">11-20</div>
<div class="t" style="left:437px;top:101px;color:#A0A0A0;font-size:9.2px;font-family:'Liberation Sans',sans-serif;letter-spacing:0.2px;transform:scaleX(0.86);transform-origin:0 0;">12-20</div>
<div class="t" style="left:500px;top:101px;color:#A0A0A0;font-size:9.2px;font-family:'Liberation Sans',sans-serif;letter-spacing:0.2px;transform:scaleX(0.86);transform-origin:0 0;">01-24</div>
<div class="t" style="left:563px;top:101px;color:#A0A0A0;font-size:9.2px;font-family:'Liberation Sans',sans-serif;letter-spacing:0.2px;transform:scaleX(0.86);transform-origin:0 0;">03-04</div>
<div class="t" style="left:627px;top:101px;color:#A0A0A0;font-size:9.2px;font-family:'Liberation Sans',sans-serif;letter-spacing:0.2px;transform:scaleX(0.86);transform-origin:0 0;">04-03</div>
<div class="t" style="left:691px;top:101px;color:#A0A0A0;font-size:9.2px;font-family:'Liberation Sans',sans-serif;letter-spacing:0.2px;transform:scaleX(0.86);transform-origin:0 0;">05-10</div>
<div class="t" style="left:754px;top:101px;color:#A0A0A0;font-size:9.2px;font-family:'Liberation Sans',sans-serif;letter-spacing:0.2px;transform:scaleX(0.86);transform-origin:0 0;">06-14</div>
<div class="t" style="left:817px;top:101px;color:#A0A0A0;font-size:9.2px;font-family:'Liberation Sans',sans-serif;letter-spacing:0.2px;transform:scaleX(0.86);transform-origin:0 0;">07-16</div>
<div class="t" style="left:881px;top:101px;color:#A0A0A0;font-size:9.2px;font-family:'Liberation Sans',sans-serif;letter-spacing:0.2px;transform:scaleX(0.86);transform-origin:0 0;">08-15</div>
<div class="t" style="left:944px;top:101px;color:#A0A0A0;font-size:9.2px;font-family:'Liberation Sans',sans-serif;letter-spacing:0.2px;transform:scaleX(0.86);transform-origin:0 0;">09-16</div>
<div class="t" style="left:1007px;top:101px;color:#A0A0A0;font-size:9.2px;font-family:'Liberation Sans',sans-serif;letter-spacing:0.2px;transform:scaleX(0.86);transform-origin:0 0;">10-25</div>
<div class="t" style="left:1071px;top:101px;color:#A0A0A0;font-size:9.2px;font-family:'Liberation Sans',sans-serif;letter-spacing:0.2px;transform:scaleX(0.86);transform-origin:0 0;">11-26</div>
<div class="t" style="left:1134px;top:101px;color:#A0A0A0;font-size:9.2px;font-family:'Liberation Sans',sans-serif;letter-spacing:0.2px;transform:scaleX(0.86);transform-origin:0 0;">12-26</div>
<div class="t" style="left:0px;top:104px;color:#0000FF;font-size:13px;font-family:'Liberation Serif','WenQuanYi Zen Hei',serif;">日K线</div>
<div class="t k" style="left:67px;top:112px;color:#000;font-size:13px;font-family:'Liberation Sans','WenQuanYi Zen Hei','Noto Sans CJK SC',sans-serif;">极反通道</div>
<div class="t" style="left:138px;top:114px;color:#FF0000;font-size:12px;font-family:'Liberation Sans',sans-serif;transform:scaleX(0.92);transform-origin:0 0;">Tp=7.1622</div>
<div class="t" style="left:217px;top:114px;color:#0000FF;font-size:12px;font-family:'Liberation Sans',sans-serif;transform:scaleX(0.92);transform-origin:0 0;">Up=6.3773</div>
<div class="t" style="left:296px;top:114px;color:#000;font-size:12px;font-family:'Liberation Sans',sans-serif;transform:scaleX(0.92);transform-origin:0 0;">Md=5.4815</div>
<div class="t" style="left:375px;top:114px;color:#0000FF;font-size:12px;font-family:'Liberation Sans',sans-serif;transform:scaleX(0.92);transform-origin:0 0;">Dn=4.2908</div>
<div class="t" style="left:454px;top:114px;color:#FF0000;font-size:12px;font-family:'Liberation Sans',sans-serif;transform:scaleX(0.92);transform-origin:0 0;">Bt=3.2061</div>
<div class="t" style="left:1057px;top:113px;color:#0000FF;font-size:12.5px;font-family:'Liberation Sans',sans-serif">600429<span style="font-size:13px;font-family:'Liberation Sans','WenQuanYi Zen Hei','Noto Sans CJK SC',sans-serif;margin-left:6px;position:relative;top:-1px">三元股份</span></div>
<div class="t" style="left:29px;top:462px;color:#404040;font-size:11px;font-family:'Liberation Sans',sans-serif"><span style="display:inline-block;width:6px;text-align:center">2</span><span style="display:inline-block;width:6px;text-align:center">.</span><span style="display:inline-block;width:6px;text-align:center">6</span><span style="display:inline-block;width:6px;text-align:center">2</span><span style="display:inline-block;width:6px;text-align:center">5</span><span style="display:inline-block;width:6px;text-align:center">1</span></div>
<div class="t" style="left:29px;top:486px;color:#404040;font-size:11px;font-family:'Liberation Sans',sans-serif"><span style="display:inline-block;width:6px;text-align:center">3</span><span style="display:inline-block;width:6px;text-align:center">9</span><span style="display:inline-block;width:6px;text-align:center">0</span><span style="display:inline-block;width:6px;text-align:center">3</span><span style="display:inline-block;width:6px;text-align:center">4</span><span style="display:inline-block;width:6px;text-align:center">2</span></div>
<div class="t" style="left:29px;top:501px;color:#404040;font-size:11px;font-family:'Liberation Sans',sans-serif"><span style="display:inline-block;width:6px;text-align:center">2</span><span style="display:inline-block;width:6px;text-align:center">6</span><span style="display:inline-block;width:6px;text-align:center">0</span><span style="display:inline-block;width:6px;text-align:center">2</span><span style="display:inline-block;width:6px;text-align:center">2</span><span style="display:inline-block;width:6px;text-align:center">8</span></div>
<div class="t" style="left:29px;top:516px;color:#404040;font-size:11px;font-family:'Liberation Sans',sans-serif"><span style="display:inline-block;width:6px;text-align:center">1</span><span style="display:inline-block;width:6px;text-align:center">3</span><span style="display:inline-block;width:6px;text-align:center">0</span><span style="display:inline-block;width:6px;text-align:center">1</span><span style="display:inline-block;width:6px;text-align:center">1</span><span style="display:inline-block;width:6px;text-align:center">4</span></div>
<div class="t" style="left:41px;top:553px;color:#404040;font-size:11px;font-family:'Liberation Sans',sans-serif"><span style="display:inline-block;width:6px;text-align:center">0</span><span style="display:inline-block;width:6px;text-align:center">.</span><span style="display:inline-block;width:6px;text-align:center">8</span><span style="display:inline-block;width:6px;text-align:center">8</span></div>
<div class="t" style="left:41px;top:570px;color:#404040;font-size:11px;font-family:'Liberation Sans',sans-serif"><span style="display:inline-block;width:6px;text-align:center">0</span><span style="display:inline-block;width:6px;text-align:center">.</span><span style="display:inline-block;width:6px;text-align:center">4</span><span style="display:inline-block;width:6px;text-align:center">7</span></div>
<div class="t" style="left:41px;top:587px;color:#404040;font-size:11px;font-family:'Liberation Sans',sans-serif"><span style="display:inline-block;width:6px;text-align:center">0</span><span style="display:inline-block;width:6px;text-align:center">.</span><span style="display:inline-block;width:6px;text-align:center">0</span><span style="display:inline-block;width:6px;text-align:center">5</span></div>
<div class="t" style="left:35px;top:604px;color:#404040;font-size:11px;font-family:'Liberation Sans',sans-serif"><span style="display:inline-block;width:6px;text-align:center">-</span><span style="display:inline-block;width:6px;text-align:center">0</span><span style="display:inline-block;width:6px;text-align:center">.</span><span style="display:inline-block;width:6px;text-align:center">3</span><span style="display:inline-block;width:6px;text-align:center">6</span></div>
<div class="t" style="left:0px;top:539px;color:#0000FF;font-size:13px;font-family:'Liberation Mono',monospace;letter-spacing:-1px;">MACD</div>
<div class="t" style="left:73px;top:540px;color:#000;font-size:12px;font-family:'Liberation Sans',sans-serif;transform:scaleX(0.92);transform-origin:0 0;">DIF=0.36</div>
<div class="t" style="left:144px;top:540px;color:#0000FF;font-size:12px;font-family:'Liberation Sans',sans-serif;transform:scaleX(0.94);transform-origin:0 0;">DEA=0.32</div>
<div class="t" style="left:215px;top:540px;color:#FF00FF;font-size:12px;font-family:'Liberation Sans',sans-serif;transform:scaleX(0.92);transform-origin:0 0;">MACD=0.07</div>
<div class="t" style="left:1033px;top:169px;color:#0000FF;font-size:12px;font-family:'Liberation Sans',sans-serif"><span style="display:inline-block;width:6px;text-align:center">1</span><span style="display:inline-block;width:6px;text-align:center">2</span><span style="display:inline-block;width:6px;text-align:center">.</span><span style="display:inline-block;width:6px;text-align:center">5</span><span style="display:inline-block;width:6px;text-align:center">7</span><span style="display:inline-block;width:6px;text-align:center">0</span><span style="display:inline-block;width:6px;text-align:center">0</span></div>
<div class="t" style="left:436px;top:402px;color:#0000FF;font-size:12px;font-family:'Liberation Sans',sans-serif"><span style="display:inline-block;width:6px;text-align:center">4</span><span style="display:inline-block;width:6px;text-align:center">.</span><span style="display:inline-block;width:6px;text-align:center">5</span><span style="display:inline-block;width:6px;text-align:center">5</span><span style="display:inline-block;width:6px;text-align:center">0</span><span style="display:inline-block;width:6px;text-align:center">0</span></div>
</body></html>
